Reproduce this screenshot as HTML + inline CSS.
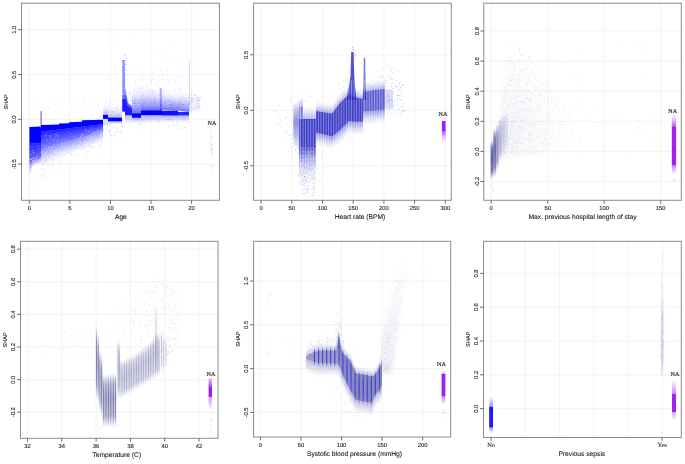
<!DOCTYPE html>
<html><head><meta charset="utf-8"><style>
html,body{margin:0;padding:0;background:#fff;}
body{width:685px;height:464px;overflow:hidden;}
svg{display:block;}
</style></head><body>
<svg width="685" height="464" viewBox="0 0 685 464">
<defs><filter id="b" filterUnits="userSpaceOnUse" x="0" y="0" width="685" height="464"><feGaussianBlur stdDeviation="0.55"/></filter><filter id="bb" filterUnits="userSpaceOnUse" x="0" y="0" width="685" height="464"><feGaussianBlur stdDeviation="2.2"/></filter><filter id="t" filterUnits="userSpaceOnUse" x="0" y="0" width="685" height="464"><feGaussianBlur stdDeviation="0.22"/></filter><linearGradient id="g4" x1="0" y1="0" x2="0" y2="1"><stop offset="0" stop-color="#6e6ea6" stop-opacity="0"/><stop offset="0.2" stop-color="#6e6ea6" stop-opacity="0.8"/><stop offset="0.45" stop-color="#6e6ea6" stop-opacity="1"/><stop offset="0.8" stop-color="#6e6ea6" stop-opacity="0.8"/><stop offset="1" stop-color="#6e6ea6" stop-opacity="0"/></linearGradient><linearGradient id="g5" x1="0" y1="0" x2="0" y2="1"><stop offset="0" stop-color="#3030d8" stop-opacity="0"/><stop offset="0.2" stop-color="#3030d8" stop-opacity="0.8"/><stop offset="0.45" stop-color="#3030d8" stop-opacity="1"/><stop offset="0.8" stop-color="#3030d8" stop-opacity="0.8"/><stop offset="1" stop-color="#3030d8" stop-opacity="0"/></linearGradient><linearGradient id="g3" x1="0" y1="0" x2="0" y2="1"><stop offset="0" stop-color="#5c5ca0" stop-opacity="0"/><stop offset="0.2" stop-color="#5c5ca0" stop-opacity="0.8"/><stop offset="0.45" stop-color="#5c5ca0" stop-opacity="1"/><stop offset="0.8" stop-color="#5c5ca0" stop-opacity="0.8"/><stop offset="1" stop-color="#5c5ca0" stop-opacity="0"/></linearGradient><linearGradient id="gm" x1="0" y1="0" x2="0" y2="1"><stop offset="0" stop-color="#a020f0" stop-opacity="0"/><stop offset="0.25" stop-color="#a020f0" stop-opacity="1"/><stop offset="0.75" stop-color="#a020f0" stop-opacity="1"/><stop offset="1" stop-color="#a020f0" stop-opacity="0"/></linearGradient></defs>
<rect width="685" height="464" fill="#fff"/>
<path d="M29.3 3.2V200.3M69.9 3.2V200.3M110.5 3.2V200.3M151 3.2V200.3M191.6 3.2V200.3M21.5 29.7H219.4M21.5 74.5H219.4M21.5 119.3H219.4M21.5 164.1H219.4" stroke="#f5f5f5" stroke-width="1.2" fill="none"/>
<g filter="url(#b)">
<path d="M132.4 36.3h0.8v0.8h-0.8zM165.1 30.4h0.8v0.8h-0.8zM153.6 52.4h0.8v0.8h-0.8zM105.8 63.1h0.8v0.8h-0.8zM103.7 57.5h0.8v0.8h-0.8zM107.0 31.8h0.8v0.8h-0.8zM142.5 87.0h0.8v0.8h-0.8zM112.4 41.7h0.8v0.8h-0.8zM162.7 96.1h0.8v0.8h-0.8zM157.7 54.8h0.8v0.8h-0.8zM197.6 28.5h0.8v0.8h-0.8zM185.8 46.7h0.8v0.8h-0.8zM114.4 33.8h0.8v0.8h-0.8zM130.8 86.2h0.8v0.8h-0.8zM118.1 68.6h0.8v0.8h-0.8zM163.9 52.9h0.8v0.8h-0.8zM154.8 29.7h0.8v0.8h-0.8zM106.0 40.4h0.8v0.8h-0.8zM168.0 57.1h0.8v0.8h-0.8zM131.4 68.9h0.8v0.8h-0.8zM145.3 47.5h0.8v0.8h-0.8zM179.4 77.4h0.8v0.8h-0.8zM124.4 68.1h0.8v0.8h-0.8zM152.5 90.6h0.8v0.8h-0.8zM172.9 46.6h0.8v0.8h-0.8z" fill="#0000ff" fill-opacity="0.15"/>
<path d="M57.9 122.6h0.7v0.7h-0.7zM99.5 116.6h0.7v0.7h-0.7zM74.7 116.2h0.7v0.7h-0.7zM36.7 114.8h0.7v0.7h-0.7zM93.7 114.1h0.7v0.7h-0.7zM63.5 109.9h0.7v0.7h-0.7zM90.3 99.3h0.7v0.7h-0.7zM99.4 111.3h0.7v0.7h-0.7zM92.9 116.8h0.7v0.7h-0.7zM68.4 119.6h0.7v0.7h-0.7zM89.6 118.3h0.7v0.7h-0.7zM67.3 105.7h0.7v0.7h-0.7zM86.9 118.6h0.7v0.7h-0.7zM100.8 115.3h0.7v0.7h-0.7zM48.2 107.7h0.7v0.7h-0.7zM29.3 120.2h0.7v0.7h-0.7zM52.6 117.7h0.7v0.7h-0.7zM70.0 108.4h0.7v0.7h-0.7zM36.8 102.7h0.7v0.7h-0.7zM79.9 108.0h0.7v0.7h-0.7zM35.2 122.1h0.7v0.7h-0.7zM51.6 118.9h0.7v0.7h-0.7zM30.3 102.2h0.7v0.7h-0.7zM83.2 112.1h0.7v0.7h-0.7zM65.6 121.4h0.7v0.7h-0.7zM50.7 109.1h0.7v0.7h-0.7zM101.0 111.9h0.7v0.7h-0.7zM79.5 116.7h0.7v0.7h-0.7zM88.0 118.5h0.7v0.7h-0.7zM68.6 115.6h0.7v0.7h-0.7zM83.5 102.3h0.7v0.7h-0.7zM48.7 117.9h0.7v0.7h-0.7zM47.8 118.4h0.7v0.7h-0.7zM80.2 116.2h0.7v0.7h-0.7zM37.8 123.3h0.7v0.7h-0.7zM100.6 108.7h0.7v0.7h-0.7zM44.6 113.1h0.7v0.7h-0.7zM94.6 117.1h0.7v0.7h-0.7zM95.4 109.9h0.7v0.7h-0.7zM52.4 121.6h0.7v0.7h-0.7zM36.5 121.4h0.7v0.7h-0.7zM84.7 115.1h0.7v0.7h-0.7zM32.6 124.4h0.7v0.7h-0.7zM70.2 106.9h0.7v0.7h-0.7zM102.7 108.8h0.7v0.7h-0.7zM64.0 113.3h0.7v0.7h-0.7zM100.9 102.1h0.7v0.7h-0.7zM31.9 119.7h0.7v0.7h-0.7zM97.1 115.2h0.7v0.7h-0.7zM45.5 113.7h0.7v0.7h-0.7zM100.1 117.1h0.7v0.7h-0.7zM97.5 101.4h0.7v0.7h-0.7zM52.1 120.9h0.7v0.7h-0.7zM45.4 118.9h0.7v0.7h-0.7zM99.4 110.3h0.7v0.7h-0.7zM97.9 104.8h0.7v0.7h-0.7zM98.3 118.5h0.7v0.7h-0.7zM53.5 99.6h0.7v0.7h-0.7zM89.8 108.2h0.7v0.7h-0.7zM33.6 124.2h0.7v0.7h-0.7zM52.4 103.0h0.7v0.7h-0.7zM89.9 119.3h0.7v0.7h-0.7zM84.7 102.1h0.7v0.7h-0.7zM102.1 102.7h0.7v0.7h-0.7zM91.7 115.8h0.7v0.7h-0.7zM56.6 118.2h0.7v0.7h-0.7zM94.4 113.0h0.7v0.7h-0.7zM56.5 122.4h0.7v0.7h-0.7zM77.2 100.7h0.7v0.7h-0.7zM53.2 116.2h0.7v0.7h-0.7zM102.7 105.9h0.7v0.7h-0.7zM82.9 100.7h0.7v0.7h-0.7zM59.1 123.0h0.7v0.7h-0.7zM74.9 121.0h0.7v0.7h-0.7zM67.3 106.6h0.7v0.7h-0.7zM31.8 121.5h0.7v0.7h-0.7zM74.8 110.1h0.7v0.7h-0.7zM85.5 119.6h0.7v0.7h-0.7zM42.3 109.5h0.7v0.7h-0.7zM38.5 108.1h0.7v0.7h-0.7zM61.7 110.7h0.7v0.7h-0.7zM86.5 110.8h0.7v0.7h-0.7zM83.2 120.7h0.7v0.7h-0.7zM49.3 120.8h0.7v0.7h-0.7zM41.5 119.7h0.7v0.7h-0.7zM32.6 120.9h0.7v0.7h-0.7zM72.4 115.8h0.7v0.7h-0.7zM39.0 124.7h0.7v0.7h-0.7zM98.3 118.1h0.7v0.7h-0.7zM59.0 101.8h0.7v0.7h-0.7zM91.5 118.4h0.7v0.7h-0.7zM83.9 108.8h0.7v0.7h-0.7zM36.8 101.6h0.7v0.7h-0.7zM91.6 117.3h0.7v0.7h-0.7zM34.8 123.9h0.7v0.7h-0.7zM97.7 105.3h0.7v0.7h-0.7zM35.7 120.9h0.7v0.7h-0.7zM65.4 120.1h0.7v0.7h-0.7zM87.2 114.6h0.7v0.7h-0.7zM35.4 123.1h0.7v0.7h-0.7zM53.2 111.1h0.7v0.7h-0.7zM87.8 118.1h0.7v0.7h-0.7zM43.5 114.9h0.7v0.7h-0.7zM44.3 106.7h0.7v0.7h-0.7zM81.8 114.7h0.7v0.7h-0.7zM76.3 121.2h0.7v0.7h-0.7zM49.3 107.1h0.7v0.7h-0.7zM86.5 120.6h0.7v0.7h-0.7zM63.7 112.4h0.7v0.7h-0.7zM96.0 119.7h0.7v0.7h-0.7z" fill="#0000ff" fill-opacity="0.13"/>
<path d="M29.4 127L41 126.4L41 143L29.4 144Z" fill="#0000ff" fill-opacity="1.0"/>
<path d="M29.4 144L41 143L41 144.3L29.4 145.6Z" fill="#0000ff" fill-opacity="0.111"/>
<path d="M29.4 144L41 143L41 145.6L29.4 147.2Z" fill="#0000ff" fill-opacity="0.1"/>
<path d="M29.4 144L41 143L41 146.9L29.4 148.8Z" fill="#0000ff" fill-opacity="0.091"/>
<path d="M29.4 144L41 143L41 148.2L29.4 150.4Z" fill="#0000ff" fill-opacity="0.083"/>
<path d="M29.4 144L41 143L41 149.5L29.4 152Z" fill="#0000ff" fill-opacity="0.077"/>
<path d="M29.4 144L41 143L41 150.8L29.4 153.6Z" fill="#0000ff" fill-opacity="0.071"/>
<path d="M29.4 144L41 143L41 152.1L29.4 155.2Z" fill="#0000ff" fill-opacity="0.067"/>
<path d="M29.4 144L41 143L41 153.4L29.4 156.8Z" fill="#0000ff" fill-opacity="0.062"/>
<path d="M29.4 144L41 143L41 154.7L29.4 158.4Z" fill="#0000ff" fill-opacity="0.059"/>
<path d="M29.4 144L41 143L41 156L29.4 160Z" fill="#0000ff" fill-opacity="0.66"/>
<path d="M29.4 160L31 160L33 159L41 156L41 156.7L33 159.7L31 161.2L29.4 161.4Z" fill="#0000ff" fill-opacity="0.136"/>
<path d="M29.4 160L31 160L33 159L41 156L41 157.4L33 160.4L31 162.4L29.4 162.8Z" fill="#0000ff" fill-opacity="0.12"/>
<path d="M29.4 160L31 160L33 159L41 156L41 158.1L33 161.1L31 163.6L29.4 164.2Z" fill="#0000ff" fill-opacity="0.107"/>
<path d="M29.4 160L31 160L33 159L41 156L41 158.8L33 161.8L31 164.8L29.4 165.6Z" fill="#0000ff" fill-opacity="0.097"/>
<path d="M29.4 160L31 160L33 159L41 156L41 159.5L33 162.5L31 166L29.4 167Z" fill="#0000ff" fill-opacity="0.088"/>
<path d="M29.4 160L31 160L33 159L41 156L41 160.2L33 163.2L31 167.2L29.4 168.4Z" fill="#0000ff" fill-opacity="0.081"/>
<path d="M29.4 160L31 160L33 159L41 156L41 160.9L33 163.9L31 168.4L29.4 169.8Z" fill="#0000ff" fill-opacity="0.075"/>
<path d="M29.4 160L31 160L33 159L41 156L41 161.6L33 164.6L31 169.6L29.4 171.2Z" fill="#0000ff" fill-opacity="0.07"/>
<path d="M29.4 160L31 160L33 159L41 156L41 162.3L33 165.3L31 170.8L29.4 172.6Z" fill="#0000ff" fill-opacity="0.065"/>
<path d="M29.4 160L31 160L33 159L41 156L41 163L33 166L31 172L29.4 174Z" fill="#0000ff" fill-opacity="0.08"/>
<path d="M31.4 171.2h0.7v0.7h-0.7zM42.2 175.1h0.7v0.7h-0.7zM31.6 194.6h0.7v0.7h-0.7zM42.5 168.9h0.7v0.7h-0.7zM43.3 169.9h0.7v0.7h-0.7zM40.8 181.6h0.7v0.7h-0.7zM41.6 178.4h0.7v0.7h-0.7zM33.5 171.2h0.7v0.7h-0.7zM31.4 180.3h0.7v0.7h-0.7zM30.0 179.3h0.7v0.7h-0.7zM31.5 180.2h0.7v0.7h-0.7zM37.5 181.9h0.7v0.7h-0.7zM43.3 179.4h0.7v0.7h-0.7zM38.6 186.3h0.7v0.7h-0.7zM43.3 176.1h0.7v0.7h-0.7zM30.3 185.3h0.7v0.7h-0.7zM39.8 164.0h0.7v0.7h-0.7zM39.4 186.9h0.7v0.7h-0.7zM44.8 174.6h0.7v0.7h-0.7zM29.6 188.1h0.7v0.7h-0.7zM39.6 174.9h0.7v0.7h-0.7zM43.6 175.8h0.7v0.7h-0.7zM37.1 181.4h0.7v0.7h-0.7zM42.1 170.4h0.7v0.7h-0.7zM36.4 177.8h0.7v0.7h-0.7zM34.0 192.0h0.7v0.7h-0.7zM35.9 180.6h0.7v0.7h-0.7zM33.6 180.7h0.7v0.7h-0.7zM42.5 174.6h0.7v0.7h-0.7zM34.4 173.5h0.7v0.7h-0.7z" fill="#0000ff" fill-opacity="0.13"/>
<path d="M36.6 163.2h0.8v0.8h-0.8zM31.9 164.3h0.8v0.8h-0.8zM38.2 147.9h0.8v0.8h-0.8zM38.5 161.3h0.8v0.8h-0.8zM32.9 157.2h0.8v0.8h-0.8zM30.0 161.5h0.8v0.8h-0.8zM30.8 168.5h0.8v0.8h-0.8zM40.1 157.9h0.8v0.8h-0.8zM40.8 158.8h0.8v0.8h-0.8zM30.6 163.7h0.8v0.8h-0.8zM29.5 164.8h0.8v0.8h-0.8zM37.7 145.3h0.8v0.8h-0.8zM31.1 168.1h0.8v0.8h-0.8zM36.9 163.3h0.8v0.8h-0.8zM36.0 153.5h0.8v0.8h-0.8zM36.4 153.9h0.8v0.8h-0.8zM38.8 153.2h0.8v0.8h-0.8zM29.9 169.2h0.8v0.8h-0.8zM39.5 161.6h0.8v0.8h-0.8zM37.3 158.5h0.8v0.8h-0.8zM32.4 166.8h0.8v0.8h-0.8zM35.5 158.8h0.8v0.8h-0.8zM31.6 150.6h0.8v0.8h-0.8zM34.1 160.0h0.8v0.8h-0.8zM33.4 160.1h0.8v0.8h-0.8zM39.4 159.1h0.8v0.8h-0.8zM40.6 152.4h0.8v0.8h-0.8zM31.7 150.2h0.8v0.8h-0.8zM32.4 161.4h0.8v0.8h-0.8zM34.0 158.0h0.8v0.8h-0.8zM29.9 167.8h0.8v0.8h-0.8zM30.6 154.4h0.8v0.8h-0.8zM30.8 159.0h0.8v0.8h-0.8zM29.5 165.8h0.8v0.8h-0.8zM29.8 171.9h0.8v0.8h-0.8zM34.9 163.2h0.8v0.8h-0.8zM32.5 156.9h0.8v0.8h-0.8zM30.1 171.0h0.8v0.8h-0.8zM31.8 158.8h0.8v0.8h-0.8zM29.6 168.4h0.8v0.8h-0.8zM39.1 160.3h0.8v0.8h-0.8zM31.9 161.6h0.8v0.8h-0.8zM31.5 167.3h0.8v0.8h-0.8zM31.7 147.3h0.8v0.8h-0.8zM36.5 159.4h0.8v0.8h-0.8zM31.8 162.8h0.8v0.8h-0.8zM38.8 161.9h0.8v0.8h-0.8zM30.2 166.2h0.8v0.8h-0.8zM39.4 159.3h0.8v0.8h-0.8zM35.4 157.9h0.8v0.8h-0.8zM35.1 159.9h0.8v0.8h-0.8zM32.0 150.3h0.8v0.8h-0.8zM36.4 161.7h0.8v0.8h-0.8zM37.7 146.3h0.8v0.8h-0.8zM35.1 159.5h0.8v0.8h-0.8zM30.8 156.8h0.8v0.8h-0.8zM38.4 154.8h0.8v0.8h-0.8zM30.2 157.6h0.8v0.8h-0.8zM29.8 163.6h0.8v0.8h-0.8zM32.3 160.1h0.8v0.8h-0.8zM40.4 153.3h0.8v0.8h-0.8zM40.5 159.9h0.8v0.8h-0.8zM34.8 160.5h0.8v0.8h-0.8zM34.1 153.4h0.8v0.8h-0.8zM36.5 161.5h0.8v0.8h-0.8zM31.7 165.6h0.8v0.8h-0.8zM35.8 162.8h0.8v0.8h-0.8zM33.0 152.0h0.8v0.8h-0.8zM32.2 161.1h0.8v0.8h-0.8zM33.5 164.6h0.8v0.8h-0.8zM30.9 170.3h0.8v0.8h-0.8zM38.3 162.0h0.8v0.8h-0.8zM40.6 161.6h0.8v0.8h-0.8zM36.4 156.0h0.8v0.8h-0.8zM39.3 159.5h0.8v0.8h-0.8zM31.5 153.8h0.8v0.8h-0.8zM36.1 161.9h0.8v0.8h-0.8zM37.2 160.2h0.8v0.8h-0.8zM40.6 159.1h0.8v0.8h-0.8zM39.0 159.9h0.8v0.8h-0.8zM39.7 157.2h0.8v0.8h-0.8zM32.8 159.8h0.8v0.8h-0.8zM36.2 164.4h0.8v0.8h-0.8zM35.2 161.0h0.8v0.8h-0.8zM36.1 156.9h0.8v0.8h-0.8zM31.2 167.0h0.8v0.8h-0.8zM33.5 149.9h0.8v0.8h-0.8zM30.6 171.2h0.8v0.8h-0.8zM33.4 158.0h0.8v0.8h-0.8zM30.0 170.8h0.8v0.8h-0.8zM32.8 161.3h0.8v0.8h-0.8zM35.6 156.2h0.8v0.8h-0.8zM33.5 152.1h0.8v0.8h-0.8zM32.7 151.9h0.8v0.8h-0.8zM37.1 154.9h0.8v0.8h-0.8zM30.9 165.5h0.8v0.8h-0.8zM39.8 162.0h0.8v0.8h-0.8zM32.3 162.6h0.8v0.8h-0.8zM33.9 164.1h0.8v0.8h-0.8zM33.0 156.3h0.8v0.8h-0.8zM33.1 164.2h0.8v0.8h-0.8zM39.4 148.8h0.8v0.8h-0.8zM29.7 164.7h0.8v0.8h-0.8zM33.5 163.2h0.8v0.8h-0.8zM29.9 146.2h0.8v0.8h-0.8zM31.7 153.8h0.8v0.8h-0.8zM31.5 169.3h0.8v0.8h-0.8zM37.3 155.1h0.8v0.8h-0.8zM30.7 168.0h0.8v0.8h-0.8zM30.4 165.1h0.8v0.8h-0.8z" fill="#ffffff" fill-opacity="0.4"/>
<rect x="40.6" y="111" width="1" height="15" fill="#0000ff" fill-opacity="0.7"/>
<path d="M41 125L59 124.6L59.1 123.5L69 123.2L69.1 122.2L82 121.8L82.1 120.2L103 119.8L103 124.2L100 124.4L60 129.4L41 131.5Z" fill="#0000ff" fill-opacity="1.0"/>
<path d="M41 131.5L60 129.4L80 126.9L100 124.4L103 124.2L103 124.8L100 125.1L80 128.1L60 130.8L41 133.3Z" fill="#0000ff" fill-opacity="0.222"/>
<path d="M41 131.5L60 129.4L80 126.9L100 124.4L103 124.2L103 125.4L100 125.7L80 129.2L60 132.2L41 135.2Z" fill="#0000ff" fill-opacity="0.182"/>
<path d="M41 131.5L60 129.4L80 126.9L100 124.4L103 124.2L103 125.9L100 126.4L80 130.4L60 133.6L41 137.1Z" fill="#0000ff" fill-opacity="0.154"/>
<path d="M41 131.5L60 129.4L80 126.9L100 124.4L103 124.2L103 126.5L100 127L80 131.5L60 135L41 138.9Z" fill="#0000ff" fill-opacity="0.133"/>
<path d="M41 131.5L60 129.4L80 126.9L100 124.4L103 124.2L103 127.1L100 127.7L80 132.7L60 136.4L41 140.8Z" fill="#0000ff" fill-opacity="0.118"/>
<path d="M41 131.5L60 129.4L80 126.9L100 124.4L103 124.2L103 127.7L100 128.4L80 133.9L60 137.9L41 142.6Z" fill="#0000ff" fill-opacity="0.105"/>
<path d="M41 131.5L60 129.4L80 126.9L100 124.4L103 124.2L103 128.3L100 129L80 135L60 139.3L41 144.4Z" fill="#0000ff" fill-opacity="0.095"/>
<path d="M41 131.5L60 129.4L80 126.9L100 124.4L103 124.2L103 128.8L100 129.7L80 136.2L60 140.7L41 146.3Z" fill="#0000ff" fill-opacity="0.087"/>
<path d="M41 131.5L60 129.4L80 126.9L100 124.4L103 124.2L103 129.4L100 130.3L80 137.3L60 142.1L41 148.2Z" fill="#0000ff" fill-opacity="0.08"/>
<path d="M41 131.5L60 129.4L80 126.9L100 124.4L103 124.2L103 130L100 131L80 138.5L60 143.5L41 150Z" fill="#0000ff" fill-opacity="0.5"/>
<path d="M41 150L60 143.5L80 138.5L100 131L103 130L103 131.2L100 132.2L80 139.7L60 144.8L41 151.7Z" fill="#0000ff" fill-opacity="0.084"/>
<path d="M41 150L60 143.5L80 138.5L100 131L103 130L103 132.3L100 133.3L80 140.8L60 146.2L41 153.4Z" fill="#0000ff" fill-opacity="0.075"/>
<path d="M41 150L60 143.5L80 138.5L100 131L103 130L103 133.4L100 134.4L80 141.9L60 147.6L41 155.1Z" fill="#0000ff" fill-opacity="0.067"/>
<path d="M41 150L60 143.5L80 138.5L100 131L103 130L103 134.6L100 135.6L80 143.1L60 148.9L41 156.8Z" fill="#0000ff" fill-opacity="0.06"/>
<path d="M41 150L60 143.5L80 138.5L100 131L103 130L103 135.8L100 136.8L80 144.2L60 150.2L41 158.5Z" fill="#0000ff" fill-opacity="0.054"/>
<path d="M41 150L60 143.5L80 138.5L100 131L103 130L103 136.9L100 137.9L80 145.4L60 151.6L41 160.2Z" fill="#0000ff" fill-opacity="0.048"/>
<path d="M41 150L60 143.5L80 138.5L100 131L103 130L103 138.1L100 139.1L80 146.6L60 152.9L41 161.9Z" fill="#0000ff" fill-opacity="0.042"/>
<path d="M41 150L60 143.5L80 138.5L100 131L103 130L103 139.2L100 140.2L80 147.7L60 154.3L41 163.6Z" fill="#0000ff" fill-opacity="0.036"/>
<path d="M41 150L60 143.5L80 138.5L100 131L103 130L103 140.3L100 141.3L80 148.8L60 155.7L41 165.3Z" fill="#0000ff" fill-opacity="0.028"/>
<path d="M41 150L60 143.5L80 138.5L100 131L103 130L103 141.5L100 142.5L80 150L60 157L41 167Z" fill="#0000ff" fill-opacity="0.039"/>
<path d="M79.9 148.8h0.8v0.8h-0.8zM44.4 160.1h0.8v0.8h-0.8zM67.6 151.5h0.8v0.8h-0.8zM98.5 133.9h0.8v0.8h-0.8zM57.2 153.1h0.8v0.8h-0.8zM74.7 139.5h0.8v0.8h-0.8zM44.7 144.5h0.8v0.8h-0.8zM66.5 137.3h0.8v0.8h-0.8zM55.7 139.1h0.8v0.8h-0.8zM73.0 148.5h0.8v0.8h-0.8zM99.0 144.2h0.8v0.8h-0.8zM49.8 153.9h0.8v0.8h-0.8zM51.5 158.7h0.8v0.8h-0.8zM78.1 149.2h0.8v0.8h-0.8zM48.1 141.3h0.8v0.8h-0.8zM63.3 137.5h0.8v0.8h-0.8zM44.7 140.9h0.8v0.8h-0.8zM53.2 160.3h0.8v0.8h-0.8zM61.1 149.6h0.8v0.8h-0.8zM63.5 135.7h0.8v0.8h-0.8zM46.2 161.0h0.8v0.8h-0.8zM47.7 150.5h0.8v0.8h-0.8zM67.9 136.7h0.8v0.8h-0.8zM81.5 139.6h0.8v0.8h-0.8zM42.7 163.6h0.8v0.8h-0.8zM93.1 141.6h0.8v0.8h-0.8zM52.5 157.4h0.8v0.8h-0.8zM51.4 164.1h0.8v0.8h-0.8zM61.3 136.5h0.8v0.8h-0.8zM92.2 142.7h0.8v0.8h-0.8zM63.8 153.4h0.8v0.8h-0.8zM71.7 151.0h0.8v0.8h-0.8zM50.8 141.8h0.8v0.8h-0.8zM83.7 135.5h0.8v0.8h-0.8zM68.2 136.8h0.8v0.8h-0.8zM89.8 147.6h0.8v0.8h-0.8zM58.6 158.4h0.8v0.8h-0.8zM72.9 147.4h0.8v0.8h-0.8zM62.0 148.2h0.8v0.8h-0.8zM97.0 135.6h0.8v0.8h-0.8zM59.3 148.4h0.8v0.8h-0.8zM75.9 144.0h0.8v0.8h-0.8zM61.1 149.2h0.8v0.8h-0.8zM91.3 130.8h0.8v0.8h-0.8zM59.4 154.3h0.8v0.8h-0.8zM81.1 141.8h0.8v0.8h-0.8zM83.1 148.6h0.8v0.8h-0.8zM46.3 158.4h0.8v0.8h-0.8zM64.1 154.7h0.8v0.8h-0.8zM66.8 152.4h0.8v0.8h-0.8zM76.0 146.2h0.8v0.8h-0.8zM48.0 167.7h0.8v0.8h-0.8zM73.9 139.6h0.8v0.8h-0.8zM71.3 153.5h0.8v0.8h-0.8zM55.0 154.3h0.8v0.8h-0.8zM48.0 151.6h0.8v0.8h-0.8zM87.9 133.3h0.8v0.8h-0.8zM47.3 166.2h0.8v0.8h-0.8zM65.3 135.9h0.8v0.8h-0.8zM89.0 134.3h0.8v0.8h-0.8zM55.7 145.1h0.8v0.8h-0.8zM41.9 155.3h0.8v0.8h-0.8zM54.2 141.8h0.8v0.8h-0.8zM84.9 147.6h0.8v0.8h-0.8zM51.4 162.3h0.8v0.8h-0.8zM48.6 145.2h0.8v0.8h-0.8zM82.9 139.7h0.8v0.8h-0.8zM53.0 148.6h0.8v0.8h-0.8zM47.8 164.8h0.8v0.8h-0.8zM52.5 153.5h0.8v0.8h-0.8zM59.0 159.6h0.8v0.8h-0.8zM99.8 128.6h0.8v0.8h-0.8zM52.3 165.6h0.8v0.8h-0.8zM83.1 146.1h0.8v0.8h-0.8zM70.5 135.3h0.8v0.8h-0.8zM93.4 146.1h0.8v0.8h-0.8zM45.7 143.1h0.8v0.8h-0.8zM51.5 144.6h0.8v0.8h-0.8zM70.0 154.5h0.8v0.8h-0.8zM65.0 144.3h0.8v0.8h-0.8zM41.4 154.6h0.8v0.8h-0.8zM82.6 140.5h0.8v0.8h-0.8zM57.9 151.0h0.8v0.8h-0.8zM57.2 154.2h0.8v0.8h-0.8zM102.5 129.6h0.8v0.8h-0.8zM63.5 141.0h0.8v0.8h-0.8zM86.9 151.4h0.8v0.8h-0.8zM80.4 144.1h0.8v0.8h-0.8zM75.1 146.7h0.8v0.8h-0.8zM44.7 143.5h0.8v0.8h-0.8zM70.9 144.9h0.8v0.8h-0.8zM56.1 138.8h0.8v0.8h-0.8zM41.4 168.1h0.8v0.8h-0.8zM69.1 148.5h0.8v0.8h-0.8zM76.3 141.9h0.8v0.8h-0.8zM59.7 142.2h0.8v0.8h-0.8zM99.1 143.7h0.8v0.8h-0.8zM45.2 150.3h0.8v0.8h-0.8zM96.7 140.7h0.8v0.8h-0.8zM51.2 140.3h0.8v0.8h-0.8zM84.7 138.0h0.8v0.8h-0.8zM65.8 137.2h0.8v0.8h-0.8zM81.2 137.0h0.8v0.8h-0.8zM52.7 152.7h0.8v0.8h-0.8zM98.2 137.8h0.8v0.8h-0.8zM81.2 146.6h0.8v0.8h-0.8zM83.1 143.5h0.8v0.8h-0.8zM44.6 147.1h0.8v0.8h-0.8zM43.8 156.8h0.8v0.8h-0.8zM61.7 150.7h0.8v0.8h-0.8zM78.1 139.8h0.8v0.8h-0.8zM102.2 130.6h0.8v0.8h-0.8zM88.6 132.1h0.8v0.8h-0.8zM91.5 147.5h0.8v0.8h-0.8zM74.4 155.1h0.8v0.8h-0.8zM78.3 143.2h0.8v0.8h-0.8zM86.9 139.9h0.8v0.8h-0.8zM89.1 142.2h0.8v0.8h-0.8zM69.1 140.8h0.8v0.8h-0.8zM89.0 144.7h0.8v0.8h-0.8z" fill="#0000ff" fill-opacity="0.22"/>
<path d="M72.1 149.3h0.8v0.8h-0.8zM99.3 141.4h0.8v0.8h-0.8zM71.9 152.7h0.8v0.8h-0.8zM90.6 145.3h0.8v0.8h-0.8zM45.1 153.1h0.8v0.8h-0.8zM54.9 136.6h0.8v0.8h-0.8zM67.9 135.7h0.8v0.8h-0.8zM54.4 149.9h0.8v0.8h-0.8zM57.6 157.6h0.8v0.8h-0.8zM78.1 145.0h0.8v0.8h-0.8zM102.7 138.5h0.8v0.8h-0.8zM41.6 164.3h0.8v0.8h-0.8zM86.6 130.1h0.8v0.8h-0.8zM48.5 146.5h0.8v0.8h-0.8zM50.2 157.0h0.8v0.8h-0.8zM98.0 140.7h0.8v0.8h-0.8zM86.3 137.5h0.8v0.8h-0.8zM43.7 147.4h0.8v0.8h-0.8zM75.5 141.2h0.8v0.8h-0.8zM74.7 149.1h0.8v0.8h-0.8zM85.5 142.8h0.8v0.8h-0.8zM65.0 142.2h0.8v0.8h-0.8zM56.8 151.7h0.8v0.8h-0.8zM55.9 134.3h0.8v0.8h-0.8zM61.1 153.1h0.8v0.8h-0.8zM55.5 152.4h0.8v0.8h-0.8zM64.5 155.9h0.8v0.8h-0.8zM73.6 151.7h0.8v0.8h-0.8zM61.0 152.4h0.8v0.8h-0.8zM54.8 151.7h0.8v0.8h-0.8zM85.7 147.9h0.8v0.8h-0.8zM73.8 148.0h0.8v0.8h-0.8zM91.4 136.0h0.8v0.8h-0.8zM92.0 145.3h0.8v0.8h-0.8zM73.3 145.0h0.8v0.8h-0.8zM84.1 144.9h0.8v0.8h-0.8zM50.3 154.6h0.8v0.8h-0.8zM73.3 136.0h0.8v0.8h-0.8zM62.1 142.0h0.8v0.8h-0.8zM53.5 150.0h0.8v0.8h-0.8zM52.1 156.2h0.8v0.8h-0.8zM79.3 141.6h0.8v0.8h-0.8zM91.3 140.8h0.8v0.8h-0.8zM85.1 141.6h0.8v0.8h-0.8zM87.9 141.9h0.8v0.8h-0.8zM77.8 145.4h0.8v0.8h-0.8zM93.1 143.4h0.8v0.8h-0.8zM96.2 144.5h0.8v0.8h-0.8zM83.2 149.3h0.8v0.8h-0.8zM88.7 131.0h0.8v0.8h-0.8zM45.8 160.3h0.8v0.8h-0.8zM46.5 157.6h0.8v0.8h-0.8zM44.4 154.6h0.8v0.8h-0.8zM83.8 143.6h0.8v0.8h-0.8zM95.1 132.1h0.8v0.8h-0.8zM102.3 137.5h0.8v0.8h-0.8zM75.5 147.5h0.8v0.8h-0.8zM56.9 134.5h0.8v0.8h-0.8zM74.3 141.7h0.8v0.8h-0.8zM71.3 150.5h0.8v0.8h-0.8zM60.5 148.4h0.8v0.8h-0.8zM76.0 139.6h0.8v0.8h-0.8zM44.0 162.2h0.8v0.8h-0.8zM82.8 138.4h0.8v0.8h-0.8zM66.7 153.7h0.8v0.8h-0.8zM92.8 138.3h0.8v0.8h-0.8zM77.1 139.4h0.8v0.8h-0.8zM64.6 152.9h0.8v0.8h-0.8zM86.2 144.1h0.8v0.8h-0.8zM48.1 160.8h0.8v0.8h-0.8zM78.1 148.7h0.8v0.8h-0.8zM61.7 144.9h0.8v0.8h-0.8zM49.2 150.3h0.8v0.8h-0.8zM64.2 153.9h0.8v0.8h-0.8zM51.2 148.5h0.8v0.8h-0.8zM41.9 165.6h0.8v0.8h-0.8zM50.5 137.1h0.8v0.8h-0.8zM65.4 147.8h0.8v0.8h-0.8zM85.1 128.6h0.8v0.8h-0.8zM41.7 165.5h0.8v0.8h-0.8zM56.2 156.8h0.8v0.8h-0.8zM50.4 140.5h0.8v0.8h-0.8zM90.1 146.1h0.8v0.8h-0.8zM47.9 160.1h0.8v0.8h-0.8zM78.5 145.2h0.8v0.8h-0.8zM79.4 138.3h0.8v0.8h-0.8zM57.8 155.4h0.8v0.8h-0.8zM48.5 154.7h0.8v0.8h-0.8zM92.0 133.7h0.8v0.8h-0.8zM100.4 141.2h0.8v0.8h-0.8zM96.4 142.6h0.8v0.8h-0.8zM51.1 148.1h0.8v0.8h-0.8zM56.6 140.8h0.8v0.8h-0.8zM45.7 152.2h0.8v0.8h-0.8zM100.4 141.2h0.8v0.8h-0.8zM80.2 141.8h0.8v0.8h-0.8zM44.5 161.1h0.8v0.8h-0.8zM59.1 148.9h0.8v0.8h-0.8zM51.6 139.1h0.8v0.8h-0.8zM100.7 133.9h0.8v0.8h-0.8zM99.5 134.3h0.8v0.8h-0.8zM70.2 149.5h0.8v0.8h-0.8zM87.7 137.6h0.8v0.8h-0.8zM58.9 152.5h0.8v0.8h-0.8zM57.5 136.2h0.8v0.8h-0.8zM87.0 140.4h0.8v0.8h-0.8zM91.0 140.7h0.8v0.8h-0.8zM96.9 131.6h0.8v0.8h-0.8zM76.8 143.0h0.8v0.8h-0.8zM50.4 154.2h0.8v0.8h-0.8zM57.9 134.9h0.8v0.8h-0.8zM90.7 141.1h0.8v0.8h-0.8zM45.5 161.2h0.8v0.8h-0.8zM41.2 152.4h0.8v0.8h-0.8zM43.5 160.8h0.8v0.8h-0.8zM54.9 152.4h0.8v0.8h-0.8zM61.5 149.9h0.8v0.8h-0.8zM42.9 158.7h0.8v0.8h-0.8zM72.3 143.8h0.8v0.8h-0.8zM77.3 142.8h0.8v0.8h-0.8zM45.4 146.1h0.8v0.8h-0.8zM69.1 154.7h0.8v0.8h-0.8zM69.2 140.4h0.8v0.8h-0.8zM66.0 137.9h0.8v0.8h-0.8zM86.6 147.7h0.8v0.8h-0.8zM53.3 155.6h0.8v0.8h-0.8zM57.5 149.5h0.8v0.8h-0.8zM44.9 134.6h0.8v0.8h-0.8zM80.1 137.1h0.8v0.8h-0.8zM90.9 145.1h0.8v0.8h-0.8zM75.9 147.3h0.8v0.8h-0.8zM93.2 131.6h0.8v0.8h-0.8zM54.3 150.6h0.8v0.8h-0.8zM41.6 160.9h0.8v0.8h-0.8zM80.6 134.6h0.8v0.8h-0.8zM97.2 142.1h0.8v0.8h-0.8zM77.7 131.3h0.8v0.8h-0.8zM69.3 150.6h0.8v0.8h-0.8zM84.8 144.5h0.8v0.8h-0.8zM65.8 154.3h0.8v0.8h-0.8zM55.9 153.3h0.8v0.8h-0.8zM90.8 127.6h0.8v0.8h-0.8zM57.3 132.4h0.8v0.8h-0.8zM51.1 147.5h0.8v0.8h-0.8zM79.4 151.0h0.8v0.8h-0.8zM74.8 138.2h0.8v0.8h-0.8zM41.5 157.3h0.8v0.8h-0.8zM53.8 144.0h0.8v0.8h-0.8zM59.8 158.0h0.8v0.8h-0.8zM73.2 145.1h0.8v0.8h-0.8zM56.7 138.6h0.8v0.8h-0.8zM98.1 139.8h0.8v0.8h-0.8zM47.5 160.7h0.8v0.8h-0.8zM79.9 141.4h0.8v0.8h-0.8zM46.6 134.9h0.8v0.8h-0.8zM87.7 136.4h0.8v0.8h-0.8zM42.7 155.0h0.8v0.8h-0.8zM84.1 138.8h0.8v0.8h-0.8zM63.4 132.0h0.8v0.8h-0.8zM42.9 160.8h0.8v0.8h-0.8zM82.6 137.7h0.8v0.8h-0.8zM50.8 153.7h0.8v0.8h-0.8zM82.0 133.6h0.8v0.8h-0.8zM64.7 153.4h0.8v0.8h-0.8zM41.9 161.8h0.8v0.8h-0.8zM100.7 141.3h0.8v0.8h-0.8zM49.6 159.1h0.8v0.8h-0.8zM63.7 148.0h0.8v0.8h-0.8zM56.4 159.4h0.8v0.8h-0.8zM54.9 134.1h0.8v0.8h-0.8zM85.1 129.9h0.8v0.8h-0.8zM70.7 133.3h0.8v0.8h-0.8zM68.3 131.0h0.8v0.8h-0.8zM54.8 157.3h0.8v0.8h-0.8zM73.5 136.1h0.8v0.8h-0.8zM94.6 134.9h0.8v0.8h-0.8zM45.6 145.0h0.8v0.8h-0.8zM53.7 153.8h0.8v0.8h-0.8zM70.9 133.6h0.8v0.8h-0.8zM81.5 147.6h0.8v0.8h-0.8zM96.9 129.4h0.8v0.8h-0.8zM43.2 144.4h0.8v0.8h-0.8zM52.9 157.5h0.8v0.8h-0.8zM99.2 142.9h0.8v0.8h-0.8zM41.8 165.8h0.8v0.8h-0.8zM61.0 143.1h0.8v0.8h-0.8zM41.0 151.5h0.8v0.8h-0.8zM69.2 149.6h0.8v0.8h-0.8zM49.5 136.1h0.8v0.8h-0.8zM100.5 132.3h0.8v0.8h-0.8zM44.5 135.8h0.8v0.8h-0.8zM77.3 145.0h0.8v0.8h-0.8zM97.7 130.4h0.8v0.8h-0.8zM95.0 143.6h0.8v0.8h-0.8zM81.5 147.5h0.8v0.8h-0.8zM56.1 153.6h0.8v0.8h-0.8zM100.7 134.1h0.8v0.8h-0.8zM52.3 155.1h0.8v0.8h-0.8zM79.7 145.8h0.8v0.8h-0.8zM89.7 135.8h0.8v0.8h-0.8zM100.4 134.7h0.8v0.8h-0.8zM55.4 156.9h0.8v0.8h-0.8zM48.9 135.3h0.8v0.8h-0.8zM49.4 143.1h0.8v0.8h-0.8zM42.1 154.4h0.8v0.8h-0.8zM53.2 158.2h0.8v0.8h-0.8zM41.2 135.7h0.8v0.8h-0.8zM60.8 143.5h0.8v0.8h-0.8zM46.2 132.8h0.8v0.8h-0.8zM57.3 159.3h0.8v0.8h-0.8zM62.2 146.7h0.8v0.8h-0.8zM83.9 142.2h0.8v0.8h-0.8zM55.2 159.5h0.8v0.8h-0.8zM46.8 150.6h0.8v0.8h-0.8zM90.1 135.7h0.8v0.8h-0.8zM82.1 149.7h0.8v0.8h-0.8zM52.9 150.5h0.8v0.8h-0.8zM80.3 136.1h0.8v0.8h-0.8zM67.3 148.4h0.8v0.8h-0.8zM42.9 156.4h0.8v0.8h-0.8zM59.0 152.9h0.8v0.8h-0.8zM57.2 132.6h0.8v0.8h-0.8zM90.3 139.0h0.8v0.8h-0.8zM95.4 145.4h0.8v0.8h-0.8zM48.4 147.3h0.8v0.8h-0.8zM63.5 156.1h0.8v0.8h-0.8zM89.1 130.5h0.8v0.8h-0.8zM65.0 146.3h0.8v0.8h-0.8zM82.4 135.3h0.8v0.8h-0.8zM88.8 141.6h0.8v0.8h-0.8zM80.5 137.7h0.8v0.8h-0.8zM100.7 128.2h0.8v0.8h-0.8zM88.6 131.7h0.8v0.8h-0.8zM92.7 133.1h0.8v0.8h-0.8zM88.4 143.9h0.8v0.8h-0.8zM78.5 138.1h0.8v0.8h-0.8zM47.6 160.2h0.8v0.8h-0.8zM91.8 137.2h0.8v0.8h-0.8zM64.2 140.8h0.8v0.8h-0.8zM49.3 148.6h0.8v0.8h-0.8zM54.3 140.3h0.8v0.8h-0.8zM47.2 139.7h0.8v0.8h-0.8zM90.4 135.5h0.8v0.8h-0.8zM45.2 157.1h0.8v0.8h-0.8zM100.2 139.0h0.8v0.8h-0.8zM82.3 134.7h0.8v0.8h-0.8zM43.2 150.8h0.8v0.8h-0.8zM85.5 144.0h0.8v0.8h-0.8zM89.9 141.0h0.8v0.8h-0.8zM64.6 155.8h0.8v0.8h-0.8zM53.5 138.7h0.8v0.8h-0.8zM90.8 143.8h0.8v0.8h-0.8zM72.8 145.7h0.8v0.8h-0.8zM87.4 136.0h0.8v0.8h-0.8zM45.3 159.5h0.8v0.8h-0.8zM102.9 140.1h0.8v0.8h-0.8zM56.2 134.4h0.8v0.8h-0.8zM66.4 152.0h0.8v0.8h-0.8zM51.0 135.2h0.8v0.8h-0.8zM52.4 146.1h0.8v0.8h-0.8z" fill="#ffffff" fill-opacity="0.45"/>
<path d="M53.3 164.9h0.8v0.8h-0.8zM45.5 169.5h0.8v0.8h-0.8zM63.0 157.9h0.8v0.8h-0.8zM41.4 175.7h0.8v0.8h-0.8zM86.2 154.9h0.8v0.8h-0.8zM65.9 158.2h0.8v0.8h-0.8zM59.5 163.3h0.8v0.8h-0.8zM99.9 146.1h0.8v0.8h-0.8zM83.0 154.3h0.8v0.8h-0.8zM61.0 160.1h0.8v0.8h-0.8zM71.7 155.3h0.8v0.8h-0.8zM96.5 154.7h0.8v0.8h-0.8zM80.6 160.0h0.8v0.8h-0.8zM61.6 156.3h0.8v0.8h-0.8zM57.2 155.6h0.8v0.8h-0.8zM65.0 155.2h0.8v0.8h-0.8zM91.9 146.7h0.8v0.8h-0.8zM90.9 146.2h0.8v0.8h-0.8zM57.4 170.8h0.8v0.8h-0.8zM98.2 143.8h0.8v0.8h-0.8zM53.0 171.4h0.8v0.8h-0.8zM46.8 176.7h0.8v0.8h-0.8zM101.6 141.6h0.8v0.8h-0.8zM42.4 169.7h0.8v0.8h-0.8zM78.3 154.2h0.8v0.8h-0.8zM86.2 157.2h0.8v0.8h-0.8zM60.6 155.8h0.8v0.8h-0.8zM83.7 153.4h0.8v0.8h-0.8zM88.0 151.0h0.8v0.8h-0.8zM87.9 146.3h0.8v0.8h-0.8z" fill="#0000ff" fill-opacity="0.18"/>
<rect x="103" y="114.9" width="5" height="4" fill="#0000ff" fill-opacity="1.0"/>
<rect x="108" y="117.5" width="14" height="3.8" fill="#0000ff" fill-opacity="1.0"/>
<rect x="103" y="119" width="5" height="6" fill="#0000ff" fill-opacity="0.12"/>
<path d="M108 121.3L122 121.3L122 121.6L108 121.6Z" fill="#0000ff" fill-opacity="0.061"/>
<path d="M108 121.3L122 121.3L122 121.8L108 121.8Z" fill="#0000ff" fill-opacity="0.057"/>
<path d="M108 121.3L122 121.3L122 122.1L108 122.1Z" fill="#0000ff" fill-opacity="0.054"/>
<path d="M108 121.3L122 121.3L122 122.4L108 122.4Z" fill="#0000ff" fill-opacity="0.051"/>
<path d="M108 121.3L122 121.3L122 122.7L108 122.7Z" fill="#0000ff" fill-opacity="0.049"/>
<path d="M108 121.3L122 121.3L122 122.9L108 122.9Z" fill="#0000ff" fill-opacity="0.047"/>
<path d="M108 121.3L122 121.3L122 123.2L108 123.2Z" fill="#0000ff" fill-opacity="0.044"/>
<path d="M108 121.3L122 121.3L122 123.5L108 123.5Z" fill="#0000ff" fill-opacity="0.043"/>
<path d="M108 121.3L122 121.3L122 123.7L108 123.7Z" fill="#0000ff" fill-opacity="0.041"/>
<path d="M108 121.3L122 121.3L122 124L108 124Z" fill="#0000ff" fill-opacity="0.02"/>
<path d="M103 114.9L108 114.9L108.1 117.5L122 117.5L122 116.2L108.1 116.2L108 113.8L103 113.8Z" fill="#0000ff" fill-opacity="0.051"/>
<path d="M103 114.9L108 114.9L108.1 117.5L122 117.5L122 115L108.1 114.9L108 112.8L103 112.7Z" fill="#0000ff" fill-opacity="0.046"/>
<path d="M103 114.9L108 114.9L108.1 117.5L122 117.5L122 113.8L108.1 113.5L108 111.7L103 111.6Z" fill="#0000ff" fill-opacity="0.041"/>
<path d="M103 114.9L108 114.9L108.1 117.5L122 117.5L122 112.5L108.1 112.2L108 110.6L103 110.5Z" fill="#0000ff" fill-opacity="0.037"/>
<path d="M103 114.9L108 114.9L108.1 117.5L122 117.5L122 111.2L108.1 110.9L108 109.6L103 109.5Z" fill="#0000ff" fill-opacity="0.032"/>
<path d="M103 114.9L108 114.9L108.1 117.5L122 117.5L122 110L108.1 109.6L108 108.5L103 108.4Z" fill="#0000ff" fill-opacity="0.028"/>
<path d="M103 114.9L108 114.9L108.1 117.5L122 117.5L122 108.8L108.1 108.2L108 107.5L103 107.3Z" fill="#0000ff" fill-opacity="0.024"/>
<path d="M103 114.9L108 114.9L108.1 117.5L122 117.5L122 107.5L108.1 106.9L108 106.4L103 106.2Z" fill="#0000ff" fill-opacity="0.019"/>
<path d="M103 114.9L108 114.9L108.1 117.5L122 117.5L122 106.2L108.1 105.6L108 105.3L103 105.1Z" fill="#0000ff" fill-opacity="0.013"/>
<path d="M117.5 108.3h0.7v0.7h-0.7zM120.2 108.6h0.7v0.7h-0.7zM111.1 114.8h0.7v0.7h-0.7zM104.7 112.0h0.7v0.7h-0.7zM105.0 103.0h0.7v0.7h-0.7zM105.2 113.7h0.7v0.7h-0.7zM111.4 111.1h0.7v0.7h-0.7zM107.9 111.1h0.7v0.7h-0.7zM115.3 99.8h0.7v0.7h-0.7zM112.4 111.0h0.7v0.7h-0.7zM107.1 109.8h0.7v0.7h-0.7zM108.3 104.7h0.7v0.7h-0.7zM120.5 115.0h0.7v0.7h-0.7zM122.0 105.7h0.7v0.7h-0.7zM113.9 112.6h0.7v0.7h-0.7zM117.4 106.2h0.7v0.7h-0.7zM119.4 105.2h0.7v0.7h-0.7zM121.1 106.5h0.7v0.7h-0.7zM105.3 111.5h0.7v0.7h-0.7zM105.8 110.2h0.7v0.7h-0.7zM104.0 115.8h0.7v0.7h-0.7zM113.3 111.3h0.7v0.7h-0.7zM105.5 109.5h0.7v0.7h-0.7zM110.2 102.5h0.7v0.7h-0.7zM118.5 98.6h0.7v0.7h-0.7zM112.1 99.6h0.7v0.7h-0.7zM119.2 114.1h0.7v0.7h-0.7zM103.7 106.4h0.7v0.7h-0.7zM111.9 110.9h0.7v0.7h-0.7zM116.9 104.2h0.7v0.7h-0.7zM120.7 101.3h0.7v0.7h-0.7zM105.6 112.7h0.7v0.7h-0.7zM105.3 101.3h0.7v0.7h-0.7zM112.5 104.1h0.7v0.7h-0.7zM106.1 114.7h0.7v0.7h-0.7zM112.0 112.1h0.7v0.7h-0.7zM107.8 114.4h0.7v0.7h-0.7zM107.2 114.3h0.7v0.7h-0.7zM114.6 115.5h0.7v0.7h-0.7zM117.7 109.4h0.7v0.7h-0.7zM113.1 113.4h0.7v0.7h-0.7zM111.4 99.8h0.7v0.7h-0.7zM120.4 112.5h0.7v0.7h-0.7zM116.0 111.4h0.7v0.7h-0.7zM107.4 106.3h0.7v0.7h-0.7zM118.6 115.3h0.7v0.7h-0.7zM120.5 100.9h0.7v0.7h-0.7zM116.0 108.0h0.7v0.7h-0.7zM110.7 101.0h0.7v0.7h-0.7zM105.6 106.5h0.7v0.7h-0.7z" fill="#0000ff" fill-opacity="0.2"/>
<path d="M112.4 126.5h0.8v0.8h-0.8zM110.0 130.2h0.8v0.8h-0.8zM117.5 130.7h0.8v0.8h-0.8zM106.1 134.5h0.8v0.8h-0.8zM110.0 135.5h0.8v0.8h-0.8zM121.7 124.8h0.8v0.8h-0.8zM114.1 135.6h0.8v0.8h-0.8zM110.3 130.1h0.8v0.8h-0.8zM109.0 123.4h0.8v0.8h-0.8zM106.9 124.6h0.8v0.8h-0.8zM108.4 131.2h0.8v0.8h-0.8zM113.7 135.3h0.8v0.8h-0.8zM116.0 127.7h0.8v0.8h-0.8zM121.0 131.2h0.8v0.8h-0.8zM113.3 134.2h0.8v0.8h-0.8zM115.7 127.7h0.8v0.8h-0.8zM114.5 126.9h0.8v0.8h-0.8zM121.4 126.2h0.8v0.8h-0.8zM121.5 123.8h0.8v0.8h-0.8zM103.2 130.2h0.8v0.8h-0.8zM106.9 129.6h0.8v0.8h-0.8zM105.2 133.9h0.8v0.8h-0.8zM115.7 131.9h0.8v0.8h-0.8zM120.6 135.9h0.8v0.8h-0.8zM115.9 132.3h0.8v0.8h-0.8zM103.0 123.6h0.8v0.8h-0.8zM111.1 135.6h0.8v0.8h-0.8zM108.9 130.4h0.8v0.8h-0.8zM103.2 128.4h0.8v0.8h-0.8zM120.1 130.7h0.8v0.8h-0.8z" fill="#0000ff" fill-opacity="0.22"/>
<path d="M122.3 60L124.7 60L125.2 88L126.5 95L122.3 95Z" fill="#0000ff" fill-opacity="0.42"/>
<path d="M125.2 54.5h0.8v0.8h-0.8zM122.4 60.8h0.8v0.8h-0.8zM125.2 57.9h0.8v0.8h-0.8zM125.7 64.2h0.8v0.8h-0.8zM125.5 73.6h0.8v0.8h-0.8zM123.0 90.7h0.8v0.8h-0.8zM123.3 80.5h0.8v0.8h-0.8zM121.8 85.6h0.8v0.8h-0.8zM125.9 58.2h0.8v0.8h-0.8zM124.9 64.3h0.8v0.8h-0.8zM122.2 67.8h0.8v0.8h-0.8zM124.5 90.2h0.8v0.8h-0.8zM126.0 91.8h0.8v0.8h-0.8zM124.3 78.8h0.8v0.8h-0.8zM122.2 81.6h0.8v0.8h-0.8zM124.0 67.6h0.8v0.8h-0.8zM125.6 63.7h0.8v0.8h-0.8zM122.1 60.0h0.8v0.8h-0.8zM122.2 76.4h0.8v0.8h-0.8zM125.1 60.1h0.8v0.8h-0.8zM123.8 75.8h0.8v0.8h-0.8zM124.0 69.7h0.8v0.8h-0.8zM123.9 54.6h0.8v0.8h-0.8zM121.8 70.1h0.8v0.8h-0.8zM122.6 82.8h0.8v0.8h-0.8z" fill="#0000ff" fill-opacity="0.3"/>
<path d="M122.3 95L126.5 95L128 103L132 106L132 115.2L125 115.2L125 112L122.3 112Z" fill="#0000ff" fill-opacity="0.6"/>
<path d="M122.3 99L126 99L127.5 106L132 108.5L132 115.2L125 115.2L125 111L122.3 111Z" fill="#0000ff" fill-opacity="0.7"/>
<rect x="132" y="113.2" width="9" height="4.6" fill="#0000ff" fill-opacity="1.0"/>
<rect x="141" y="110.2" width="21" height="5.2" fill="#0000ff" fill-opacity="1.0"/>
<rect x="162" y="110.8" width="16" height="4.8" fill="#0000ff" fill-opacity="0.95"/>
<rect x="178" y="112" width="11" height="3.6" fill="#0000ff" fill-opacity="0.85"/>
<path d="M132 113.2L141 113.2L141.1 110.2L162 110.2L178 110.8L189 112L189 110.2L178 108.9L162 108.1L141.1 107.8L141 110.5L132 110.7Z" fill="#0000ff" fill-opacity="0.154"/>
<path d="M132 113.2L141 113.2L141.1 110.2L162 110.2L178 110.8L189 112L189 108.4L178 107.1L162 106.1L141.1 105.4L141 107.8L132 108.2Z" fill="#0000ff" fill-opacity="0.124"/>
<path d="M132 113.2L141 113.2L141.1 110.2L162 110.2L178 110.8L189 112L189 106.6L178 105.2L162 104L141.1 102.9L141 105L132 105.6Z" fill="#0000ff" fill-opacity="0.102"/>
<path d="M132 113.2L141 113.2L141.1 110.2L162 110.2L178 110.8L189 112L189 104.8L178 103.3L162 101.9L141.1 100.5L141 102.3L132 103.1Z" fill="#0000ff" fill-opacity="0.084"/>
<path d="M132 113.2L141 113.2L141.1 110.2L162 110.2L178 110.8L189 112L189 103L178 101.5L162 99.8L141.1 98.1L141 99.6L132 100.6Z" fill="#0000ff" fill-opacity="0.069"/>
<path d="M132 113.2L141 113.2L141.1 110.2L162 110.2L178 110.8L189 112L189 101.2L178 99.6L162 97.8L141.1 95.7L141 96.9L132 98.1Z" fill="#0000ff" fill-opacity="0.055"/>
<path d="M132 113.2L141 113.2L141.1 110.2L162 110.2L178 110.8L189 112L189 99.4L178 97.8L162 95.7L141.1 93.3L141 94.2L132 95.6Z" fill="#0000ff" fill-opacity="0.043"/>
<path d="M132 113.2L141 113.2L141.1 110.2L162 110.2L178 110.8L189 112L189 97.6L178 95.9L162 93.6L141.1 90.9L141 91.4L132 93Z" fill="#0000ff" fill-opacity="0.032"/>
<path d="M132 113.2L141 113.2L141.1 110.2L162 110.2L178 110.8L189 112L189 95.8L178 94L162 91.6L141.1 88.4L141 88.7L132 90.5Z" fill="#0000ff" fill-opacity="0.019"/>
<path d="M132 113.2L141 113.2L141.1 110.2L162 110.2L178 110.8L189 112L189 94L178 92.2L162 89.5L141.1 86L141 86L132 88Z" fill="#0000ff" fill-opacity="0.023"/>
<path d="M145.8 109.5h0.7v0.7h-0.7zM145.8 99.3h0.7v0.7h-0.7zM159.2 103.4h0.7v0.7h-0.7zM151.1 108.7h0.7v0.7h-0.7zM144.7 107.4h0.7v0.7h-0.7zM179.6 104.3h0.7v0.7h-0.7zM160.7 110.9h0.7v0.7h-0.7zM166.4 100.5h0.7v0.7h-0.7zM136.0 99.2h0.7v0.7h-0.7zM150.9 99.2h0.7v0.7h-0.7zM169.0 103.9h0.7v0.7h-0.7zM149.6 105.2h0.7v0.7h-0.7zM185.4 101.4h0.7v0.7h-0.7zM140.8 102.3h0.7v0.7h-0.7zM150.5 110.7h0.7v0.7h-0.7zM172.3 104.0h0.7v0.7h-0.7zM141.5 98.6h0.7v0.7h-0.7zM139.0 109.9h0.7v0.7h-0.7zM168.9 100.2h0.7v0.7h-0.7zM160.9 102.7h0.7v0.7h-0.7zM137.8 108.4h0.7v0.7h-0.7zM172.9 105.1h0.7v0.7h-0.7zM141.6 107.4h0.7v0.7h-0.7zM156.7 107.3h0.7v0.7h-0.7zM137.2 110.6h0.7v0.7h-0.7zM132.2 101.1h0.7v0.7h-0.7zM154.7 100.8h0.7v0.7h-0.7zM137.0 107.6h0.7v0.7h-0.7zM188.6 102.7h0.7v0.7h-0.7zM147.2 107.4h0.7v0.7h-0.7zM144.7 103.6h0.7v0.7h-0.7zM171.2 104.0h0.7v0.7h-0.7zM140.9 99.0h0.7v0.7h-0.7zM163.0 111.9h0.7v0.7h-0.7zM160.6 104.8h0.7v0.7h-0.7zM143.1 107.4h0.7v0.7h-0.7zM160.2 109.3h0.7v0.7h-0.7zM148.6 111.1h0.7v0.7h-0.7zM178.4 104.6h0.7v0.7h-0.7zM140.1 104.8h0.7v0.7h-0.7zM139.2 107.6h0.7v0.7h-0.7zM171.8 106.1h0.7v0.7h-0.7zM172.8 109.2h0.7v0.7h-0.7zM138.4 102.5h0.7v0.7h-0.7zM135.1 106.2h0.7v0.7h-0.7zM173.2 102.9h0.7v0.7h-0.7zM171.6 103.1h0.7v0.7h-0.7zM172.6 101.9h0.7v0.7h-0.7zM187.8 104.1h0.7v0.7h-0.7zM132.2 99.3h0.7v0.7h-0.7zM173.4 110.1h0.7v0.7h-0.7zM168.3 100.2h0.7v0.7h-0.7zM181.7 108.0h0.7v0.7h-0.7zM138.6 103.3h0.7v0.7h-0.7zM134.4 103.0h0.7v0.7h-0.7zM181.9 111.9h0.7v0.7h-0.7zM150.1 110.7h0.7v0.7h-0.7zM176.8 110.1h0.7v0.7h-0.7zM165.5 111.6h0.7v0.7h-0.7zM168.7 111.3h0.7v0.7h-0.7zM164.3 100.8h0.7v0.7h-0.7zM161.6 104.8h0.7v0.7h-0.7zM151.2 103.2h0.7v0.7h-0.7zM161.1 106.2h0.7v0.7h-0.7zM144.7 101.9h0.7v0.7h-0.7zM160.7 105.1h0.7v0.7h-0.7zM155.9 107.3h0.7v0.7h-0.7zM142.6 105.4h0.7v0.7h-0.7zM147.7 108.8h0.7v0.7h-0.7zM172.1 108.9h0.7v0.7h-0.7zM161.5 101.5h0.7v0.7h-0.7zM184.8 105.2h0.7v0.7h-0.7zM153.4 102.1h0.7v0.7h-0.7zM154.9 107.9h0.7v0.7h-0.7zM178.7 104.8h0.7v0.7h-0.7zM173.7 101.0h0.7v0.7h-0.7zM157.8 103.0h0.7v0.7h-0.7zM149.5 103.0h0.7v0.7h-0.7zM175.0 108.3h0.7v0.7h-0.7zM143.8 101.3h0.7v0.7h-0.7zM176.7 107.2h0.7v0.7h-0.7zM170.5 106.9h0.7v0.7h-0.7zM171.5 101.8h0.7v0.7h-0.7zM135.5 103.0h0.7v0.7h-0.7zM133.8 111.5h0.7v0.7h-0.7zM161.9 107.4h0.7v0.7h-0.7zM187.1 109.3h0.7v0.7h-0.7zM145.1 102.7h0.7v0.7h-0.7zM138.2 109.1h0.7v0.7h-0.7zM174.0 104.8h0.7v0.7h-0.7zM153.0 101.8h0.7v0.7h-0.7zM159.8 108.0h0.7v0.7h-0.7zM183.0 109.9h0.7v0.7h-0.7zM181.5 104.1h0.7v0.7h-0.7zM156.0 102.4h0.7v0.7h-0.7zM187.5 100.6h0.7v0.7h-0.7zM141.0 101.9h0.7v0.7h-0.7zM184.6 109.9h0.7v0.7h-0.7zM150.9 109.9h0.7v0.7h-0.7zM182.8 104.0h0.7v0.7h-0.7zM143.0 108.8h0.7v0.7h-0.7zM153.4 99.7h0.7v0.7h-0.7zM183.5 104.2h0.7v0.7h-0.7zM154.7 106.3h0.7v0.7h-0.7zM154.2 103.3h0.7v0.7h-0.7zM132.6 103.2h0.7v0.7h-0.7zM175.4 102.7h0.7v0.7h-0.7zM170.7 106.7h0.7v0.7h-0.7zM170.4 106.6h0.7v0.7h-0.7zM148.7 100.8h0.7v0.7h-0.7zM180.8 110.7h0.7v0.7h-0.7zM145.3 106.2h0.7v0.7h-0.7zM164.8 102.5h0.7v0.7h-0.7zM134.1 102.6h0.7v0.7h-0.7zM168.7 106.4h0.7v0.7h-0.7zM161.1 99.7h0.7v0.7h-0.7zM144.1 102.4h0.7v0.7h-0.7zM155.7 103.1h0.7v0.7h-0.7zM188.2 101.4h0.7v0.7h-0.7zM180.8 101.4h0.7v0.7h-0.7zM165.5 103.3h0.7v0.7h-0.7zM134.2 109.1h0.7v0.7h-0.7zM178.2 101.8h0.7v0.7h-0.7zM176.2 104.7h0.7v0.7h-0.7zM153.7 101.2h0.7v0.7h-0.7zM167.6 108.9h0.7v0.7h-0.7zM180.0 105.7h0.7v0.7h-0.7zM154.1 109.2h0.7v0.7h-0.7zM138.0 101.6h0.7v0.7h-0.7zM174.9 104.2h0.7v0.7h-0.7zM158.3 101.0h0.7v0.7h-0.7zM132.1 99.3h0.7v0.7h-0.7zM137.2 103.2h0.7v0.7h-0.7zM156.7 105.1h0.7v0.7h-0.7zM148.5 107.8h0.7v0.7h-0.7zM161.4 111.7h0.7v0.7h-0.7zM141.6 105.1h0.7v0.7h-0.7zM160.1 103.2h0.7v0.7h-0.7zM181.1 100.9h0.7v0.7h-0.7zM182.0 103.0h0.7v0.7h-0.7zM151.1 106.6h0.7v0.7h-0.7zM164.1 102.0h0.7v0.7h-0.7zM136.8 111.4h0.7v0.7h-0.7zM153.1 99.6h0.7v0.7h-0.7zM169.4 105.4h0.7v0.7h-0.7zM150.7 102.6h0.7v0.7h-0.7zM180.2 102.7h0.7v0.7h-0.7zM155.8 111.4h0.7v0.7h-0.7zM152.6 103.6h0.7v0.7h-0.7zM141.2 107.3h0.7v0.7h-0.7zM169.9 104.2h0.7v0.7h-0.7zM155.1 101.3h0.7v0.7h-0.7zM177.0 104.4h0.7v0.7h-0.7zM179.4 103.2h0.7v0.7h-0.7zM144.5 111.4h0.7v0.7h-0.7zM170.9 107.5h0.7v0.7h-0.7zM160.3 104.6h0.7v0.7h-0.7zM143.3 100.4h0.7v0.7h-0.7zM168.8 107.7h0.7v0.7h-0.7zM146.7 107.0h0.7v0.7h-0.7z" fill="#0000ff" fill-opacity="0.25"/>
<path d="M133.9 85.6h0.7v0.7h-0.7zM178.4 87.9h0.7v0.7h-0.7zM188.2 92.2h0.7v0.7h-0.7zM153.6 98.2h0.7v0.7h-0.7zM159.6 100.0h0.7v0.7h-0.7zM183.4 69.7h0.7v0.7h-0.7zM153.6 96.2h0.7v0.7h-0.7zM134.3 90.6h0.7v0.7h-0.7zM176.1 76.4h0.7v0.7h-0.7zM173.4 100.8h0.7v0.7h-0.7zM135.0 103.3h0.7v0.7h-0.7zM157.9 95.6h0.7v0.7h-0.7zM139.2 75.4h0.7v0.7h-0.7zM133.2 95.1h0.7v0.7h-0.7zM151.8 79.6h0.7v0.7h-0.7zM139.4 100.3h0.7v0.7h-0.7zM126.1 103.9h0.7v0.7h-0.7zM127.5 94.5h0.7v0.7h-0.7zM144.9 92.2h0.7v0.7h-0.7zM162.2 87.6h0.7v0.7h-0.7zM125.5 69.1h0.7v0.7h-0.7zM151.8 104.0h0.7v0.7h-0.7zM175.0 98.2h0.7v0.7h-0.7zM155.0 83.3h0.7v0.7h-0.7zM161.2 100.2h0.7v0.7h-0.7zM179.8 77.3h0.7v0.7h-0.7zM146.1 84.6h0.7v0.7h-0.7zM133.3 88.9h0.7v0.7h-0.7zM126.6 92.0h0.7v0.7h-0.7zM154.2 100.7h0.7v0.7h-0.7zM153.6 94.2h0.7v0.7h-0.7zM186.0 102.0h0.7v0.7h-0.7zM161.5 74.1h0.7v0.7h-0.7zM153.9 103.1h0.7v0.7h-0.7zM163.1 91.2h0.7v0.7h-0.7zM133.2 77.5h0.7v0.7h-0.7zM133.9 97.6h0.7v0.7h-0.7zM128.0 93.0h0.7v0.7h-0.7zM143.1 78.8h0.7v0.7h-0.7zM130.6 96.5h0.7v0.7h-0.7zM157.8 91.7h0.7v0.7h-0.7zM151.8 101.8h0.7v0.7h-0.7zM167.1 97.0h0.7v0.7h-0.7zM130.2 100.1h0.7v0.7h-0.7zM141.8 85.7h0.7v0.7h-0.7zM155.1 91.4h0.7v0.7h-0.7zM167.2 89.9h0.7v0.7h-0.7zM155.3 98.7h0.7v0.7h-0.7zM179.2 101.0h0.7v0.7h-0.7zM179.9 88.8h0.7v0.7h-0.7zM135.1 82.9h0.7v0.7h-0.7zM146.4 99.2h0.7v0.7h-0.7zM142.4 72.9h0.7v0.7h-0.7zM153.3 72.0h0.7v0.7h-0.7zM181.0 71.8h0.7v0.7h-0.7zM162.8 79.2h0.7v0.7h-0.7zM135.0 81.3h0.7v0.7h-0.7zM163.9 103.5h0.7v0.7h-0.7zM170.9 104.0h0.7v0.7h-0.7zM168.1 104.4h0.7v0.7h-0.7zM175.7 84.0h0.7v0.7h-0.7zM138.2 69.5h0.7v0.7h-0.7zM181.6 107.2h0.7v0.7h-0.7zM128.0 101.0h0.7v0.7h-0.7zM143.0 103.4h0.7v0.7h-0.7zM172.2 106.2h0.7v0.7h-0.7zM170.8 104.9h0.7v0.7h-0.7zM145.8 100.8h0.7v0.7h-0.7zM147.5 96.6h0.7v0.7h-0.7zM177.7 63.3h0.7v0.7h-0.7zM181.4 97.9h0.7v0.7h-0.7zM179.1 107.1h0.7v0.7h-0.7zM179.2 103.4h0.7v0.7h-0.7zM143.3 94.8h0.7v0.7h-0.7zM147.7 101.0h0.7v0.7h-0.7zM129.8 93.7h0.7v0.7h-0.7zM168.1 100.7h0.7v0.7h-0.7zM143.3 92.9h0.7v0.7h-0.7zM184.9 104.5h0.7v0.7h-0.7zM161.8 100.0h0.7v0.7h-0.7zM179.6 101.7h0.7v0.7h-0.7zM185.0 88.3h0.7v0.7h-0.7zM134.0 103.4h0.7v0.7h-0.7zM149.3 98.1h0.7v0.7h-0.7zM166.2 71.2h0.7v0.7h-0.7zM136.2 104.5h0.7v0.7h-0.7zM188.7 82.7h0.7v0.7h-0.7zM175.9 101.6h0.7v0.7h-0.7zM168.4 90.0h0.7v0.7h-0.7zM184.7 97.6h0.7v0.7h-0.7zM154.5 91.5h0.7v0.7h-0.7zM150.5 82.6h0.7v0.7h-0.7zM140.0 98.9h0.7v0.7h-0.7zM147.7 94.1h0.7v0.7h-0.7zM178.0 107.2h0.7v0.7h-0.7zM139.2 77.4h0.7v0.7h-0.7zM163.9 92.3h0.7v0.7h-0.7zM145.2 69.9h0.7v0.7h-0.7zM136.2 92.4h0.7v0.7h-0.7zM182.5 104.4h0.7v0.7h-0.7zM134.7 80.6h0.7v0.7h-0.7zM145.6 89.7h0.7v0.7h-0.7zM150.0 96.6h0.7v0.7h-0.7zM126.6 78.4h0.7v0.7h-0.7zM180.8 89.3h0.7v0.7h-0.7zM189.7 92.9h0.7v0.7h-0.7zM134.5 102.1h0.7v0.7h-0.7zM179.7 92.4h0.7v0.7h-0.7zM133.5 100.8h0.7v0.7h-0.7zM127.3 103.4h0.7v0.7h-0.7zM148.9 63.9h0.7v0.7h-0.7zM181.8 104.5h0.7v0.7h-0.7zM155.2 68.8h0.7v0.7h-0.7zM183.0 98.5h0.7v0.7h-0.7zM171.5 76.6h0.7v0.7h-0.7zM128.9 92.4h0.7v0.7h-0.7zM183.0 104.1h0.7v0.7h-0.7zM141.2 103.9h0.7v0.7h-0.7zM146.3 85.2h0.7v0.7h-0.7zM165.2 102.2h0.7v0.7h-0.7zM141.6 84.0h0.7v0.7h-0.7zM153.5 102.7h0.7v0.7h-0.7zM175.3 102.4h0.7v0.7h-0.7zM159.1 89.6h0.7v0.7h-0.7zM148.4 90.5h0.7v0.7h-0.7zM125.2 91.2h0.7v0.7h-0.7zM170.4 101.3h0.7v0.7h-0.7zM188.8 93.7h0.7v0.7h-0.7zM141.6 99.2h0.7v0.7h-0.7zM177.4 106.8h0.7v0.7h-0.7zM127.8 85.5h0.7v0.7h-0.7zM167.7 79.6h0.7v0.7h-0.7zM164.1 95.4h0.7v0.7h-0.7zM144.1 99.4h0.7v0.7h-0.7zM131.3 100.8h0.7v0.7h-0.7zM151.5 81.2h0.7v0.7h-0.7zM174.5 90.2h0.7v0.7h-0.7zM154.9 97.1h0.7v0.7h-0.7zM182.5 96.5h0.7v0.7h-0.7zM127.5 97.0h0.7v0.7h-0.7zM140.4 95.2h0.7v0.7h-0.7zM159.5 94.7h0.7v0.7h-0.7zM159.3 102.2h0.7v0.7h-0.7zM144.8 92.4h0.7v0.7h-0.7zM125.5 102.0h0.7v0.7h-0.7zM156.8 99.3h0.7v0.7h-0.7zM130.0 83.1h0.7v0.7h-0.7zM142.0 76.0h0.7v0.7h-0.7zM184.1 98.6h0.7v0.7h-0.7zM179.2 105.6h0.7v0.7h-0.7zM147.7 84.7h0.7v0.7h-0.7zM189.0 104.3h0.7v0.7h-0.7zM159.8 105.5h0.7v0.7h-0.7zM131.2 103.4h0.7v0.7h-0.7zM188.0 103.7h0.7v0.7h-0.7zM137.9 99.8h0.7v0.7h-0.7zM159.9 83.3h0.7v0.7h-0.7zM184.9 75.5h0.7v0.7h-0.7zM181.0 101.1h0.7v0.7h-0.7zM154.4 103.3h0.7v0.7h-0.7zM173.5 88.9h0.7v0.7h-0.7zM150.4 104.5h0.7v0.7h-0.7zM167.4 100.3h0.7v0.7h-0.7zM127.4 75.0h0.7v0.7h-0.7zM159.2 86.7h0.7v0.7h-0.7zM142.1 95.2h0.7v0.7h-0.7zM164.6 96.9h0.7v0.7h-0.7zM184.7 103.2h0.7v0.7h-0.7zM183.7 97.3h0.7v0.7h-0.7zM179.8 98.1h0.7v0.7h-0.7zM140.2 99.7h0.7v0.7h-0.7zM130.3 93.5h0.7v0.7h-0.7zM128.9 75.2h0.7v0.7h-0.7zM158.8 94.5h0.7v0.7h-0.7zM156.3 102.8h0.7v0.7h-0.7zM139.4 88.2h0.7v0.7h-0.7zM126.3 78.7h0.7v0.7h-0.7zM173.0 78.6h0.7v0.7h-0.7zM140.2 102.2h0.7v0.7h-0.7zM129.9 94.6h0.7v0.7h-0.7zM178.2 98.3h0.7v0.7h-0.7zM131.5 96.2h0.7v0.7h-0.7zM163.5 80.7h0.7v0.7h-0.7zM130.2 94.8h0.7v0.7h-0.7zM139.4 91.2h0.7v0.7h-0.7zM189.3 107.9h0.7v0.7h-0.7zM178.8 69.4h0.7v0.7h-0.7zM129.3 93.2h0.7v0.7h-0.7zM132.6 101.6h0.7v0.7h-0.7zM181.0 105.3h0.7v0.7h-0.7zM128.3 100.6h0.7v0.7h-0.7zM185.0 107.1h0.7v0.7h-0.7zM173.3 102.5h0.7v0.7h-0.7zM182.8 76.1h0.7v0.7h-0.7zM125.8 85.4h0.7v0.7h-0.7zM139.5 100.9h0.7v0.7h-0.7zM148.1 91.6h0.7v0.7h-0.7zM158.5 81.3h0.7v0.7h-0.7zM179.0 90.1h0.7v0.7h-0.7zM175.1 80.0h0.7v0.7h-0.7zM139.5 87.9h0.7v0.7h-0.7zM163.9 97.6h0.7v0.7h-0.7zM158.2 80.9h0.7v0.7h-0.7zM155.2 104.3h0.7v0.7h-0.7zM185.3 94.2h0.7v0.7h-0.7zM167.4 79.0h0.7v0.7h-0.7zM154.4 98.5h0.7v0.7h-0.7zM185.1 100.2h0.7v0.7h-0.7zM181.3 90.9h0.7v0.7h-0.7zM165.2 100.8h0.7v0.7h-0.7zM134.7 76.9h0.7v0.7h-0.7zM160.3 104.3h0.7v0.7h-0.7zM130.3 90.8h0.7v0.7h-0.7zM152.3 91.5h0.7v0.7h-0.7zM142.4 94.8h0.7v0.7h-0.7zM126.4 70.4h0.7v0.7h-0.7zM189.7 102.7h0.7v0.7h-0.7zM135.3 99.6h0.7v0.7h-0.7zM130.0 100.8h0.7v0.7h-0.7zM139.5 88.9h0.7v0.7h-0.7zM143.0 79.8h0.7v0.7h-0.7zM187.2 94.2h0.7v0.7h-0.7zM143.0 104.0h0.7v0.7h-0.7zM179.9 99.6h0.7v0.7h-0.7zM186.8 87.5h0.7v0.7h-0.7zM181.4 101.9h0.7v0.7h-0.7zM180.8 95.3h0.7v0.7h-0.7zM154.9 105.5h0.7v0.7h-0.7zM159.2 77.8h0.7v0.7h-0.7zM133.9 101.3h0.7v0.7h-0.7zM152.4 93.8h0.7v0.7h-0.7zM147.8 91.8h0.7v0.7h-0.7zM151.8 91.1h0.7v0.7h-0.7zM167.4 74.9h0.7v0.7h-0.7zM136.9 88.4h0.7v0.7h-0.7zM167.7 75.6h0.7v0.7h-0.7zM148.7 104.9h0.7v0.7h-0.7zM187.2 105.8h0.7v0.7h-0.7zM186.4 98.6h0.7v0.7h-0.7zM153.4 74.6h0.7v0.7h-0.7zM144.1 83.5h0.7v0.7h-0.7zM161.1 68.9h0.7v0.7h-0.7zM152.3 79.3h0.7v0.7h-0.7zM160.9 61.6h0.7v0.7h-0.7zM167.9 80.3h0.7v0.7h-0.7zM127.7 98.4h0.7v0.7h-0.7zM139.1 73.6h0.7v0.7h-0.7zM171.3 105.1h0.7v0.7h-0.7zM131.3 98.8h0.7v0.7h-0.7zM174.0 89.3h0.7v0.7h-0.7zM151.8 90.0h0.7v0.7h-0.7zM170.0 103.9h0.7v0.7h-0.7zM160.3 70.5h0.7v0.7h-0.7zM134.9 99.4h0.7v0.7h-0.7zM170.7 97.0h0.7v0.7h-0.7zM135.5 93.6h0.7v0.7h-0.7zM133.1 70.7h0.7v0.7h-0.7zM137.7 85.6h0.7v0.7h-0.7zM130.7 99.1h0.7v0.7h-0.7zM156.0 93.5h0.7v0.7h-0.7z" fill="#0000ff" fill-opacity="0.2"/>
<path d="M125 115.2L132 115.2L132.1 117.8L141 117.8L141.1 116L189 116L189 116.6L141.1 116.7L141 118.4L132.1 118.4L132 116.1L125 116.1Z" fill="#0000ff" fill-opacity="0.04"/>
<path d="M125 115.2L132 115.2L132.1 117.8L141 117.8L141.1 116L189 116L189 117.2L141.1 117.5L141 118.9L132.1 119L132 116.9L125 117Z" fill="#0000ff" fill-opacity="0.039"/>
<path d="M125 115.2L132 115.2L132.1 117.8L141 117.8L141.1 116L189 116L189 117.8L141.1 118.2L141 119.5L132.1 119.6L132 117.8L125 117.8Z" fill="#0000ff" fill-opacity="0.037"/>
<path d="M125 115.2L132 115.2L132.1 117.8L141 117.8L141.1 116L189 116L189 118.4L141.1 119L141 120.1L132.1 120.2L132 118.6L125 118.7Z" fill="#0000ff" fill-opacity="0.036"/>
<path d="M125 115.2L132 115.2L132.1 117.8L141 117.8L141.1 116L189 116L189 119L141.1 119.7L141 120.7L132.1 120.8L132 119.5L125 119.6Z" fill="#0000ff" fill-opacity="0.035"/>
<path d="M125 115.2L132 115.2L132.1 117.8L141 117.8L141.1 116L189 116L189 119.6L141.1 120.5L141 121.2L132.1 121.4L132 120.3L125 120.5Z" fill="#0000ff" fill-opacity="0.034"/>
<path d="M125 115.2L132 115.2L132.1 117.8L141 117.8L141.1 116L189 116L189 120.2L141.1 121.2L141 121.8L132.1 122L132 121.2L125 121.4Z" fill="#0000ff" fill-opacity="0.032"/>
<path d="M125 115.2L132 115.2L132.1 117.8L141 117.8L141.1 116L189 116L189 120.8L141.1 122L141 122.4L132.1 122.6L132 122.1L125 122.2Z" fill="#0000ff" fill-opacity="0.031"/>
<path d="M125 115.2L132 115.2L132.1 117.8L141 117.8L141.1 116L189 116L189 121.4L141.1 122.7L141 122.9L132.1 123.2L132 122.9L125 123.1Z" fill="#0000ff" fill-opacity="0.03"/>
<path d="M125 115.2L132 115.2L132.1 117.8L141 117.8L141.1 116L189 116L189 122L141.1 123.5L141 123.5L132.1 123.8L132 123.8L125 124Z" fill="#0000ff" fill-opacity="0.015"/>
<path d="M158.2 121.1h0.8v0.8h-0.8zM141.9 120.5h0.8v0.8h-0.8zM172.8 121.2h0.8v0.8h-0.8zM165.5 118.9h0.8v0.8h-0.8zM180.9 128.6h0.8v0.8h-0.8zM138.4 123.6h0.8v0.8h-0.8zM141.6 127.9h0.8v0.8h-0.8zM169.3 119.3h0.8v0.8h-0.8zM142.2 119.3h0.8v0.8h-0.8zM159.3 118.9h0.8v0.8h-0.8zM147.1 119.5h0.8v0.8h-0.8zM173.1 124.8h0.8v0.8h-0.8zM140.6 123.7h0.8v0.8h-0.8zM127.9 123.4h0.8v0.8h-0.8zM182.8 119.5h0.8v0.8h-0.8zM176.7 121.8h0.8v0.8h-0.8zM145.1 123.1h0.8v0.8h-0.8zM157.9 128.2h0.8v0.8h-0.8zM168.7 118.8h0.8v0.8h-0.8zM182.9 121.4h0.8v0.8h-0.8zM137.0 119.4h0.8v0.8h-0.8zM184.8 119.5h0.8v0.8h-0.8zM189.5 121.6h0.8v0.8h-0.8zM141.2 124.0h0.8v0.8h-0.8zM135.0 119.5h0.8v0.8h-0.8zM130.9 119.5h0.8v0.8h-0.8zM177.0 128.6h0.8v0.8h-0.8zM144.5 127.8h0.8v0.8h-0.8zM184.5 127.0h0.8v0.8h-0.8zM131.1 125.8h0.8v0.8h-0.8zM168.3 126.1h0.8v0.8h-0.8zM174.1 124.4h0.8v0.8h-0.8zM158.6 120.6h0.8v0.8h-0.8zM162.7 123.5h0.8v0.8h-0.8zM176.0 126.2h0.8v0.8h-0.8zM141.8 121.8h0.8v0.8h-0.8zM185.1 119.9h0.8v0.8h-0.8zM177.2 121.8h0.8v0.8h-0.8zM177.4 123.0h0.8v0.8h-0.8zM184.6 127.2h0.8v0.8h-0.8z" fill="#0000ff" fill-opacity="0.22"/>
<rect x="159.8" y="88" width="2" height="23" fill="#0000ff" fill-opacity="0.3"/>
<rect x="189.1" y="60" width=".9" height="52" fill="#0000ff" fill-opacity="0.15"/>
<path d="M189 97L200 97L200 111.5L189 111.5Z" fill="#0000ff" fill-opacity="0.05"/>
<path d="M193.1 94.1h0.8v0.8h-0.8zM191.2 100.1h0.8v0.8h-0.8zM190.9 102.6h0.8v0.8h-0.8zM190.4 105.8h0.8v0.8h-0.8zM193.5 98.4h0.8v0.8h-0.8zM196.5 99.9h0.8v0.8h-0.8zM189.3 109.1h0.8v0.8h-0.8zM197.3 109.8h0.8v0.8h-0.8zM192.2 98.8h0.8v0.8h-0.8zM196.7 96.6h0.8v0.8h-0.8zM199.6 105.8h0.8v0.8h-0.8zM195.0 94.9h0.8v0.8h-0.8zM192.1 101.6h0.8v0.8h-0.8zM199.8 96.6h0.8v0.8h-0.8zM195.5 95.4h0.8v0.8h-0.8zM199.7 107.4h0.8v0.8h-0.8zM197.9 107.5h0.8v0.8h-0.8zM191.0 98.3h0.8v0.8h-0.8zM189.4 103.9h0.8v0.8h-0.8zM189.9 97.4h0.8v0.8h-0.8zM190.9 110.6h0.8v0.8h-0.8zM197.7 99.1h0.8v0.8h-0.8zM199.7 96.9h0.8v0.8h-0.8zM190.5 100.9h0.8v0.8h-0.8zM197.9 95.8h0.8v0.8h-0.8zM197.7 103.8h0.8v0.8h-0.8zM197.8 100.1h0.8v0.8h-0.8zM189.5 95.8h0.8v0.8h-0.8zM197.0 103.1h0.8v0.8h-0.8zM197.4 97.6h0.8v0.8h-0.8zM192.1 97.8h0.8v0.8h-0.8zM198.4 106.7h0.8v0.8h-0.8zM190.7 107.1h0.8v0.8h-0.8zM189.4 102.4h0.8v0.8h-0.8zM191.8 107.8h0.8v0.8h-0.8zM196.9 106.3h0.8v0.8h-0.8zM191.2 94.8h0.8v0.8h-0.8zM196.0 106.5h0.8v0.8h-0.8zM189.1 109.1h0.8v0.8h-0.8zM198.9 100.5h0.8v0.8h-0.8zM194.7 105.7h0.8v0.8h-0.8zM199.2 105.7h0.8v0.8h-0.8zM194.7 107.8h0.8v0.8h-0.8zM194.4 94.6h0.8v0.8h-0.8zM195.0 101.4h0.8v0.8h-0.8z" fill="#0000ff" fill-opacity="0.25"/>
<path d="M210.9 138.4h0.8v0.8h-0.8zM210.6 136.0h0.8v0.8h-0.8zM211.7 152.7h0.8v0.8h-0.8zM211.1 151.5h0.8v0.8h-0.8zM210.5 142.0h0.8v0.8h-0.8zM211.7 149.7h0.8v0.8h-0.8zM211.0 131.9h0.8v0.8h-0.8zM212.1 144.7h0.8v0.8h-0.8zM211.5 137.0h0.8v0.8h-0.8zM210.4 143.5h0.8v0.8h-0.8zM211.0 152.8h0.8v0.8h-0.8zM211.5 148.9h0.8v0.8h-0.8zM211.3 148.8h0.8v0.8h-0.8zM210.5 155.9h0.8v0.8h-0.8zM211.4 144.3h0.8v0.8h-0.8zM210.6 129.6h0.8v0.8h-0.8zM211.6 148.1h0.8v0.8h-0.8zM211.5 134.4h0.8v0.8h-0.8zM211.2 149.3h0.8v0.8h-0.8zM211.5 153.4h0.8v0.8h-0.8zM210.4 149.5h0.8v0.8h-0.8zM210.2 145.1h0.8v0.8h-0.8z" fill="#a020f0" fill-opacity="0.35"/>
<path d="M211.3 165.5h0.8v0.8h-0.8zM211.0 169.7h0.8v0.8h-0.8zM211.9 165.5h0.8v0.8h-0.8z" fill="#a020f0" fill-opacity="0.35"/>
</g>
<text x="212" y="125.3" font-family="Liberation Serif" font-size="6.1" text-anchor="middle" fill="#1a1a1a" stroke="#1a1a1a" stroke-width="0.15" filter="url(#t)" text-rendering="geometricPrecision">NA</text>
<rect x="21.5" y="3.2" width="197.9" height="197.1" fill="none" stroke="#8c8c8c" stroke-width="1"/>
<path d="M29.3 200.3v3.4M69.9 200.3v3.4M110.5 200.3v3.4M151 200.3v3.4M191.6 200.3v3.4M21.5 29.7h-3.4M21.5 74.5h-3.4M21.5 119.3h-3.4M21.5 164.1h-3.4" stroke="#6a6a6a" stroke-width="1" fill="none"/>
<g filter="url(#t)" fill="#1a1a1a" stroke="#1a1a1a" stroke-width="0.1" text-rendering="geometricPrecision">
<text x="29.3" y="210.1" font-family="Liberation Sans" font-size="5.8" text-anchor="middle">0</text>
<text x="69.9" y="210.1" font-family="Liberation Sans" font-size="5.8" text-anchor="middle">5</text>
<text x="110.5" y="210.1" font-family="Liberation Sans" font-size="5.8" text-anchor="middle">10</text>
<text x="151" y="210.1" font-family="Liberation Sans" font-size="5.8" text-anchor="middle">15</text>
<text x="191.6" y="210.1" font-family="Liberation Sans" font-size="5.8" text-anchor="middle">20</text>
<text transform="translate(16.1 29.8) rotate(-90)" font-family="Liberation Sans" font-size="5.8" text-anchor="middle">1.0</text>
<text transform="translate(16.1 74.7) rotate(-90)" font-family="Liberation Sans" font-size="5.8" text-anchor="middle">0.5</text>
<text transform="translate(16.1 119.5) rotate(-90)" font-family="Liberation Sans" font-size="5.8" text-anchor="middle">0.0</text>
<text transform="translate(16.1 164.2) rotate(-90)" font-family="Liberation Sans" font-size="5.8" text-anchor="middle">-0.5</text>
<text x="120.9" y="218.5" font-family="Liberation Sans" font-size="6.7" text-anchor="middle">Age</text>
<text transform="translate(7.7 101.8) rotate(-90)" font-family="Liberation Sans" font-size="5.6" text-anchor="middle">SHAP</text>
</g>
<path d="M261.1 3.2V200.3M291.8 3.2V200.3M322.5 3.2V200.3M353.2 3.2V200.3M383.9 3.2V200.3M414.6 3.2V200.3M445.3 3.2V200.3M253.6 54.8H451.3M253.6 110.3H451.3M253.6 165.8H451.3" stroke="#f5f5f5" stroke-width="1.2" fill="none"/>
<g filter="url(#b)">
<path d="M299.0 181.6h0.8v0.8h-0.8zM397.7 107.9h0.8v0.8h-0.8zM311.3 118.1h0.8v0.8h-0.8zM285.0 118.1h0.8v0.8h-0.8zM382.0 77.3h0.8v0.8h-0.8zM321.0 132.5h0.8v0.8h-0.8zM298.3 152.7h0.8v0.8h-0.8zM342.4 111.9h0.8v0.8h-0.8zM378.3 77.0h0.8v0.8h-0.8zM349.7 110.0h0.8v0.8h-0.8zM357.5 96.4h0.8v0.8h-0.8zM337.4 132.6h0.8v0.8h-0.8zM330.4 137.6h0.8v0.8h-0.8zM295.8 118.4h0.8v0.8h-0.8zM309.0 144.7h0.8v0.8h-0.8zM306.0 109.2h0.8v0.8h-0.8zM390.2 74.3h0.8v0.8h-0.8zM387.7 66.7h0.8v0.8h-0.8zM378.2 82.0h0.8v0.8h-0.8zM295.0 132.1h0.8v0.8h-0.8zM306.5 138.1h0.8v0.8h-0.8zM401.3 95.9h0.8v0.8h-0.8zM365.7 121.0h0.8v0.8h-0.8zM335.2 124.7h0.8v0.8h-0.8zM392.9 110.5h0.8v0.8h-0.8zM370.3 122.1h0.8v0.8h-0.8zM314.2 137.6h0.8v0.8h-0.8zM322.4 173.0h0.8v0.8h-0.8zM290.1 147.3h0.8v0.8h-0.8zM325.7 118.3h0.8v0.8h-0.8zM404.2 109.9h0.8v0.8h-0.8zM348.1 137.5h0.8v0.8h-0.8zM308.7 167.8h0.8v0.8h-0.8zM300.7 123.5h0.8v0.8h-0.8zM301.2 120.3h0.8v0.8h-0.8zM292.2 143.3h0.8v0.8h-0.8zM354.8 127.2h0.8v0.8h-0.8zM327.2 132.1h0.8v0.8h-0.8zM344.0 128.9h0.8v0.8h-0.8zM386.2 77.8h0.8v0.8h-0.8zM344.0 122.8h0.8v0.8h-0.8zM333.7 128.5h0.8v0.8h-0.8zM297.6 162.9h0.8v0.8h-0.8zM347.3 84.5h0.8v0.8h-0.8zM390.2 67.7h0.8v0.8h-0.8zM308.1 125.9h0.8v0.8h-0.8zM317.0 168.0h0.8v0.8h-0.8zM322.2 175.7h0.8v0.8h-0.8zM297.3 152.3h0.8v0.8h-0.8zM381.7 68.8h0.8v0.8h-0.8zM343.0 91.2h0.8v0.8h-0.8zM299.6 94.6h0.8v0.8h-0.8zM300.7 100.3h0.8v0.8h-0.8zM309.8 96.1h0.8v0.8h-0.8zM308.0 146.2h0.8v0.8h-0.8zM356.4 131.5h0.8v0.8h-0.8zM322.8 151.6h0.8v0.8h-0.8zM343.3 80.7h0.8v0.8h-0.8zM374.7 119.8h0.8v0.8h-0.8zM381.4 107.3h0.8v0.8h-0.8zM297.4 185.5h0.8v0.8h-0.8zM374.2 122.5h0.8v0.8h-0.8zM300.0 136.9h0.8v0.8h-0.8zM316.8 97.2h0.8v0.8h-0.8zM337.4 122.5h0.8v0.8h-0.8zM336.9 109.9h0.8v0.8h-0.8zM320.8 157.3h0.8v0.8h-0.8zM371.3 105.0h0.8v0.8h-0.8zM301.8 184.2h0.8v0.8h-0.8zM337.1 98.8h0.8v0.8h-0.8zM330.3 132.8h0.8v0.8h-0.8zM348.3 101.4h0.8v0.8h-0.8zM292.2 146.5h0.8v0.8h-0.8zM287.2 136.3h0.8v0.8h-0.8zM347.8 92.5h0.8v0.8h-0.8zM391.3 71.3h0.8v0.8h-0.8zM363.7 130.1h0.8v0.8h-0.8zM299.0 172.2h0.8v0.8h-0.8zM375.6 114.4h0.8v0.8h-0.8zM292.0 134.3h0.8v0.8h-0.8zM326.0 143.2h0.8v0.8h-0.8zM373.3 113.1h0.8v0.8h-0.8zM329.3 132.5h0.8v0.8h-0.8zM317.4 100.3h0.8v0.8h-0.8zM303.5 193.1h0.8v0.8h-0.8zM331.3 138.6h0.8v0.8h-0.8zM355.4 123.5h0.8v0.8h-0.8zM325.5 149.0h0.8v0.8h-0.8zM305.9 127.0h0.8v0.8h-0.8zM317.5 137.7h0.8v0.8h-0.8zM295.0 150.0h0.8v0.8h-0.8zM397.4 109.1h0.8v0.8h-0.8zM387.0 92.8h0.8v0.8h-0.8zM339.6 128.7h0.8v0.8h-0.8zM329.7 92.8h0.8v0.8h-0.8zM291.5 98.2h0.8v0.8h-0.8zM396.8 99.9h0.8v0.8h-0.8zM320.2 139.5h0.8v0.8h-0.8zM338.4 100.0h0.8v0.8h-0.8zM298.5 103.5h0.8v0.8h-0.8zM301.1 119.9h0.8v0.8h-0.8zM300.9 143.8h0.8v0.8h-0.8zM376.5 71.0h0.8v0.8h-0.8zM359.5 111.0h0.8v0.8h-0.8zM324.5 170.8h0.8v0.8h-0.8zM401.2 110.9h0.8v0.8h-0.8zM311.5 195.5h0.8v0.8h-0.8zM336.3 121.3h0.8v0.8h-0.8zM322.3 159.1h0.8v0.8h-0.8zM387.6 115.7h0.8v0.8h-0.8zM348.8 114.0h0.8v0.8h-0.8zM285.8 132.6h0.8v0.8h-0.8zM342.3 137.3h0.8v0.8h-0.8zM342.1 126.9h0.8v0.8h-0.8zM325.2 166.0h0.8v0.8h-0.8zM330.7 109.1h0.8v0.8h-0.8zM337.0 143.0h0.8v0.8h-0.8zM289.1 135.1h0.8v0.8h-0.8zM396.4 70.6h0.8v0.8h-0.8zM371.6 91.2h0.8v0.8h-0.8zM344.9 130.9h0.8v0.8h-0.8zM328.7 127.6h0.8v0.8h-0.8zM394.0 85.8h0.8v0.8h-0.8zM377.6 113.1h0.8v0.8h-0.8zM373.8 102.3h0.8v0.8h-0.8zM366.3 111.5h0.8v0.8h-0.8zM391.9 113.7h0.8v0.8h-0.8zM328.5 118.3h0.8v0.8h-0.8zM329.0 107.8h0.8v0.8h-0.8zM362.1 102.1h0.8v0.8h-0.8zM330.8 128.9h0.8v0.8h-0.8zM311.3 95.6h0.8v0.8h-0.8zM327.9 139.1h0.8v0.8h-0.8zM307.2 134.6h0.8v0.8h-0.8zM324.0 97.2h0.8v0.8h-0.8zM373.8 110.3h0.8v0.8h-0.8zM359.0 116.6h0.8v0.8h-0.8zM359.8 117.2h0.8v0.8h-0.8zM300.8 175.2h0.8v0.8h-0.8zM322.3 95.7h0.8v0.8h-0.8zM317.1 132.9h0.8v0.8h-0.8zM397.8 85.0h0.8v0.8h-0.8zM319.7 112.0h0.8v0.8h-0.8zM361.8 109.4h0.8v0.8h-0.8zM365.4 82.1h0.8v0.8h-0.8zM290.3 139.7h0.8v0.8h-0.8zM371.9 79.9h0.8v0.8h-0.8zM290.8 151.6h0.8v0.8h-0.8zM367.9 83.5h0.8v0.8h-0.8zM295.5 109.2h0.8v0.8h-0.8zM355.1 130.5h0.8v0.8h-0.8zM363.7 128.5h0.8v0.8h-0.8zM321.1 116.4h0.8v0.8h-0.8zM326.4 120.0h0.8v0.8h-0.8zM333.2 90.1h0.8v0.8h-0.8zM307.5 126.0h0.8v0.8h-0.8zM319.1 139.5h0.8v0.8h-0.8zM377.8 77.5h0.8v0.8h-0.8zM343.4 87.1h0.8v0.8h-0.8zM321.4 106.0h0.8v0.8h-0.8zM380.0 114.8h0.8v0.8h-0.8zM339.9 89.0h0.8v0.8h-0.8zM296.0 114.8h0.8v0.8h-0.8zM308.4 175.2h0.8v0.8h-0.8zM321.2 127.3h0.8v0.8h-0.8zM291.2 154.5h0.8v0.8h-0.8zM344.2 110.4h0.8v0.8h-0.8zM294.3 136.3h0.8v0.8h-0.8zM377.8 77.7h0.8v0.8h-0.8zM296.9 153.9h0.8v0.8h-0.8zM389.7 105.1h0.8v0.8h-0.8zM315.3 129.7h0.8v0.8h-0.8zM338.8 83.3h0.8v0.8h-0.8zM291.7 106.6h0.8v0.8h-0.8zM304.7 147.2h0.8v0.8h-0.8zM349.8 123.0h0.8v0.8h-0.8zM348.4 96.0h0.8v0.8h-0.8zM303.1 115.7h0.8v0.8h-0.8zM305.0 124.1h0.8v0.8h-0.8zM304.6 160.5h0.8v0.8h-0.8zM390.1 105.4h0.8v0.8h-0.8zM295.1 149.1h0.8v0.8h-0.8zM391.9 81.7h0.8v0.8h-0.8zM337.4 130.6h0.8v0.8h-0.8zM386.8 112.9h0.8v0.8h-0.8zM396.5 103.4h0.8v0.8h-0.8zM367.9 120.1h0.8v0.8h-0.8zM297.7 110.9h0.8v0.8h-0.8zM392.9 72.1h0.8v0.8h-0.8zM319.1 173.8h0.8v0.8h-0.8zM396.7 112.4h0.8v0.8h-0.8zM293.1 134.9h0.8v0.8h-0.8zM297.7 175.6h0.8v0.8h-0.8zM373.1 119.4h0.8v0.8h-0.8zM306.9 119.2h0.8v0.8h-0.8zM392.0 105.5h0.8v0.8h-0.8zM287.8 151.1h0.8v0.8h-0.8zM300.0 188.8h0.8v0.8h-0.8zM365.0 74.7h0.8v0.8h-0.8zM305.2 147.9h0.8v0.8h-0.8zM318.5 127.1h0.8v0.8h-0.8zM321.5 181.5h0.8v0.8h-0.8zM363.1 77.7h0.8v0.8h-0.8zM362.2 108.5h0.8v0.8h-0.8zM338.6 133.8h0.8v0.8h-0.8zM393.2 68.1h0.8v0.8h-0.8zM299.1 150.3h0.8v0.8h-0.8zM308.6 163.0h0.8v0.8h-0.8zM367.4 84.1h0.8v0.8h-0.8zM368.5 73.2h0.8v0.8h-0.8zM372.2 90.5h0.8v0.8h-0.8zM397.3 76.4h0.8v0.8h-0.8zM308.9 146.0h0.8v0.8h-0.8zM307.2 125.9h0.8v0.8h-0.8zM314.2 106.8h0.8v0.8h-0.8zM390.5 69.1h0.8v0.8h-0.8zM342.4 130.8h0.8v0.8h-0.8zM297.8 174.8h0.8v0.8h-0.8zM339.6 101.1h0.8v0.8h-0.8zM294.8 173.1h0.8v0.8h-0.8zM376.2 88.4h0.8v0.8h-0.8zM323.1 131.8h0.8v0.8h-0.8zM301.1 152.1h0.8v0.8h-0.8zM300.6 182.5h0.8v0.8h-0.8zM299.2 107.0h0.8v0.8h-0.8zM306.7 123.8h0.8v0.8h-0.8zM394.9 85.4h0.8v0.8h-0.8zM326.9 144.5h0.8v0.8h-0.8zM367.9 123.8h0.8v0.8h-0.8zM296.5 142.2h0.8v0.8h-0.8zM323.0 163.2h0.8v0.8h-0.8zM370.7 117.7h0.8v0.8h-0.8zM303.2 164.5h0.8v0.8h-0.8zM314.3 154.4h0.8v0.8h-0.8zM381.8 97.6h0.8v0.8h-0.8zM393.4 104.0h0.8v0.8h-0.8zM378.8 111.7h0.8v0.8h-0.8zM340.0 140.7h0.8v0.8h-0.8zM381.6 117.8h0.8v0.8h-0.8zM392.9 91.0h0.8v0.8h-0.8zM347.5 81.4h0.8v0.8h-0.8zM305.5 101.0h0.8v0.8h-0.8zM290.7 138.4h0.8v0.8h-0.8zM359.4 115.0h0.8v0.8h-0.8zM367.0 73.4h0.8v0.8h-0.8zM304.2 175.9h0.8v0.8h-0.8zM301.3 141.9h0.8v0.8h-0.8zM376.5 99.2h0.8v0.8h-0.8zM324.4 132.2h0.8v0.8h-0.8zM386.5 75.3h0.8v0.8h-0.8zM356.2 116.5h0.8v0.8h-0.8zM330.8 116.4h0.8v0.8h-0.8zM370.9 121.3h0.8v0.8h-0.8zM397.9 87.9h0.8v0.8h-0.8zM382.7 116.2h0.8v0.8h-0.8zM336.4 142.4h0.8v0.8h-0.8zM319.5 180.1h0.8v0.8h-0.8zM375.0 96.4h0.8v0.8h-0.8zM333.4 117.8h0.8v0.8h-0.8zM370.0 100.2h0.8v0.8h-0.8z" fill="#1c1cc0" fill-opacity="0.22"/>
<path d="M279.1 116.6h0.8v0.8h-0.8zM276.7 113.9h0.8v0.8h-0.8zM287.0 116.7h0.8v0.8h-0.8zM273.1 110.9h0.8v0.8h-0.8zM283.4 106.6h0.8v0.8h-0.8zM279.8 118.7h0.8v0.8h-0.8zM279.3 104.8h0.8v0.8h-0.8zM289.5 100.4h0.8v0.8h-0.8zM290.1 101.5h0.8v0.8h-0.8zM283.1 118.2h0.8v0.8h-0.8zM280.2 121.2h0.8v0.8h-0.8zM289.7 109.8h0.8v0.8h-0.8zM273.2 105.4h0.8v0.8h-0.8zM289.6 120.2h0.8v0.8h-0.8zM287.1 112.4h0.8v0.8h-0.8zM278.5 123.5h0.8v0.8h-0.8zM283.4 131.8h0.8v0.8h-0.8zM275.2 110.7h0.8v0.8h-0.8zM285.8 131.6h0.8v0.8h-0.8zM281.3 127.1h0.8v0.8h-0.8zM274.2 121.7h0.8v0.8h-0.8zM278.6 123.7h0.8v0.8h-0.8zM277.9 104.9h0.8v0.8h-0.8zM277.4 124.8h0.8v0.8h-0.8zM286.2 131.8h0.8v0.8h-0.8z" fill="#1c1cc0" fill-opacity="0.2"/>
<path d="M293.3 122L299.2 122L299.2 120L293.3 120.2Z" fill="#1c1cc0" fill-opacity="0.079"/>
<path d="M293.3 122L299.2 122L299.2 118L293.3 118.4Z" fill="#1c1cc0" fill-opacity="0.073"/>
<path d="M293.3 122L299.2 122L299.2 116L293.3 116.6Z" fill="#1c1cc0" fill-opacity="0.068"/>
<path d="M293.3 122L299.2 122L299.2 114L293.3 114.8Z" fill="#1c1cc0" fill-opacity="0.064"/>
<path d="M293.3 122L299.2 122L299.2 112L293.3 113Z" fill="#1c1cc0" fill-opacity="0.06"/>
<path d="M293.3 122L299.2 122L299.2 110L293.3 111.2Z" fill="#1c1cc0" fill-opacity="0.057"/>
<path d="M293.3 122L299.2 122L299.2 108L293.3 109.4Z" fill="#1c1cc0" fill-opacity="0.054"/>
<path d="M293.3 122L299.2 122L299.2 106L293.3 107.6Z" fill="#1c1cc0" fill-opacity="0.051"/>
<path d="M293.3 122L299.2 122L299.2 104L293.3 105.8Z" fill="#1c1cc0" fill-opacity="0.049"/>
<path d="M293.3 122L299.2 122L299.2 102L293.3 104Z" fill="#1c1cc0" fill-opacity="0.073"/>
<path d="M293.3 122L299.2 122L299.2 124.8L293.3 124.4Z" fill="#1c1cc0" fill-opacity="0.079"/>
<path d="M293.3 122L299.2 122L299.2 127.6L293.3 126.8Z" fill="#1c1cc0" fill-opacity="0.073"/>
<path d="M293.3 122L299.2 122L299.2 130.4L293.3 129.2Z" fill="#1c1cc0" fill-opacity="0.068"/>
<path d="M293.3 122L299.2 122L299.2 133.2L293.3 131.6Z" fill="#1c1cc0" fill-opacity="0.064"/>
<path d="M293.3 122L299.2 122L299.2 136L293.3 134Z" fill="#1c1cc0" fill-opacity="0.06"/>
<path d="M293.3 122L299.2 122L299.2 138.8L293.3 136.4Z" fill="#1c1cc0" fill-opacity="0.057"/>
<path d="M293.3 122L299.2 122L299.2 141.6L293.3 138.8Z" fill="#1c1cc0" fill-opacity="0.054"/>
<path d="M293.3 122L299.2 122L299.2 144.4L293.3 141.2Z" fill="#1c1cc0" fill-opacity="0.051"/>
<path d="M293.3 122L299.2 122L299.2 147.2L293.3 143.6Z" fill="#1c1cc0" fill-opacity="0.049"/>
<path d="M293.3 122L299.2 122L299.2 150L293.3 146Z" fill="#1c1cc0" fill-opacity="0.073"/>
<path d="M299.2 107L303 107L303.1 120L316 120L316 118.8L303.1 118.8L303 106.1L299.2 106.1Z" fill="#1c1cc0" fill-opacity="0.05"/>
<path d="M299.2 107L303 107L303.1 120L316 120L316 117.6L303.1 117.6L303 105.2L299.2 105.2Z" fill="#1c1cc0" fill-opacity="0.047"/>
<path d="M299.2 107L303 107L303.1 120L316 120L316 116.4L303.1 116.4L303 104.3L299.2 104.3Z" fill="#1c1cc0" fill-opacity="0.045"/>
<path d="M299.2 107L303 107L303.1 120L316 120L316 115.2L303.1 115.2L303 103.4L299.2 103.4Z" fill="#1c1cc0" fill-opacity="0.043"/>
<path d="M299.2 107L303 107L303.1 120L316 120L316 114L303.1 114L303 102.5L299.2 102.5Z" fill="#1c1cc0" fill-opacity="0.042"/>
<path d="M299.2 107L303 107L303.1 120L316 120L316 112.8L303.1 112.8L303 101.6L299.2 101.6Z" fill="#1c1cc0" fill-opacity="0.04"/>
<path d="M299.2 107L303 107L303.1 120L316 120L316 111.6L303.1 111.6L303 100.7L299.2 100.7Z" fill="#1c1cc0" fill-opacity="0.038"/>
<path d="M299.2 107L303 107L303.1 120L316 120L316 110.4L303.1 110.4L303 99.8L299.2 99.8Z" fill="#1c1cc0" fill-opacity="0.037"/>
<path d="M299.2 107L303 107L303.1 120L316 120L316 109.2L303.1 109.2L303 98.9L299.2 98.9Z" fill="#1c1cc0" fill-opacity="0.036"/>
<path d="M299.2 107L303 107L303.1 120L316 120L316 108L303.1 108L303 98L299.2 98Z" fill="#1c1cc0" fill-opacity="0.018"/>
<path d="M299.2 107L303 107L303 119L299.2 119Z" fill="#1c1cc0" fill-opacity="0.55"/>
<path d="M299.2 119L316 119L316 147L299.2 147Z" fill="#1c1cc0" fill-opacity="0.86"/>
<path d="M299.2 147L316 147L316 150.5L299.2 151.1Z" fill="#1c1cc0" fill-opacity="0.358"/>
<path d="M299.2 147L316 147L316 154L299.2 155.2Z" fill="#1c1cc0" fill-opacity="0.242"/>
<path d="M299.2 147L316 147L316 157.5L299.2 159.3Z" fill="#1c1cc0" fill-opacity="0.174"/>
<path d="M299.2 147L316 147L316 161L299.2 163.4Z" fill="#1c1cc0" fill-opacity="0.13"/>
<path d="M299.2 147L316 147L316 164.5L299.2 167.5Z" fill="#1c1cc0" fill-opacity="0.098"/>
<path d="M299.2 147L316 147L316 168L299.2 171.6Z" fill="#1c1cc0" fill-opacity="0.073"/>
<path d="M299.2 147L316 147L316 171.5L299.2 175.7Z" fill="#1c1cc0" fill-opacity="0.052"/>
<path d="M299.2 147L316 147L316 175L299.2 179.8Z" fill="#1c1cc0" fill-opacity="0.033"/>
<path d="M299.2 147L316 147L316 178.5L299.2 183.9Z" fill="#1c1cc0" fill-opacity="0.016"/>
<path d="M299.2 147L316 147L316 182L299.2 188Z" fill="#1c1cc0" fill-opacity="0.022"/>
<path d="M306.2 162.2h0.7v0.7h-0.7zM312.8 168.7h0.7v0.7h-0.7zM311.3 176.6h0.7v0.7h-0.7zM306.7 161.0h0.7v0.7h-0.7zM303.0 185.4h0.7v0.7h-0.7zM306.9 190.0h0.7v0.7h-0.7zM312.8 178.2h0.7v0.7h-0.7zM315.7 160.1h0.7v0.7h-0.7zM305.9 178.1h0.7v0.7h-0.7zM301.7 179.7h0.7v0.7h-0.7zM303.8 173.0h0.7v0.7h-0.7zM307.0 169.8h0.7v0.7h-0.7zM302.1 182.7h0.7v0.7h-0.7zM309.7 162.7h0.7v0.7h-0.7zM315.5 163.6h0.7v0.7h-0.7zM302.9 169.6h0.7v0.7h-0.7zM305.3 176.7h0.7v0.7h-0.7zM314.4 163.4h0.7v0.7h-0.7zM308.8 181.2h0.7v0.7h-0.7zM303.5 172.1h0.7v0.7h-0.7zM306.7 190.2h0.7v0.7h-0.7zM312.3 176.3h0.7v0.7h-0.7zM300.4 172.2h0.7v0.7h-0.7zM312.9 174.8h0.7v0.7h-0.7zM305.8 181.7h0.7v0.7h-0.7zM310.7 163.8h0.7v0.7h-0.7zM306.2 189.1h0.7v0.7h-0.7zM303.6 178.0h0.7v0.7h-0.7zM305.0 178.8h0.7v0.7h-0.7zM305.8 171.7h0.7v0.7h-0.7zM307.0 172.4h0.7v0.7h-0.7zM313.8 172.5h0.7v0.7h-0.7zM310.6 166.0h0.7v0.7h-0.7zM308.3 169.2h0.7v0.7h-0.7zM314.6 172.5h0.7v0.7h-0.7zM304.9 178.7h0.7v0.7h-0.7zM313.0 179.3h0.7v0.7h-0.7zM309.6 164.8h0.7v0.7h-0.7zM313.2 181.8h0.7v0.7h-0.7zM310.1 170.3h0.7v0.7h-0.7zM312.0 177.9h0.7v0.7h-0.7zM304.6 193.7h0.7v0.7h-0.7zM312.2 183.1h0.7v0.7h-0.7zM313.3 183.7h0.7v0.7h-0.7zM305.7 192.5h0.7v0.7h-0.7zM314.4 182.8h0.7v0.7h-0.7zM306.5 177.0h0.7v0.7h-0.7zM313.2 180.2h0.7v0.7h-0.7zM307.0 187.3h0.7v0.7h-0.7zM303.4 180.7h0.7v0.7h-0.7zM305.1 180.6h0.7v0.7h-0.7zM314.3 174.0h0.7v0.7h-0.7zM301.1 160.4h0.7v0.7h-0.7zM313.2 175.9h0.7v0.7h-0.7zM306.6 161.0h0.7v0.7h-0.7zM300.9 160.0h0.7v0.7h-0.7zM314.2 161.6h0.7v0.7h-0.7zM304.6 176.1h0.7v0.7h-0.7zM308.8 167.6h0.7v0.7h-0.7zM310.0 181.7h0.7v0.7h-0.7zM315.7 163.2h0.7v0.7h-0.7zM304.2 163.5h0.7v0.7h-0.7zM304.1 167.2h0.7v0.7h-0.7zM303.8 185.3h0.7v0.7h-0.7zM312.9 187.1h0.7v0.7h-0.7zM313.5 181.5h0.7v0.7h-0.7zM309.3 174.5h0.7v0.7h-0.7zM313.0 178.1h0.7v0.7h-0.7zM305.1 176.9h0.7v0.7h-0.7zM307.1 166.4h0.7v0.7h-0.7z" fill="#1c1cc0" fill-opacity="0.25"/>
<path d="M310.5 173.4h0.8v0.8h-0.8zM308.2 153.2h0.8v0.8h-0.8zM308.0 168.9h0.8v0.8h-0.8zM302.3 168.8h0.8v0.8h-0.8zM311.0 167.9h0.8v0.8h-0.8zM315.1 157.5h0.8v0.8h-0.8zM304.8 175.5h0.8v0.8h-0.8zM301.3 163.6h0.8v0.8h-0.8zM311.6 167.4h0.8v0.8h-0.8zM300.0 163.3h0.8v0.8h-0.8zM307.7 151.6h0.8v0.8h-0.8zM311.0 166.6h0.8v0.8h-0.8zM303.4 178.8h0.8v0.8h-0.8zM304.0 173.2h0.8v0.8h-0.8zM311.4 151.0h0.8v0.8h-0.8zM315.0 177.0h0.8v0.8h-0.8zM310.7 150.4h0.8v0.8h-0.8zM314.3 165.8h0.8v0.8h-0.8zM304.8 165.2h0.8v0.8h-0.8zM308.8 167.9h0.8v0.8h-0.8zM301.7 154.5h0.8v0.8h-0.8zM299.4 170.8h0.8v0.8h-0.8zM307.3 168.2h0.8v0.8h-0.8zM301.3 168.7h0.8v0.8h-0.8zM313.6 156.3h0.8v0.8h-0.8zM306.5 170.8h0.8v0.8h-0.8zM311.3 179.6h0.8v0.8h-0.8zM307.8 169.7h0.8v0.8h-0.8zM315.8 162.7h0.8v0.8h-0.8zM303.3 171.0h0.8v0.8h-0.8zM308.0 149.8h0.8v0.8h-0.8zM308.5 169.6h0.8v0.8h-0.8zM306.0 170.5h0.8v0.8h-0.8zM305.4 163.6h0.8v0.8h-0.8zM309.4 165.9h0.8v0.8h-0.8zM308.4 176.9h0.8v0.8h-0.8zM302.8 169.3h0.8v0.8h-0.8zM315.9 153.8h0.8v0.8h-0.8zM303.3 159.6h0.8v0.8h-0.8zM303.2 169.3h0.8v0.8h-0.8zM303.5 159.1h0.8v0.8h-0.8zM299.5 174.6h0.8v0.8h-0.8zM304.2 177.4h0.8v0.8h-0.8zM313.9 173.0h0.8v0.8h-0.8zM314.6 149.2h0.8v0.8h-0.8zM301.4 166.0h0.8v0.8h-0.8zM305.4 168.5h0.8v0.8h-0.8zM309.4 156.7h0.8v0.8h-0.8zM312.0 157.5h0.8v0.8h-0.8zM305.4 162.5h0.8v0.8h-0.8zM301.8 149.2h0.8v0.8h-0.8zM308.6 171.1h0.8v0.8h-0.8zM306.3 157.5h0.8v0.8h-0.8zM303.6 174.8h0.8v0.8h-0.8zM304.4 149.8h0.8v0.8h-0.8zM308.2 162.0h0.8v0.8h-0.8zM303.6 165.3h0.8v0.8h-0.8zM312.4 174.9h0.8v0.8h-0.8zM301.4 162.8h0.8v0.8h-0.8zM301.0 168.4h0.8v0.8h-0.8zM304.3 164.2h0.8v0.8h-0.8zM301.7 161.9h0.8v0.8h-0.8zM309.7 175.4h0.8v0.8h-0.8zM308.4 157.4h0.8v0.8h-0.8zM308.3 170.9h0.8v0.8h-0.8zM299.6 168.9h0.8v0.8h-0.8zM313.5 162.6h0.8v0.8h-0.8zM308.0 170.9h0.8v0.8h-0.8zM315.3 142.3h0.8v0.8h-0.8zM309.2 167.1h0.8v0.8h-0.8zM314.7 148.1h0.8v0.8h-0.8zM308.2 154.1h0.8v0.8h-0.8zM305.8 175.3h0.8v0.8h-0.8zM310.8 162.7h0.8v0.8h-0.8zM314.5 150.2h0.8v0.8h-0.8zM302.4 168.0h0.8v0.8h-0.8zM313.8 143.5h0.8v0.8h-0.8zM306.4 173.3h0.8v0.8h-0.8zM311.3 176.5h0.8v0.8h-0.8zM315.2 176.1h0.8v0.8h-0.8zM312.2 176.7h0.8v0.8h-0.8zM305.8 170.8h0.8v0.8h-0.8zM314.6 157.3h0.8v0.8h-0.8zM303.6 175.9h0.8v0.8h-0.8zM308.8 152.1h0.8v0.8h-0.8zM313.0 167.1h0.8v0.8h-0.8zM301.0 147.3h0.8v0.8h-0.8zM302.4 162.8h0.8v0.8h-0.8zM302.8 175.1h0.8v0.8h-0.8zM299.7 162.3h0.8v0.8h-0.8zM307.1 164.8h0.8v0.8h-0.8zM305.4 161.7h0.8v0.8h-0.8zM312.4 146.7h0.8v0.8h-0.8zM309.3 173.6h0.8v0.8h-0.8zM311.5 167.2h0.8v0.8h-0.8zM305.7 168.6h0.8v0.8h-0.8zM302.1 151.3h0.8v0.8h-0.8zM308.0 162.0h0.8v0.8h-0.8zM308.4 172.6h0.8v0.8h-0.8zM307.8 154.0h0.8v0.8h-0.8zM301.1 170.2h0.8v0.8h-0.8zM303.6 169.9h0.8v0.8h-0.8zM300.1 156.4h0.8v0.8h-0.8zM304.6 143.4h0.8v0.8h-0.8zM314.2 144.0h0.8v0.8h-0.8zM314.1 163.5h0.8v0.8h-0.8zM300.4 142.2h0.8v0.8h-0.8zM310.6 157.4h0.8v0.8h-0.8zM308.1 163.4h0.8v0.8h-0.8zM309.3 179.9h0.8v0.8h-0.8zM307.5 179.0h0.8v0.8h-0.8zM308.5 152.2h0.8v0.8h-0.8zM306.2 157.1h0.8v0.8h-0.8zM303.5 159.2h0.8v0.8h-0.8zM300.9 166.4h0.8v0.8h-0.8zM302.5 150.0h0.8v0.8h-0.8zM307.1 167.0h0.8v0.8h-0.8zM309.1 164.2h0.8v0.8h-0.8zM311.1 157.8h0.8v0.8h-0.8zM311.1 170.8h0.8v0.8h-0.8z" fill="#ffffff" fill-opacity="0.4"/>
<path d="M314.1 177.1h0.8v0.8h-0.8zM299.6 171.3h0.8v0.8h-0.8zM314.2 186.9h0.8v0.8h-0.8zM300.7 173.9h0.8v0.8h-0.8zM305.8 179.9h0.8v0.8h-0.8zM308.1 173.2h0.8v0.8h-0.8zM313.6 192.1h0.8v0.8h-0.8zM310.4 166.8h0.8v0.8h-0.8zM304.4 183.0h0.8v0.8h-0.8zM306.2 171.7h0.8v0.8h-0.8zM310.4 174.3h0.8v0.8h-0.8zM307.1 192.0h0.8v0.8h-0.8zM301.6 184.5h0.8v0.8h-0.8zM303.1 193.0h0.8v0.8h-0.8zM312.6 194.4h0.8v0.8h-0.8zM305.6 180.7h0.8v0.8h-0.8zM304.6 175.9h0.8v0.8h-0.8zM307.4 185.5h0.8v0.8h-0.8zM314.5 178.4h0.8v0.8h-0.8zM304.0 176.1h0.8v0.8h-0.8zM310.8 170.1h0.8v0.8h-0.8zM303.5 171.0h0.8v0.8h-0.8zM301.0 193.2h0.8v0.8h-0.8zM307.7 188.1h0.8v0.8h-0.8zM310.7 178.7h0.8v0.8h-0.8zM307.9 169.0h0.8v0.8h-0.8zM303.3 175.7h0.8v0.8h-0.8zM305.2 185.4h0.8v0.8h-0.8zM303.3 172.4h0.8v0.8h-0.8zM313.9 189.2h0.8v0.8h-0.8zM302.5 180.1h0.8v0.8h-0.8zM313.2 190.0h0.8v0.8h-0.8zM303.0 180.0h0.8v0.8h-0.8zM309.1 165.3h0.8v0.8h-0.8zM303.3 188.0h0.8v0.8h-0.8zM310.4 178.9h0.8v0.8h-0.8zM308.8 181.4h0.8v0.8h-0.8zM305.0 167.6h0.8v0.8h-0.8zM311.7 188.9h0.8v0.8h-0.8zM306.5 188.9h0.8v0.8h-0.8zM313.1 186.4h0.8v0.8h-0.8zM312.8 195.0h0.8v0.8h-0.8zM306.8 189.1h0.8v0.8h-0.8zM311.6 168.1h0.8v0.8h-0.8zM309.1 167.8h0.8v0.8h-0.8zM311.5 175.5h0.8v0.8h-0.8zM305.5 173.5h0.8v0.8h-0.8zM312.8 184.9h0.8v0.8h-0.8zM304.2 188.0h0.8v0.8h-0.8zM302.3 189.9h0.8v0.8h-0.8z" fill="#1c1cc0" fill-opacity="0.3"/>
<path d="M316 111L332 113.5L340 103L345 98L349 95L354 97L363 99L363 121.7L354 121.7L349 121L340 130L332 136.4L316 132.5Z" fill="#1c1cc0" fill-opacity="0.86"/>
<path d="M363.1 92L375 90L385 89L385 109.5L375 110.5L363.1 111.5Z" fill="#1c1cc0" fill-opacity="0.7"/>
<path d="M316 111L332 113.5L340 103L345 98L349 95L354 97L363 99L363.1 92L375 90L385 89L385 88L375 89L363.1 91L363 98L354 96L349 94L345 97L340 102L332 112.5L316 110Z" fill="#1c1cc0" fill-opacity="0.071"/>
<path d="M316 111L332 113.5L340 103L345 98L349 95L354 97L363 99L363.1 92L375 90L385 89L385 87L375 88L363.1 90L363 97L354 95L349 93L345 96L340 101L332 111.5L316 109Z" fill="#1c1cc0" fill-opacity="0.062"/>
<path d="M316 111L332 113.5L340 103L345 98L349 95L354 97L363 99L363.1 92L375 90L385 89L385 86L375 87L363.1 89L363 96L354 94L349 92L345 95L340 100L332 110.5L316 108Z" fill="#1c1cc0" fill-opacity="0.055"/>
<path d="M316 111L332 113.5L340 103L345 98L349 95L354 97L363 99L363.1 92L375 90L385 89L385 85L375 86L363.1 88L363 95L354 93L349 91L345 94L340 99L332 109.5L316 107Z" fill="#1c1cc0" fill-opacity="0.049"/>
<path d="M316 111L332 113.5L340 103L345 98L349 95L354 97L363 99L363.1 92L375 90L385 89L385 84L375 85L363.1 87L363 94L354 92L349 90L345 93L340 98L332 108.5L316 106Z" fill="#1c1cc0" fill-opacity="0.042"/>
<path d="M316 111L332 113.5L340 103L345 98L349 95L354 97L363 99L363.1 92L375 90L385 89L385 83L375 84L363.1 86L363 93L354 91L349 89L345 92L340 97L332 107.5L316 105Z" fill="#1c1cc0" fill-opacity="0.037"/>
<path d="M316 111L332 113.5L340 103L345 98L349 95L354 97L363 99L363.1 92L375 90L385 89L385 82L375 83L363.1 85L363 92L354 90L349 88L345 91L340 96L332 106.5L316 104Z" fill="#1c1cc0" fill-opacity="0.031"/>
<path d="M316 111L332 113.5L340 103L345 98L349 95L354 97L363 99L363.1 92L375 90L385 89L385 81L375 82L363.1 84L363 91L354 89L349 87L345 90L340 95L332 105.5L316 103Z" fill="#1c1cc0" fill-opacity="0.024"/>
<path d="M316 111L332 113.5L340 103L345 98L349 95L354 97L363 99L363.1 92L375 90L385 89L385 80L375 81L363.1 83L363 90L354 88L349 86L345 89L340 94L332 104.5L316 102Z" fill="#1c1cc0" fill-opacity="0.017"/>
<path d="M316 111L332 113.5L340 103L345 98L349 95L354 97L363 99L363.1 92L375 90L385 89L385 79L375 80L363.1 82L363 89L354 87L349 85L345 88L340 93L332 103.5L316 101Z" fill="#1c1cc0" fill-opacity="0.024"/>
<path d="M316 132.5L332 136.4L340 130L349 121L354 121.7L363 121.7L363.1 111.5L375 110.5L385 109.5L385 110.8L375 111.8L363.1 112.8L363 123L354 123L349 122.3L340 131.3L332 137.7L316 133.8Z" fill="#1c1cc0" fill-opacity="0.102"/>
<path d="M316 132.5L332 136.4L340 130L349 121L354 121.7L363 121.7L363.1 111.5L375 110.5L385 109.5L385 112.1L375 113.1L363.1 114.1L363 124.3L354 124.3L349 123.6L340 132.6L332 139L316 135.1Z" fill="#1c1cc0" fill-opacity="0.088"/>
<path d="M316 132.5L332 136.4L340 130L349 121L354 121.7L363 121.7L363.1 111.5L375 110.5L385 109.5L385 113.4L375 114.4L363.1 115.4L363 125.6L354 125.6L349 124.9L340 133.9L332 140.3L316 136.4Z" fill="#1c1cc0" fill-opacity="0.076"/>
<path d="M316 132.5L332 136.4L340 130L349 121L354 121.7L363 121.7L363.1 111.5L375 110.5L385 109.5L385 114.7L375 115.7L363.1 116.7L363 126.9L354 126.9L349 126.2L340 135.2L332 141.6L316 137.7Z" fill="#1c1cc0" fill-opacity="0.066"/>
<path d="M316 132.5L332 136.4L340 130L349 121L354 121.7L363 121.7L363.1 111.5L375 110.5L385 109.5L385 116L375 117L363.1 118L363 128.2L354 128.2L349 127.5L340 136.5L332 142.9L316 139Z" fill="#1c1cc0" fill-opacity="0.057"/>
<path d="M316 132.5L332 136.4L340 130L349 121L354 121.7L363 121.7L363.1 111.5L375 110.5L385 109.5L385 117.3L375 118.3L363.1 119.3L363 129.5L354 129.5L349 128.8L340 137.8L332 144.2L316 140.3Z" fill="#1c1cc0" fill-opacity="0.048"/>
<path d="M316 132.5L332 136.4L340 130L349 121L354 121.7L363 121.7L363.1 111.5L375 110.5L385 109.5L385 118.6L375 119.6L363.1 120.6L363 130.8L354 130.8L349 130.1L340 139.1L332 145.5L316 141.6Z" fill="#1c1cc0" fill-opacity="0.04"/>
<path d="M316 132.5L332 136.4L340 130L349 121L354 121.7L363 121.7L363.1 111.5L375 110.5L385 109.5L385 119.9L375 120.9L363.1 121.9L363 132.1L354 132.1L349 131.4L340 140.4L332 146.8L316 142.9Z" fill="#1c1cc0" fill-opacity="0.032"/>
<path d="M316 132.5L332 136.4L340 130L349 121L354 121.7L363 121.7L363.1 111.5L375 110.5L385 109.5L385 121.2L375 122.2L363.1 123.2L363 133.4L354 133.4L349 132.7L340 141.7L332 148.1L316 144.2Z" fill="#1c1cc0" fill-opacity="0.022"/>
<path d="M316 132.5L332 136.4L340 130L349 121L354 121.7L363 121.7L363.1 111.5L375 110.5L385 109.5L385 122.5L375 123.5L363.1 124.5L363 134.7L354 134.7L349 134L340 143L332 149.4L316 145.5Z" fill="#1c1cc0" fill-opacity="0.025"/>
<path d="M385 89L393 91L393 109L385 109.5Z" fill="#1c1cc0" fill-opacity="0.14"/>
<path d="M346.5 100L348.6 88L350.5 76L351.2 52L353.6 52L354.3 76L355.2 88L356.5 100Z" fill="#1c1cc0" fill-opacity="0.75"/>
<path d="M353.2 55.8h0.8v0.8h-0.8zM353.3 59.7h0.8v0.8h-0.8zM353.6 50.3h0.8v0.8h-0.8zM353.2 52.2h0.8v0.8h-0.8zM351.8 47.5h0.8v0.8h-0.8zM354.1 56.7h0.8v0.8h-0.8zM354.8 54.4h0.8v0.8h-0.8zM352.8 49.1h0.8v0.8h-0.8zM353.7 53.7h0.8v0.8h-0.8zM354.7 55.5h0.8v0.8h-0.8zM352.2 47.0h0.8v0.8h-0.8zM350.7 56.0h0.8v0.8h-0.8zM352.4 49.1h0.8v0.8h-0.8zM350.7 50.9h0.8v0.8h-0.8z" fill="#1c1cc0" fill-opacity="0.35"/>
<path d="M362.5 100L363.4 88L363.8 58L365.2 58L365.6 88L367 100Z" fill="#1c1cc0" fill-opacity="0.6"/>
<path d="M401.6 85.1h0.8v0.8h-0.8zM397.8 104.4h0.8v0.8h-0.8zM395.8 97.8h0.8v0.8h-0.8zM386.0 101.0h0.8v0.8h-0.8zM394.0 112.7h0.8v0.8h-0.8zM392.4 88.2h0.8v0.8h-0.8zM401.7 99.0h0.8v0.8h-0.8zM388.2 100.0h0.8v0.8h-0.8zM383.7 81.5h0.8v0.8h-0.8zM401.2 92.5h0.8v0.8h-0.8zM399.2 82.6h0.8v0.8h-0.8zM391.3 83.5h0.8v0.8h-0.8zM399.3 97.9h0.8v0.8h-0.8zM389.4 89.4h0.8v0.8h-0.8zM385.1 82.4h0.8v0.8h-0.8zM396.6 86.5h0.8v0.8h-0.8zM382.5 89.4h0.8v0.8h-0.8zM389.2 90.1h0.8v0.8h-0.8zM403.3 102.8h0.8v0.8h-0.8zM391.0 89.9h0.8v0.8h-0.8zM385.4 80.1h0.8v0.8h-0.8zM391.3 99.6h0.8v0.8h-0.8zM382.5 93.1h0.8v0.8h-0.8zM384.2 98.1h0.8v0.8h-0.8zM388.3 100.6h0.8v0.8h-0.8zM398.8 90.2h0.8v0.8h-0.8zM389.2 77.2h0.8v0.8h-0.8zM385.1 98.9h0.8v0.8h-0.8zM399.4 79.5h0.8v0.8h-0.8zM403.4 110.6h0.8v0.8h-0.8zM388.8 95.6h0.8v0.8h-0.8zM396.1 87.2h0.8v0.8h-0.8zM388.8 102.9h0.8v0.8h-0.8zM391.6 91.5h0.8v0.8h-0.8zM393.5 78.6h0.8v0.8h-0.8zM391.3 85.8h0.8v0.8h-0.8zM384.0 95.0h0.8v0.8h-0.8zM396.9 95.0h0.8v0.8h-0.8zM392.0 100.8h0.8v0.8h-0.8zM393.6 101.8h0.8v0.8h-0.8zM389.2 90.0h0.8v0.8h-0.8zM388.2 83.7h0.8v0.8h-0.8zM399.0 108.5h0.8v0.8h-0.8zM386.7 96.6h0.8v0.8h-0.8zM391.0 79.3h0.8v0.8h-0.8zM397.6 95.3h0.8v0.8h-0.8zM403.8 110.4h0.8v0.8h-0.8zM401.7 84.5h0.8v0.8h-0.8zM382.6 106.4h0.8v0.8h-0.8zM382.6 101.5h0.8v0.8h-0.8zM384.2 102.2h0.8v0.8h-0.8zM381.3 77.5h0.8v0.8h-0.8zM400.8 94.6h0.8v0.8h-0.8zM390.8 112.9h0.8v0.8h-0.8zM398.8 83.0h0.8v0.8h-0.8zM396.9 89.4h0.8v0.8h-0.8zM391.1 86.5h0.8v0.8h-0.8zM385.4 86.1h0.8v0.8h-0.8zM386.5 81.6h0.8v0.8h-0.8zM401.0 89.2h0.8v0.8h-0.8zM393.5 106.5h0.8v0.8h-0.8zM396.3 80.3h0.8v0.8h-0.8zM402.9 111.3h0.8v0.8h-0.8zM400.1 87.2h0.8v0.8h-0.8zM399.9 99.7h0.8v0.8h-0.8zM380.7 89.1h0.8v0.8h-0.8zM396.8 95.8h0.8v0.8h-0.8zM402.7 105.6h0.8v0.8h-0.8zM400.1 113.2h0.8v0.8h-0.8zM388.2 110.3h0.8v0.8h-0.8zM380.1 105.9h0.8v0.8h-0.8zM382.1 94.0h0.8v0.8h-0.8zM390.6 76.9h0.8v0.8h-0.8zM395.3 105.5h0.8v0.8h-0.8zM385.4 83.8h0.8v0.8h-0.8zM398.5 95.1h0.8v0.8h-0.8zM380.4 86.3h0.8v0.8h-0.8zM402.6 85.0h0.8v0.8h-0.8zM386.9 92.0h0.8v0.8h-0.8zM401.3 106.4h0.8v0.8h-0.8zM389.2 100.6h0.8v0.8h-0.8zM380.7 76.6h0.8v0.8h-0.8zM388.9 99.4h0.8v0.8h-0.8zM383.4 75.7h0.8v0.8h-0.8zM400.5 81.4h0.8v0.8h-0.8zM381.3 77.4h0.8v0.8h-0.8zM381.9 85.4h0.8v0.8h-0.8zM393.9 100.3h0.8v0.8h-0.8zM386.9 94.6h0.8v0.8h-0.8zM388.0 97.2h0.8v0.8h-0.8z" fill="#1c1cc0" fill-opacity="0.3"/>
</g>
<path d="M300.5 80.0V190.0M303.1 80.0V190.0M305.6 80.0V190.0M308.2 80.0V190.0M310.7 80.0V190.0M313.3 80.0V190.0M315.8 80.0V190.0M318.4 80.0V190.0M320.9 80.0V190.0M323.5 80.0V190.0M326.0 80.0V190.0M328.6 80.0V190.0M331.1 80.0V190.0M333.7 80.0V190.0M336.2 80.0V190.0M338.8 80.0V190.0M341.3 80.0V190.0M343.9 80.0V190.0M346.4 80.0V190.0M349.0 80.0V190.0M351.5 80.0V190.0M354.1 80.0V190.0M356.6 80.0V190.0M359.2 80.0V190.0M361.7 80.0V190.0M364.3 80.0V190.0M366.8 80.0V190.0M369.4 80.0V190.0M371.9 80.0V190.0M374.5 80.0V190.0M377.0 80.0V190.0M379.6 80.0V190.0M382.1 80.0V190.0M384.7 80.0V190.0" stroke="#ffffff" stroke-opacity="0.36" stroke-width="1.0" fill="none"/>
<g filter="url(#b)">
<rect x="441.9" y="121" width="3.7" height="10.5" fill="#a020f0" fill-opacity="1.0"/>
<path d="M441.9 131.5L445.6 131.5L445.6 132.6L441.9 132.6Z" fill="#a020f0" fill-opacity="0.164"/>
<path d="M441.9 131.5L445.6 131.5L445.6 133.6L441.9 133.6Z" fill="#a020f0" fill-opacity="0.138"/>
<path d="M441.9 131.5L445.6 131.5L445.6 134.7L441.9 134.7Z" fill="#a020f0" fill-opacity="0.119"/>
<path d="M441.9 131.5L445.6 131.5L445.6 135.7L441.9 135.7Z" fill="#a020f0" fill-opacity="0.103"/>
<path d="M441.9 131.5L445.6 131.5L445.6 136.8L441.9 136.8Z" fill="#a020f0" fill-opacity="0.09"/>
<path d="M441.9 131.5L445.6 131.5L445.6 137.8L441.9 137.8Z" fill="#a020f0" fill-opacity="0.08"/>
<path d="M441.9 131.5L445.6 131.5L445.6 138.8L441.9 138.8Z" fill="#a020f0" fill-opacity="0.07"/>
<path d="M441.9 131.5L445.6 131.5L445.6 139.9L441.9 139.9Z" fill="#a020f0" fill-opacity="0.06"/>
<path d="M441.9 131.5L445.6 131.5L445.6 140.9L441.9 140.9Z" fill="#a020f0" fill-opacity="0.05"/>
<path d="M441.9 131.5L445.6 131.5L445.6 142L441.9 142Z" fill="#a020f0" fill-opacity="0.018"/>
<path d="M442.3 133.5h0.8v0.8h-0.8zM441.9 141.8h0.8v0.8h-0.8zM442.7 131.5h0.8v0.8h-0.8zM442.6 128.4h0.8v0.8h-0.8zM442.9 133.9h0.8v0.8h-0.8zM444.8 139.6h0.8v0.8h-0.8zM445.5 128.7h0.8v0.8h-0.8zM443.9 125.8h0.8v0.8h-0.8zM443.0 130.2h0.8v0.8h-0.8zM445.5 117.6h0.8v0.8h-0.8zM444.7 125.0h0.8v0.8h-0.8zM444.1 123.4h0.8v0.8h-0.8zM444.6 129.9h0.8v0.8h-0.8zM443.0 128.5h0.8v0.8h-0.8zM441.9 118.7h0.8v0.8h-0.8zM445.3 118.3h0.8v0.8h-0.8zM443.4 134.7h0.8v0.8h-0.8zM442.0 142.1h0.8v0.8h-0.8z" fill="#a020f0" fill-opacity="0.35"/>
</g>
<text x="443" y="116.1" font-family="Liberation Serif" font-size="6.1" text-anchor="middle" fill="#1a1a1a" stroke="#1a1a1a" stroke-width="0.15" filter="url(#t)" text-rendering="geometricPrecision">NA</text>
<rect x="253.6" y="3.2" width="197.7" height="197.1" fill="none" stroke="#8c8c8c" stroke-width="1"/>
<path d="M261.1 200.3v3.4M291.8 200.3v3.4M322.5 200.3v3.4M353.2 200.3v3.4M383.9 200.3v3.4M414.6 200.3v3.4M445.3 200.3v3.4M253.6 54.8h-3.4M253.6 110.3h-3.4M253.6 165.8h-3.4" stroke="#6a6a6a" stroke-width="1" fill="none"/>
<g filter="url(#t)" fill="#1a1a1a" stroke="#1a1a1a" stroke-width="0.1" text-rendering="geometricPrecision">
<text x="261.1" y="210.1" font-family="Liberation Sans" font-size="5.8" text-anchor="middle">0</text>
<text x="291.8" y="210.1" font-family="Liberation Sans" font-size="5.8" text-anchor="middle">50</text>
<text x="322.5" y="210.1" font-family="Liberation Sans" font-size="5.8" text-anchor="middle">100</text>
<text x="353.2" y="210.1" font-family="Liberation Sans" font-size="5.8" text-anchor="middle">150</text>
<text x="383.9" y="210.1" font-family="Liberation Sans" font-size="5.8" text-anchor="middle">200</text>
<text x="414.6" y="210.1" font-family="Liberation Sans" font-size="5.8" text-anchor="middle">250</text>
<text x="445.3" y="210.1" font-family="Liberation Sans" font-size="5.8" text-anchor="middle">300</text>
<text transform="translate(248.2 54.9) rotate(-90)" font-family="Liberation Sans" font-size="5.8" text-anchor="middle">0.5</text>
<text transform="translate(248.2 110.5) rotate(-90)" font-family="Liberation Sans" font-size="5.8" text-anchor="middle">0.0</text>
<text transform="translate(248.2 166) rotate(-90)" font-family="Liberation Sans" font-size="5.8" text-anchor="middle">-0.5</text>
<text x="360" y="218.6" font-family="Liberation Sans" font-size="6.7" text-anchor="middle">Heart rate (BPM)</text>
<text transform="translate(239.8 101.8) rotate(-90)" font-family="Liberation Sans" font-size="5.6" text-anchor="middle">SHAP</text>
</g>
<path d="M491.2 3.2V200.3M547.7 3.2V200.3M604.2 3.2V200.3M660.7 3.2V200.3M483.8 31H681.3M483.8 61.1H681.3M483.8 91.2H681.3M483.8 121.3H681.3M483.8 151.4H681.3M483.8 181.5H681.3" stroke="#f5f5f5" stroke-width="1.2" fill="none"/>
<g filter="url(#b)">
<radialGradient id="h3" gradientUnits="userSpaceOnUse" cx="506" cy="132" r="62" gradientTransform="translate(506 132) scale(1 1.25) translate(-506 -132)"><stop offset="0" stop-color="#7c7cb4" stop-opacity="0.08"/><stop offset="0.6" stop-color="#7c7cb4" stop-opacity="0.03"/><stop offset="1" stop-color="#7c7cb4" stop-opacity="0"/></radialGradient>
<path d="M495 150L499 120L503 80L507 42L522 42L545 65L570 100L580 145L560 153L520 156L500 160Z" fill="url(#h3)" filter="url(#bb)"/>
<path d="M516.2 150.8h0.8v0.8h-0.8zM551.5 111.0h0.8v0.8h-0.8zM535.1 100.5h0.8v0.8h-0.8zM512.2 149.7h0.8v0.8h-0.8zM533.7 146.2h0.8v0.8h-0.8zM510.8 124.1h0.8v0.8h-0.8zM582.0 139.7h0.8v0.8h-0.8zM520.0 120.3h0.8v0.8h-0.8zM510.2 138.5h0.8v0.8h-0.8zM503.9 144.0h0.8v0.8h-0.8zM557.3 98.3h0.8v0.8h-0.8zM519.1 86.8h0.8v0.8h-0.8zM510.9 63.0h0.8v0.8h-0.8zM529.5 99.6h0.8v0.8h-0.8zM530.0 100.1h0.8v0.8h-0.8zM509.0 114.1h0.8v0.8h-0.8zM513.5 74.9h0.8v0.8h-0.8zM512.9 117.0h0.8v0.8h-0.8zM502.6 143.2h0.8v0.8h-0.8zM520.3 142.6h0.8v0.8h-0.8zM515.0 90.1h0.8v0.8h-0.8zM535.8 86.0h0.8v0.8h-0.8zM519.3 137.5h0.8v0.8h-0.8zM528.6 151.9h0.8v0.8h-0.8zM515.7 142.8h0.8v0.8h-0.8zM519.2 49.4h0.8v0.8h-0.8zM514.4 53.5h0.8v0.8h-0.8zM523.1 102.3h0.8v0.8h-0.8zM499.8 143.9h0.8v0.8h-0.8zM500.0 152.9h0.8v0.8h-0.8zM514.1 142.8h0.8v0.8h-0.8zM516.9 131.9h0.8v0.8h-0.8zM509.8 131.1h0.8v0.8h-0.8zM527.9 148.1h0.8v0.8h-0.8zM510.0 63.2h0.8v0.8h-0.8zM529.8 110.7h0.8v0.8h-0.8zM538.1 119.9h0.8v0.8h-0.8zM519.0 53.5h0.8v0.8h-0.8zM516.0 44.8h0.8v0.8h-0.8zM527.6 60.7h0.8v0.8h-0.8zM563.2 144.5h0.8v0.8h-0.8zM517.8 102.3h0.8v0.8h-0.8zM542.5 99.7h0.8v0.8h-0.8zM524.9 97.7h0.8v0.8h-0.8zM529.8 58.6h0.8v0.8h-0.8zM536.4 135.7h0.8v0.8h-0.8zM515.8 97.1h0.8v0.8h-0.8zM520.9 129.8h0.8v0.8h-0.8zM507.6 130.7h0.8v0.8h-0.8zM552.0 114.1h0.8v0.8h-0.8zM502.1 137.9h0.8v0.8h-0.8zM522.3 71.6h0.8v0.8h-0.8zM550.5 98.5h0.8v0.8h-0.8zM518.8 77.7h0.8v0.8h-0.8zM520.9 143.3h0.8v0.8h-0.8zM535.5 149.2h0.8v0.8h-0.8zM512.5 63.1h0.8v0.8h-0.8zM509.2 128.2h0.8v0.8h-0.8zM532.4 94.0h0.8v0.8h-0.8zM509.7 144.1h0.8v0.8h-0.8zM510.7 131.9h0.8v0.8h-0.8zM519.1 59.9h0.8v0.8h-0.8zM518.0 90.3h0.8v0.8h-0.8zM521.8 90.5h0.8v0.8h-0.8zM511.5 59.9h0.8v0.8h-0.8zM501.0 120.9h0.8v0.8h-0.8zM524.0 53.3h0.8v0.8h-0.8zM518.0 142.4h0.8v0.8h-0.8zM517.8 49.3h0.8v0.8h-0.8zM554.0 140.8h0.8v0.8h-0.8zM519.4 95.8h0.8v0.8h-0.8zM571.7 122.8h0.8v0.8h-0.8zM504.4 109.0h0.8v0.8h-0.8zM518.6 134.2h0.8v0.8h-0.8zM521.1 55.0h0.8v0.8h-0.8zM550.4 99.7h0.8v0.8h-0.8zM522.7 143.5h0.8v0.8h-0.8zM524.8 128.5h0.8v0.8h-0.8zM520.3 118.7h0.8v0.8h-0.8zM529.8 135.4h0.8v0.8h-0.8zM531.6 81.7h0.8v0.8h-0.8zM538.1 136.6h0.8v0.8h-0.8zM504.8 126.2h0.8v0.8h-0.8zM504.4 152.8h0.8v0.8h-0.8zM505.5 97.8h0.8v0.8h-0.8zM505.3 137.1h0.8v0.8h-0.8zM513.5 145.7h0.8v0.8h-0.8zM509.3 57.4h0.8v0.8h-0.8zM532.6 73.4h0.8v0.8h-0.8zM535.2 65.0h0.8v0.8h-0.8zM524.3 90.4h0.8v0.8h-0.8zM539.9 95.1h0.8v0.8h-0.8zM511.1 99.5h0.8v0.8h-0.8zM527.1 82.6h0.8v0.8h-0.8zM546.5 122.8h0.8v0.8h-0.8zM542.3 146.7h0.8v0.8h-0.8zM547.4 132.5h0.8v0.8h-0.8zM500.4 150.1h0.8v0.8h-0.8zM525.8 149.7h0.8v0.8h-0.8zM533.0 150.8h0.8v0.8h-0.8zM566.5 116.0h0.8v0.8h-0.8zM556.1 104.3h0.8v0.8h-0.8zM511.3 80.2h0.8v0.8h-0.8zM515.7 99.1h0.8v0.8h-0.8zM526.2 66.9h0.8v0.8h-0.8zM523.4 95.1h0.8v0.8h-0.8zM514.1 118.2h0.8v0.8h-0.8zM535.1 126.3h0.8v0.8h-0.8zM502.9 101.0h0.8v0.8h-0.8zM544.4 144.3h0.8v0.8h-0.8zM545.2 82.2h0.8v0.8h-0.8zM501.6 102.3h0.8v0.8h-0.8zM529.0 123.7h0.8v0.8h-0.8zM555.5 97.2h0.8v0.8h-0.8zM536.0 79.8h0.8v0.8h-0.8zM507.0 105.9h0.8v0.8h-0.8zM514.8 108.1h0.8v0.8h-0.8zM506.4 78.4h0.8v0.8h-0.8zM505.5 143.9h0.8v0.8h-0.8zM523.1 61.7h0.8v0.8h-0.8zM547.4 102.3h0.8v0.8h-0.8zM525.1 118.3h0.8v0.8h-0.8zM523.3 119.7h0.8v0.8h-0.8zM547.7 87.2h0.8v0.8h-0.8zM514.3 54.1h0.8v0.8h-0.8zM524.8 102.5h0.8v0.8h-0.8zM527.1 97.6h0.8v0.8h-0.8zM507.6 109.2h0.8v0.8h-0.8zM503.1 112.0h0.8v0.8h-0.8zM529.6 116.7h0.8v0.8h-0.8zM538.0 86.1h0.8v0.8h-0.8zM555.2 141.5h0.8v0.8h-0.8zM502.9 110.0h0.8v0.8h-0.8zM530.9 69.0h0.8v0.8h-0.8zM509.5 152.4h0.8v0.8h-0.8zM521.4 70.1h0.8v0.8h-0.8zM505.8 60.7h0.8v0.8h-0.8zM516.0 78.9h0.8v0.8h-0.8zM520.3 132.1h0.8v0.8h-0.8zM532.9 125.6h0.8v0.8h-0.8zM498.4 134.7h0.8v0.8h-0.8zM504.2 110.2h0.8v0.8h-0.8zM500.5 122.2h0.8v0.8h-0.8zM532.2 62.3h0.8v0.8h-0.8zM502.1 97.5h0.8v0.8h-0.8zM510.8 129.4h0.8v0.8h-0.8zM515.0 105.3h0.8v0.8h-0.8zM528.2 57.3h0.8v0.8h-0.8zM543.4 99.4h0.8v0.8h-0.8zM503.0 116.9h0.8v0.8h-0.8zM539.9 91.0h0.8v0.8h-0.8zM510.4 126.0h0.8v0.8h-0.8zM506.7 85.9h0.8v0.8h-0.8zM498.8 121.6h0.8v0.8h-0.8zM520.2 138.5h0.8v0.8h-0.8zM518.2 92.9h0.8v0.8h-0.8zM527.1 108.4h0.8v0.8h-0.8zM548.0 102.9h0.8v0.8h-0.8zM518.1 96.6h0.8v0.8h-0.8zM532.4 130.8h0.8v0.8h-0.8zM563.3 109.8h0.8v0.8h-0.8zM504.6 103.3h0.8v0.8h-0.8zM501.9 119.1h0.8v0.8h-0.8zM534.0 86.0h0.8v0.8h-0.8zM510.1 116.2h0.8v0.8h-0.8zM568.5 123.4h0.8v0.8h-0.8zM506.2 99.8h0.8v0.8h-0.8zM503.9 117.1h0.8v0.8h-0.8zM503.4 127.2h0.8v0.8h-0.8zM506.7 114.2h0.8v0.8h-0.8zM515.3 153.8h0.8v0.8h-0.8zM532.8 135.0h0.8v0.8h-0.8zM532.6 110.2h0.8v0.8h-0.8zM502.8 154.2h0.8v0.8h-0.8zM510.0 60.9h0.8v0.8h-0.8zM521.8 124.5h0.8v0.8h-0.8zM516.6 108.9h0.8v0.8h-0.8zM515.5 64.9h0.8v0.8h-0.8zM511.8 147.7h0.8v0.8h-0.8zM529.9 133.1h0.8v0.8h-0.8zM540.2 151.7h0.8v0.8h-0.8zM558.8 99.9h0.8v0.8h-0.8zM544.5 134.7h0.8v0.8h-0.8zM533.6 153.1h0.8v0.8h-0.8zM534.3 112.3h0.8v0.8h-0.8zM515.4 62.4h0.8v0.8h-0.8zM542.9 138.1h0.8v0.8h-0.8zM532.3 124.1h0.8v0.8h-0.8zM536.0 121.1h0.8v0.8h-0.8zM499.4 120.6h0.8v0.8h-0.8zM515.1 116.5h0.8v0.8h-0.8zM518.6 68.5h0.8v0.8h-0.8zM518.8 61.7h0.8v0.8h-0.8zM500.7 129.1h0.8v0.8h-0.8zM510.1 56.9h0.8v0.8h-0.8zM524.5 139.0h0.8v0.8h-0.8zM544.3 138.4h0.8v0.8h-0.8zM499.8 142.9h0.8v0.8h-0.8zM506.4 150.7h0.8v0.8h-0.8zM499.8 122.3h0.8v0.8h-0.8zM520.5 109.0h0.8v0.8h-0.8zM515.9 135.3h0.8v0.8h-0.8zM541.0 141.9h0.8v0.8h-0.8zM529.8 101.3h0.8v0.8h-0.8zM518.2 140.8h0.8v0.8h-0.8zM510.9 80.2h0.8v0.8h-0.8zM514.7 102.5h0.8v0.8h-0.8zM507.0 140.8h0.8v0.8h-0.8zM535.4 76.5h0.8v0.8h-0.8zM519.3 138.4h0.8v0.8h-0.8zM519.6 70.7h0.8v0.8h-0.8zM514.4 108.7h0.8v0.8h-0.8zM500.0 117.2h0.8v0.8h-0.8zM505.0 139.2h0.8v0.8h-0.8zM509.1 84.2h0.8v0.8h-0.8zM511.5 132.3h0.8v0.8h-0.8zM505.1 118.1h0.8v0.8h-0.8zM516.0 95.4h0.8v0.8h-0.8zM517.7 84.9h0.8v0.8h-0.8zM500.4 110.0h0.8v0.8h-0.8zM545.3 129.9h0.8v0.8h-0.8zM537.6 104.1h0.8v0.8h-0.8zM515.7 111.8h0.8v0.8h-0.8zM550.3 89.6h0.8v0.8h-0.8zM520.4 116.2h0.8v0.8h-0.8zM529.3 149.3h0.8v0.8h-0.8zM509.1 96.4h0.8v0.8h-0.8zM531.7 138.7h0.8v0.8h-0.8zM518.1 82.9h0.8v0.8h-0.8zM559.4 123.8h0.8v0.8h-0.8zM505.6 118.1h0.8v0.8h-0.8zM516.3 149.3h0.8v0.8h-0.8zM547.2 98.4h0.8v0.8h-0.8zM513.5 61.3h0.8v0.8h-0.8zM505.4 121.9h0.8v0.8h-0.8zM517.7 96.2h0.8v0.8h-0.8zM513.1 98.9h0.8v0.8h-0.8zM515.6 141.4h0.8v0.8h-0.8zM522.8 104.4h0.8v0.8h-0.8zM508.2 121.3h0.8v0.8h-0.8zM531.4 125.4h0.8v0.8h-0.8zM499.5 141.8h0.8v0.8h-0.8zM505.0 153.0h0.8v0.8h-0.8zM527.8 138.0h0.8v0.8h-0.8zM507.8 107.7h0.8v0.8h-0.8zM514.7 127.8h0.8v0.8h-0.8zM529.8 145.8h0.8v0.8h-0.8zM501.8 122.9h0.8v0.8h-0.8zM528.2 78.7h0.8v0.8h-0.8zM572.4 128.8h0.8v0.8h-0.8zM531.6 139.6h0.8v0.8h-0.8zM508.7 94.5h0.8v0.8h-0.8zM511.2 102.0h0.8v0.8h-0.8zM510.1 45.3h0.8v0.8h-0.8zM535.4 123.3h0.8v0.8h-0.8zM553.9 100.1h0.8v0.8h-0.8zM504.4 95.6h0.8v0.8h-0.8zM513.0 140.6h0.8v0.8h-0.8zM503.9 124.7h0.8v0.8h-0.8zM507.3 88.5h0.8v0.8h-0.8zM506.2 133.5h0.8v0.8h-0.8zM499.1 145.3h0.8v0.8h-0.8zM515.2 86.6h0.8v0.8h-0.8zM523.8 69.1h0.8v0.8h-0.8zM522.2 149.8h0.8v0.8h-0.8zM549.4 138.9h0.8v0.8h-0.8zM514.3 130.6h0.8v0.8h-0.8zM513.8 71.1h0.8v0.8h-0.8zM517.7 148.8h0.8v0.8h-0.8zM507.3 114.2h0.8v0.8h-0.8zM572.3 132.0h0.8v0.8h-0.8zM547.1 142.7h0.8v0.8h-0.8zM517.8 107.2h0.8v0.8h-0.8zM530.6 123.3h0.8v0.8h-0.8zM529.0 90.5h0.8v0.8h-0.8zM526.0 83.0h0.8v0.8h-0.8zM524.5 58.9h0.8v0.8h-0.8zM518.6 50.8h0.8v0.8h-0.8zM507.7 103.6h0.8v0.8h-0.8zM523.3 61.2h0.8v0.8h-0.8zM528.0 132.6h0.8v0.8h-0.8zM524.4 109.2h0.8v0.8h-0.8zM505.5 66.2h0.8v0.8h-0.8zM553.6 151.0h0.8v0.8h-0.8zM531.0 146.0h0.8v0.8h-0.8zM579.9 136.1h0.8v0.8h-0.8zM510.8 76.0h0.8v0.8h-0.8zM525.3 79.3h0.8v0.8h-0.8zM553.1 95.8h0.8v0.8h-0.8zM543.2 121.3h0.8v0.8h-0.8zM510.4 118.3h0.8v0.8h-0.8zM521.9 109.6h0.8v0.8h-0.8zM521.6 53.1h0.8v0.8h-0.8zM540.5 84.2h0.8v0.8h-0.8zM532.8 146.7h0.8v0.8h-0.8zM557.3 120.6h0.8v0.8h-0.8zM527.4 94.5h0.8v0.8h-0.8zM507.0 60.9h0.8v0.8h-0.8zM498.2 132.0h0.8v0.8h-0.8zM522.9 71.9h0.8v0.8h-0.8zM564.8 128.9h0.8v0.8h-0.8zM512.2 146.5h0.8v0.8h-0.8zM511.2 121.4h0.8v0.8h-0.8zM511.8 138.6h0.8v0.8h-0.8zM563.7 107.7h0.8v0.8h-0.8zM562.3 120.9h0.8v0.8h-0.8zM505.9 91.6h0.8v0.8h-0.8zM528.2 82.2h0.8v0.8h-0.8zM515.7 143.1h0.8v0.8h-0.8zM534.6 123.8h0.8v0.8h-0.8zM512.4 124.8h0.8v0.8h-0.8zM540.5 122.7h0.8v0.8h-0.8zM543.9 136.9h0.8v0.8h-0.8zM504.8 95.3h0.8v0.8h-0.8zM509.0 138.1h0.8v0.8h-0.8zM504.7 91.7h0.8v0.8h-0.8zM530.6 124.8h0.8v0.8h-0.8zM546.5 86.5h0.8v0.8h-0.8zM571.0 141.1h0.8v0.8h-0.8zM509.7 137.6h0.8v0.8h-0.8zM530.0 101.0h0.8v0.8h-0.8zM528.4 56.3h0.8v0.8h-0.8zM522.9 120.5h0.8v0.8h-0.8zM511.3 152.0h0.8v0.8h-0.8zM505.0 140.0h0.8v0.8h-0.8zM509.9 45.3h0.8v0.8h-0.8zM517.9 79.7h0.8v0.8h-0.8zM524.5 68.9h0.8v0.8h-0.8zM552.7 123.6h0.8v0.8h-0.8zM504.7 115.8h0.8v0.8h-0.8zM519.7 130.3h0.8v0.8h-0.8zM518.1 139.9h0.8v0.8h-0.8zM518.9 132.5h0.8v0.8h-0.8zM545.1 138.3h0.8v0.8h-0.8zM531.2 110.3h0.8v0.8h-0.8zM540.8 136.2h0.8v0.8h-0.8zM511.4 68.0h0.8v0.8h-0.8zM550.5 135.6h0.8v0.8h-0.8zM507.8 142.6h0.8v0.8h-0.8zM513.2 63.6h0.8v0.8h-0.8zM542.7 113.5h0.8v0.8h-0.8zM531.5 92.9h0.8v0.8h-0.8zM514.3 68.6h0.8v0.8h-0.8zM510.7 103.4h0.8v0.8h-0.8zM514.9 120.5h0.8v0.8h-0.8zM514.4 112.4h0.8v0.8h-0.8zM569.5 112.6h0.8v0.8h-0.8zM528.8 110.6h0.8v0.8h-0.8zM527.2 117.1h0.8v0.8h-0.8zM499.9 116.1h0.8v0.8h-0.8zM513.4 96.7h0.8v0.8h-0.8zM509.0 59.7h0.8v0.8h-0.8zM535.9 147.5h0.8v0.8h-0.8zM510.9 97.3h0.8v0.8h-0.8zM503.3 137.2h0.8v0.8h-0.8zM508.9 66.1h0.8v0.8h-0.8zM523.0 114.8h0.8v0.8h-0.8zM506.8 149.0h0.8v0.8h-0.8zM521.3 110.7h0.8v0.8h-0.8zM516.5 152.2h0.8v0.8h-0.8zM518.5 126.6h0.8v0.8h-0.8zM527.1 122.2h0.8v0.8h-0.8zM541.8 129.5h0.8v0.8h-0.8zM508.6 119.0h0.8v0.8h-0.8zM514.1 140.2h0.8v0.8h-0.8zM515.5 98.0h0.8v0.8h-0.8zM542.4 123.8h0.8v0.8h-0.8zM513.2 121.9h0.8v0.8h-0.8zM539.9 71.7h0.8v0.8h-0.8zM528.7 78.4h0.8v0.8h-0.8zM538.9 95.0h0.8v0.8h-0.8zM528.2 108.2h0.8v0.8h-0.8zM501.3 117.9h0.8v0.8h-0.8zM529.4 134.9h0.8v0.8h-0.8zM508.7 135.5h0.8v0.8h-0.8zM521.1 54.0h0.8v0.8h-0.8zM505.9 118.9h0.8v0.8h-0.8zM531.7 67.5h0.8v0.8h-0.8zM535.8 145.1h0.8v0.8h-0.8zM499.1 123.2h0.8v0.8h-0.8zM511.5 74.4h0.8v0.8h-0.8zM518.4 113.3h0.8v0.8h-0.8zM504.7 87.0h0.8v0.8h-0.8zM501.2 103.4h0.8v0.8h-0.8zM519.4 146.7h0.8v0.8h-0.8zM515.9 87.9h0.8v0.8h-0.8zM528.6 122.8h0.8v0.8h-0.8zM519.8 127.7h0.8v0.8h-0.8zM502.1 119.2h0.8v0.8h-0.8zM502.5 97.5h0.8v0.8h-0.8zM539.4 105.1h0.8v0.8h-0.8zM548.7 114.3h0.8v0.8h-0.8zM504.4 153.1h0.8v0.8h-0.8zM531.8 113.1h0.8v0.8h-0.8zM519.9 145.4h0.8v0.8h-0.8zM526.1 89.5h0.8v0.8h-0.8zM527.3 68.2h0.8v0.8h-0.8zM518.3 142.3h0.8v0.8h-0.8zM512.8 119.5h0.8v0.8h-0.8zM515.3 116.3h0.8v0.8h-0.8zM526.7 84.7h0.8v0.8h-0.8zM513.9 51.0h0.8v0.8h-0.8zM523.2 100.6h0.8v0.8h-0.8zM525.6 91.6h0.8v0.8h-0.8zM506.2 135.5h0.8v0.8h-0.8zM510.6 133.9h0.8v0.8h-0.8zM512.9 103.0h0.8v0.8h-0.8zM512.1 78.9h0.8v0.8h-0.8zM504.6 99.5h0.8v0.8h-0.8zM513.8 71.2h0.8v0.8h-0.8zM507.0 84.0h0.8v0.8h-0.8zM528.6 140.0h0.8v0.8h-0.8zM517.9 128.9h0.8v0.8h-0.8zM499.3 128.2h0.8v0.8h-0.8zM507.8 69.5h0.8v0.8h-0.8zM516.3 102.2h0.8v0.8h-0.8zM504.3 133.6h0.8v0.8h-0.8zM538.6 111.2h0.8v0.8h-0.8zM519.0 153.3h0.8v0.8h-0.8zM515.0 79.5h0.8v0.8h-0.8zM528.8 75.3h0.8v0.8h-0.8zM503.5 128.6h0.8v0.8h-0.8zM528.2 105.8h0.8v0.8h-0.8zM512.9 122.2h0.8v0.8h-0.8zM512.7 126.7h0.8v0.8h-0.8zM528.0 90.5h0.8v0.8h-0.8zM522.8 128.4h0.8v0.8h-0.8zM511.5 148.3h0.8v0.8h-0.8zM508.6 104.6h0.8v0.8h-0.8zM522.7 125.9h0.8v0.8h-0.8zM525.2 138.4h0.8v0.8h-0.8zM501.8 126.6h0.8v0.8h-0.8zM559.2 110.6h0.8v0.8h-0.8zM523.5 65.3h0.8v0.8h-0.8zM542.7 141.9h0.8v0.8h-0.8zM551.8 125.3h0.8v0.8h-0.8zM529.1 138.2h0.8v0.8h-0.8zM509.9 79.7h0.8v0.8h-0.8zM511.4 96.5h0.8v0.8h-0.8zM518.9 125.6h0.8v0.8h-0.8zM518.1 73.6h0.8v0.8h-0.8zM524.6 110.4h0.8v0.8h-0.8zM509.4 106.2h0.8v0.8h-0.8zM507.6 116.3h0.8v0.8h-0.8zM538.5 135.4h0.8v0.8h-0.8zM511.7 83.4h0.8v0.8h-0.8zM528.0 79.9h0.8v0.8h-0.8zM502.3 99.1h0.8v0.8h-0.8zM516.7 117.8h0.8v0.8h-0.8zM534.7 89.2h0.8v0.8h-0.8zM567.8 114.1h0.8v0.8h-0.8zM530.8 92.2h0.8v0.8h-0.8zM510.0 85.3h0.8v0.8h-0.8zM514.6 121.3h0.8v0.8h-0.8zM547.8 129.1h0.8v0.8h-0.8zM508.1 73.7h0.8v0.8h-0.8zM550.3 143.2h0.8v0.8h-0.8zM543.4 82.4h0.8v0.8h-0.8zM540.1 143.3h0.8v0.8h-0.8zM549.2 109.2h0.8v0.8h-0.8zM540.9 96.2h0.8v0.8h-0.8zM540.0 97.4h0.8v0.8h-0.8zM509.1 78.6h0.8v0.8h-0.8zM499.2 148.0h0.8v0.8h-0.8zM511.6 150.8h0.8v0.8h-0.8zM541.8 149.6h0.8v0.8h-0.8zM544.1 139.7h0.8v0.8h-0.8zM528.1 124.4h0.8v0.8h-0.8zM515.2 146.0h0.8v0.8h-0.8zM526.8 63.6h0.8v0.8h-0.8zM559.3 135.1h0.8v0.8h-0.8zM501.4 140.0h0.8v0.8h-0.8zM546.7 147.2h0.8v0.8h-0.8zM515.7 140.7h0.8v0.8h-0.8zM526.9 76.8h0.8v0.8h-0.8zM546.6 115.8h0.8v0.8h-0.8zM520.1 102.5h0.8v0.8h-0.8zM514.9 132.8h0.8v0.8h-0.8zM528.5 139.6h0.8v0.8h-0.8zM516.7 81.1h0.8v0.8h-0.8zM568.5 110.3h0.8v0.8h-0.8zM540.4 110.8h0.8v0.8h-0.8zM538.8 108.1h0.8v0.8h-0.8zM543.7 101.8h0.8v0.8h-0.8zM513.0 78.5h0.8v0.8h-0.8zM518.9 48.3h0.8v0.8h-0.8zM515.9 145.3h0.8v0.8h-0.8zM525.2 144.5h0.8v0.8h-0.8zM518.0 101.7h0.8v0.8h-0.8zM525.7 52.2h0.8v0.8h-0.8zM525.6 98.3h0.8v0.8h-0.8zM528.5 99.4h0.8v0.8h-0.8zM532.6 130.2h0.8v0.8h-0.8zM512.5 106.5h0.8v0.8h-0.8zM523.8 149.3h0.8v0.8h-0.8zM512.2 104.4h0.8v0.8h-0.8zM554.3 105.8h0.8v0.8h-0.8zM518.3 76.3h0.8v0.8h-0.8zM512.8 140.7h0.8v0.8h-0.8zM533.1 152.1h0.8v0.8h-0.8zM521.0 69.2h0.8v0.8h-0.8zM499.3 117.5h0.8v0.8h-0.8zM520.6 126.8h0.8v0.8h-0.8zM514.0 58.2h0.8v0.8h-0.8zM504.9 151.9h0.8v0.8h-0.8zM507.6 124.2h0.8v0.8h-0.8zM537.3 98.6h0.8v0.8h-0.8zM512.9 65.6h0.8v0.8h-0.8zM548.3 88.0h0.8v0.8h-0.8zM522.3 54.1h0.8v0.8h-0.8zM531.1 122.9h0.8v0.8h-0.8zM518.1 110.1h0.8v0.8h-0.8zM508.3 97.4h0.8v0.8h-0.8zM502.7 134.9h0.8v0.8h-0.8zM531.2 70.3h0.8v0.8h-0.8zM519.3 116.2h0.8v0.8h-0.8zM522.0 102.0h0.8v0.8h-0.8zM534.3 78.9h0.8v0.8h-0.8zM523.0 118.0h0.8v0.8h-0.8zM524.1 124.1h0.8v0.8h-0.8z" fill="#7c7cb4" fill-opacity="0.26"/>
<path d="M600.6 43.3h0.8v0.8h-0.8zM642.0 74.3h0.8v0.8h-0.8zM641.4 130.7h0.8v0.8h-0.8zM571.1 76.0h0.8v0.8h-0.8zM639.4 122.1h0.8v0.8h-0.8zM602.0 55.9h0.8v0.8h-0.8zM576.8 81.8h0.8v0.8h-0.8zM609.2 118.4h0.8v0.8h-0.8zM646.9 123.0h0.8v0.8h-0.8zM615.6 103.4h0.8v0.8h-0.8zM621.3 46.2h0.8v0.8h-0.8zM564.4 105.3h0.8v0.8h-0.8zM603.0 143.9h0.8v0.8h-0.8zM583.2 81.7h0.8v0.8h-0.8zM585.2 118.5h0.8v0.8h-0.8zM640.2 52.0h0.8v0.8h-0.8zM598.6 121.7h0.8v0.8h-0.8zM633.9 132.3h0.8v0.8h-0.8zM576.5 126.5h0.8v0.8h-0.8zM605.1 146.4h0.8v0.8h-0.8zM579.6 140.7h0.8v0.8h-0.8zM651.6 113.0h0.8v0.8h-0.8zM577.0 81.6h0.8v0.8h-0.8zM596.8 145.8h0.8v0.8h-0.8zM577.2 89.7h0.8v0.8h-0.8zM596.9 103.8h0.8v0.8h-0.8zM632.8 43.7h0.8v0.8h-0.8zM583.3 49.9h0.8v0.8h-0.8zM609.3 117.7h0.8v0.8h-0.8zM638.6 127.1h0.8v0.8h-0.8zM576.2 159.1h0.8v0.8h-0.8zM561.6 63.3h0.8v0.8h-0.8zM623.0 117.4h0.8v0.8h-0.8zM599.0 121.7h0.8v0.8h-0.8zM605.2 77.6h0.8v0.8h-0.8zM591.4 91.5h0.8v0.8h-0.8zM570.8 125.7h0.8v0.8h-0.8zM576.9 109.6h0.8v0.8h-0.8zM652.7 137.6h0.8v0.8h-0.8zM641.8 62.3h0.8v0.8h-0.8zM640.5 41.5h0.8v0.8h-0.8zM582.6 73.0h0.8v0.8h-0.8zM627.8 157.8h0.8v0.8h-0.8zM581.3 99.8h0.8v0.8h-0.8zM588.7 126.9h0.8v0.8h-0.8z" fill="#7c7cb4" fill-opacity="0.25"/>
<rect x="490.6" y="140.0" width="2.6" height="39.0" fill="url(#g3)" fill-opacity="1.0"/>
<rect x="493.2" y="128.0" width="3.0" height="49.0" fill="url(#g3)" fill-opacity="0.9"/>
<rect x="496.2" y="123.0" width="2.6" height="47.0" fill="url(#g3)" fill-opacity="0.65"/>
<rect x="499.0" y="118.0" width="2.8" height="43.0" fill="url(#g3)" fill-opacity="0.42"/>
<rect x="501.9" y="114.0" width="3.0" height="42.0" fill="url(#g3)" fill-opacity="0.28"/>
<rect x="505.0" y="112.0" width="3.0" height="40.0" fill="url(#g3)" fill-opacity="0.16"/>
<path d="M489.1 191.9h0.8v0.8h-0.8zM490.5 175.9h0.8v0.8h-0.8zM493.1 188.0h0.8v0.8h-0.8zM492.9 191.3h0.8v0.8h-0.8zM491.3 181.5h0.8v0.8h-0.8zM493.0 182.9h0.8v0.8h-0.8zM490.2 185.5h0.8v0.8h-0.8zM491.2 188.8h0.8v0.8h-0.8zM493.4 189.4h0.8v0.8h-0.8zM489.3 184.2h0.8v0.8h-0.8z" fill="#7c7cb4" fill-opacity="0.3"/>
</g>
<g filter="url(#b)">
<rect x="671.8" y="127" width="4.3" height="38" fill="#a020f0" fill-opacity="1.0"/>
<path d="M671.8 127L676.1 127L676.1 125.7L671.8 125.7Z" fill="#a020f0" fill-opacity="0.286"/>
<path d="M671.8 127L676.1 127L676.1 124.4L671.8 124.4Z" fill="#a020f0" fill-opacity="0.216"/>
<path d="M671.8 127L676.1 127L676.1 123.1L671.8 123.1Z" fill="#a020f0" fill-opacity="0.172"/>
<path d="M671.8 127L676.1 127L676.1 121.8L671.8 121.8Z" fill="#a020f0" fill-opacity="0.141"/>
<path d="M671.8 127L676.1 127L676.1 120.5L671.8 120.5Z" fill="#a020f0" fill-opacity="0.118"/>
<path d="M671.8 127L676.1 127L676.1 119.2L671.8 119.2Z" fill="#a020f0" fill-opacity="0.099"/>
<path d="M671.8 127L676.1 127L676.1 117.9L671.8 117.9Z" fill="#a020f0" fill-opacity="0.083"/>
<path d="M671.8 127L676.1 127L676.1 116.6L671.8 116.6Z" fill="#a020f0" fill-opacity="0.069"/>
<path d="M671.8 127L676.1 127L676.1 115.3L671.8 115.3Z" fill="#a020f0" fill-opacity="0.052"/>
<path d="M671.8 127L676.1 127L676.1 114L671.8 114Z" fill="#a020f0" fill-opacity="0.016"/>
<path d="M671.8 165L676.1 165L676.1 165.9L671.8 165.9Z" fill="#a020f0" fill-opacity="0.122"/>
<path d="M671.8 165L676.1 165L676.1 166.8L671.8 166.8Z" fill="#a020f0" fill-opacity="0.109"/>
<path d="M671.8 165L676.1 165L676.1 167.7L671.8 167.7Z" fill="#a020f0" fill-opacity="0.098"/>
<path d="M671.8 165L676.1 165L676.1 168.6L671.8 168.6Z" fill="#a020f0" fill-opacity="0.09"/>
<path d="M671.8 165L676.1 165L676.1 169.5L671.8 169.5Z" fill="#a020f0" fill-opacity="0.082"/>
<path d="M671.8 165L676.1 165L676.1 170.4L671.8 170.4Z" fill="#a020f0" fill-opacity="0.076"/>
<path d="M671.8 165L676.1 165L676.1 171.3L671.8 171.3Z" fill="#a020f0" fill-opacity="0.071"/>
<path d="M671.8 165L676.1 165L676.1 172.2L671.8 172.2Z" fill="#a020f0" fill-opacity="0.066"/>
<path d="M671.8 165L676.1 165L676.1 173.1L671.8 173.1Z" fill="#a020f0" fill-opacity="0.062"/>
<path d="M671.8 165L676.1 165L676.1 174L671.8 174Z" fill="#a020f0" fill-opacity="0.03"/>
<path d="M673.7 116.2h0.8v0.8h-0.8zM673.0 113.5h0.8v0.8h-0.8zM674.9 127.7h0.8v0.8h-0.8zM672.4 172.7h0.8v0.8h-0.8zM672.9 160.3h0.8v0.8h-0.8zM674.7 156.7h0.8v0.8h-0.8zM672.0 127.9h0.8v0.8h-0.8zM675.5 139.9h0.8v0.8h-0.8zM673.0 147.2h0.8v0.8h-0.8zM671.8 162.0h0.8v0.8h-0.8zM675.2 179.7h0.8v0.8h-0.8zM673.1 160.6h0.8v0.8h-0.8zM676.0 172.3h0.8v0.8h-0.8zM673.8 178.9h0.8v0.8h-0.8zM674.2 151.9h0.8v0.8h-0.8zM674.3 125.9h0.8v0.8h-0.8zM673.4 147.8h0.8v0.8h-0.8zM675.3 151.7h0.8v0.8h-0.8zM673.2 180.0h0.8v0.8h-0.8zM672.0 125.2h0.8v0.8h-0.8zM673.2 180.6h0.8v0.8h-0.8zM673.8 140.6h0.8v0.8h-0.8zM675.5 129.0h0.8v0.8h-0.8zM675.4 118.2h0.8v0.8h-0.8z" fill="#a020f0" fill-opacity="0.35"/>
</g>
<text x="672.7" y="112.5" font-family="Liberation Serif" font-size="6.1" text-anchor="middle" fill="#1a1a1a" stroke="#1a1a1a" stroke-width="0.15" filter="url(#t)" text-rendering="geometricPrecision">NA</text>
<rect x="483.8" y="3.2" width="197.5" height="197.1" fill="none" stroke="#8c8c8c" stroke-width="1"/>
<path d="M491.2 200.3v3.4M547.7 200.3v3.4M604.2 200.3v3.4M660.7 200.3v3.4M483.8 31h-3.4M483.8 61.1h-3.4M483.8 91.2h-3.4M483.8 121.3h-3.4M483.8 151.4h-3.4M483.8 181.5h-3.4" stroke="#6a6a6a" stroke-width="1" fill="none"/>
<g filter="url(#t)" fill="#1a1a1a" stroke="#1a1a1a" stroke-width="0.1" text-rendering="geometricPrecision">
<text x="491.2" y="210.1" font-family="Liberation Sans" font-size="5.8" text-anchor="middle">0</text>
<text x="547.7" y="210.1" font-family="Liberation Sans" font-size="5.8" text-anchor="middle">50</text>
<text x="604.2" y="210.1" font-family="Liberation Sans" font-size="5.8" text-anchor="middle">100</text>
<text x="660.7" y="210.1" font-family="Liberation Sans" font-size="5.8" text-anchor="middle">150</text>
<text transform="translate(478.5 31.1) rotate(-90)" font-family="Liberation Sans" font-size="5.8" text-anchor="middle">0.8</text>
<text transform="translate(478.5 61.2) rotate(-90)" font-family="Liberation Sans" font-size="5.8" text-anchor="middle">0.6</text>
<text transform="translate(478.5 91.4) rotate(-90)" font-family="Liberation Sans" font-size="5.8" text-anchor="middle">0.4</text>
<text transform="translate(478.5 121.5) rotate(-90)" font-family="Liberation Sans" font-size="5.8" text-anchor="middle">0.2</text>
<text transform="translate(478.5 151.6) rotate(-90)" font-family="Liberation Sans" font-size="5.8" text-anchor="middle">0.0</text>
<text transform="translate(478.5 181.7) rotate(-90)" font-family="Liberation Sans" font-size="5.8" text-anchor="middle">-0.2</text>
<text x="582.6" y="218.7" font-family="Liberation Sans" font-size="6.7" text-anchor="middle">Max. previous hospital length of stay</text>
<text transform="translate(470 101.8) rotate(-90)" font-family="Liberation Sans" font-size="5.6" text-anchor="middle">SHAP</text>
</g>
<path d="M27.5 241.3V438.3M61.8 241.3V438.3M96.1 241.3V438.3M130.4 241.3V438.3M164.7 241.3V438.3M199 241.3V438.3M20.5 249.2H218M20.5 281.8H218M20.5 314.4H218M20.5 347H218M20.5 379.6H218M20.5 412.2H218" stroke="#f5f5f5" stroke-width="1.2" fill="none"/>
<g filter="url(#b)">
<path d="M121.9 356.0h0.8v0.8h-0.8zM69.4 342.5h0.8v0.8h-0.8zM76.7 355.0h0.8v0.8h-0.8zM140.6 335.9h0.8v0.8h-0.8zM166.2 271.4h0.8v0.8h-0.8zM126.3 307.2h0.8v0.8h-0.8zM80.6 334.6h0.8v0.8h-0.8zM130.2 292.6h0.8v0.8h-0.8zM79.2 333.5h0.8v0.8h-0.8zM91.9 342.5h0.8v0.8h-0.8zM165.3 277.1h0.8v0.8h-0.8zM118.0 351.5h0.8v0.8h-0.8zM127.6 349.6h0.8v0.8h-0.8zM158.2 314.1h0.8v0.8h-0.8zM111.3 339.7h0.8v0.8h-0.8zM65.4 332.1h0.8v0.8h-0.8zM106.0 355.0h0.8v0.8h-0.8zM70.4 333.4h0.8v0.8h-0.8zM139.0 294.0h0.8v0.8h-0.8zM175.9 301.9h0.8v0.8h-0.8zM129.2 347.0h0.8v0.8h-0.8zM76.1 342.4h0.8v0.8h-0.8zM160.2 336.7h0.8v0.8h-0.8zM99.2 356.4h0.8v0.8h-0.8zM155.6 290.6h0.8v0.8h-0.8zM96.0 341.5h0.8v0.8h-0.8zM66.6 348.7h0.8v0.8h-0.8zM121.3 301.4h0.8v0.8h-0.8zM173.5 296.8h0.8v0.8h-0.8zM146.4 358.4h0.8v0.8h-0.8zM101.1 339.4h0.8v0.8h-0.8zM155.1 291.8h0.8v0.8h-0.8zM102.5 354.0h0.8v0.8h-0.8zM147.9 292.5h0.8v0.8h-0.8zM119.3 323.4h0.8v0.8h-0.8zM91.9 330.5h0.8v0.8h-0.8zM165.4 355.2h0.8v0.8h-0.8zM173.1 287.1h0.8v0.8h-0.8zM164.4 296.8h0.8v0.8h-0.8zM81.0 342.6h0.8v0.8h-0.8zM116.3 321.2h0.8v0.8h-0.8zM138.1 314.1h0.8v0.8h-0.8zM153.1 317.7h0.8v0.8h-0.8zM106.5 352.4h0.8v0.8h-0.8zM107.2 331.2h0.8v0.8h-0.8zM113.3 355.2h0.8v0.8h-0.8zM63.0 349.1h0.8v0.8h-0.8zM123.6 332.9h0.8v0.8h-0.8zM75.3 344.7h0.8v0.8h-0.8zM173.5 290.9h0.8v0.8h-0.8zM88.4 359.9h0.8v0.8h-0.8zM160.0 301.9h0.8v0.8h-0.8zM145.8 316.0h0.8v0.8h-0.8zM131.5 335.0h0.8v0.8h-0.8zM119.0 330.0h0.8v0.8h-0.8zM100.3 346.1h0.8v0.8h-0.8zM70.9 339.9h0.8v0.8h-0.8zM154.1 335.5h0.8v0.8h-0.8zM151.6 283.9h0.8v0.8h-0.8zM136.2 344.3h0.8v0.8h-0.8zM138.6 321.7h0.8v0.8h-0.8zM89.7 354.7h0.8v0.8h-0.8zM134.8 313.6h0.8v0.8h-0.8zM144.7 323.8h0.8v0.8h-0.8zM159.0 328.1h0.8v0.8h-0.8zM145.1 290.1h0.8v0.8h-0.8zM169.8 320.6h0.8v0.8h-0.8zM156.4 325.2h0.8v0.8h-0.8zM116.4 323.3h0.8v0.8h-0.8zM67.2 358.1h0.8v0.8h-0.8zM141.3 343.3h0.8v0.8h-0.8zM113.2 310.0h0.8v0.8h-0.8zM41.6 355.2h0.8v0.8h-0.8zM88.2 353.4h0.8v0.8h-0.8zM145.7 311.2h0.8v0.8h-0.8zM133.9 345.6h0.8v0.8h-0.8zM112.8 361.5h0.8v0.8h-0.8zM113.1 331.5h0.8v0.8h-0.8zM66.0 346.5h0.8v0.8h-0.8zM43.2 345.1h0.8v0.8h-0.8zM146.0 293.5h0.8v0.8h-0.8zM87.5 355.1h0.8v0.8h-0.8zM76.4 332.2h0.8v0.8h-0.8zM166.4 292.4h0.8v0.8h-0.8zM148.2 293.7h0.8v0.8h-0.8zM64.1 331.6h0.8v0.8h-0.8zM158.2 277.9h0.8v0.8h-0.8zM148.8 355.7h0.8v0.8h-0.8zM81.5 340.7h0.8v0.8h-0.8zM82.5 351.9h0.8v0.8h-0.8z" fill="#6e6ea6" fill-opacity="0.2"/>
<path d="M177.1 337.3h0.8v0.8h-0.8zM172.3 356.3h0.8v0.8h-0.8zM174.7 306.1h0.8v0.8h-0.8zM153.7 348.3h0.8v0.8h-0.8zM141.8 319.0h0.8v0.8h-0.8zM154.8 337.4h0.8v0.8h-0.8zM156.9 353.8h0.8v0.8h-0.8zM141.3 340.1h0.8v0.8h-0.8zM176.3 342.4h0.8v0.8h-0.8zM165.7 295.8h0.8v0.8h-0.8zM159.7 283.9h0.8v0.8h-0.8zM142.5 359.7h0.8v0.8h-0.8zM177.5 306.7h0.8v0.8h-0.8zM167.9 326.9h0.8v0.8h-0.8zM178.0 315.3h0.8v0.8h-0.8zM177.5 342.1h0.8v0.8h-0.8zM175.3 308.9h0.8v0.8h-0.8zM154.2 309.1h0.8v0.8h-0.8zM172.7 323.2h0.8v0.8h-0.8zM166.1 286.7h0.8v0.8h-0.8zM147.1 350.0h0.8v0.8h-0.8zM150.0 289.3h0.8v0.8h-0.8zM157.8 315.8h0.8v0.8h-0.8zM169.8 331.4h0.8v0.8h-0.8zM176.6 332.4h0.8v0.8h-0.8zM175.2 297.4h0.8v0.8h-0.8zM151.9 305.3h0.8v0.8h-0.8zM152.9 355.6h0.8v0.8h-0.8zM141.5 324.2h0.8v0.8h-0.8zM172.1 350.9h0.8v0.8h-0.8zM131.9 329.6h0.8v0.8h-0.8zM122.2 328.9h0.8v0.8h-0.8zM167.0 286.8h0.8v0.8h-0.8zM172.4 330.7h0.8v0.8h-0.8zM149.8 296.1h0.8v0.8h-0.8zM156.6 287.3h0.8v0.8h-0.8zM150.9 323.2h0.8v0.8h-0.8zM131.0 358.8h0.8v0.8h-0.8zM171.4 355.0h0.8v0.8h-0.8zM167.1 296.4h0.8v0.8h-0.8zM168.6 288.2h0.8v0.8h-0.8zM175.5 312.4h0.8v0.8h-0.8zM164.8 308.6h0.8v0.8h-0.8zM146.3 324.5h0.8v0.8h-0.8zM149.9 315.0h0.8v0.8h-0.8zM150.2 342.9h0.8v0.8h-0.8zM169.4 308.2h0.8v0.8h-0.8zM148.0 320.0h0.8v0.8h-0.8zM154.7 348.8h0.8v0.8h-0.8zM155.1 323.2h0.8v0.8h-0.8zM170.7 289.5h0.8v0.8h-0.8zM158.8 342.8h0.8v0.8h-0.8zM141.0 335.4h0.8v0.8h-0.8zM147.7 289.7h0.8v0.8h-0.8zM151.3 314.5h0.8v0.8h-0.8zM150.3 320.7h0.8v0.8h-0.8zM149.4 290.4h0.8v0.8h-0.8zM168.3 297.4h0.8v0.8h-0.8zM137.8 303.6h0.8v0.8h-0.8zM155.3 308.3h0.8v0.8h-0.8zM164.5 341.9h0.8v0.8h-0.8zM148.3 337.4h0.8v0.8h-0.8zM178.2 294.6h0.8v0.8h-0.8zM140.1 339.3h0.8v0.8h-0.8zM178.4 319.4h0.8v0.8h-0.8zM174.7 327.4h0.8v0.8h-0.8zM159.2 319.8h0.8v0.8h-0.8zM174.6 338.0h0.8v0.8h-0.8zM169.5 305.8h0.8v0.8h-0.8zM166.0 352.3h0.8v0.8h-0.8zM149.3 329.6h0.8v0.8h-0.8zM153.2 345.6h0.8v0.8h-0.8zM160.6 339.5h0.8v0.8h-0.8zM154.2 352.1h0.8v0.8h-0.8zM166.5 291.2h0.8v0.8h-0.8zM134.7 336.2h0.8v0.8h-0.8zM171.1 322.9h0.8v0.8h-0.8zM175.0 337.6h0.8v0.8h-0.8zM165.1 287.5h0.8v0.8h-0.8zM132.0 319.9h0.8v0.8h-0.8zM155.4 346.0h0.8v0.8h-0.8zM159.0 325.3h0.8v0.8h-0.8zM163.1 334.6h0.8v0.8h-0.8zM168.1 305.3h0.8v0.8h-0.8zM167.7 335.0h0.8v0.8h-0.8zM176.1 316.9h0.8v0.8h-0.8zM167.5 337.4h0.8v0.8h-0.8zM165.8 289.5h0.8v0.8h-0.8zM151.9 291.9h0.8v0.8h-0.8zM163.6 308.5h0.8v0.8h-0.8zM145.6 329.5h0.8v0.8h-0.8zM129.3 320.5h0.8v0.8h-0.8zM162.1 350.0h0.8v0.8h-0.8zM135.1 311.0h0.8v0.8h-0.8zM141.0 347.4h0.8v0.8h-0.8zM173.6 319.1h0.8v0.8h-0.8zM145.0 312.5h0.8v0.8h-0.8zM173.4 308.3h0.8v0.8h-0.8zM148.7 304.1h0.8v0.8h-0.8zM147.3 325.3h0.8v0.8h-0.8zM163.1 330.9h0.8v0.8h-0.8zM173.9 339.4h0.8v0.8h-0.8zM154.7 300.6h0.8v0.8h-0.8zM138.8 306.0h0.8v0.8h-0.8zM134.9 321.2h0.8v0.8h-0.8zM168.8 300.5h0.8v0.8h-0.8zM146.2 310.8h0.8v0.8h-0.8zM144.5 347.4h0.8v0.8h-0.8zM134.7 336.7h0.8v0.8h-0.8zM176.2 326.2h0.8v0.8h-0.8zM154.7 286.6h0.8v0.8h-0.8zM174.8 323.4h0.8v0.8h-0.8zM135.0 354.4h0.8v0.8h-0.8zM152.2 291.8h0.8v0.8h-0.8zM146.4 333.8h0.8v0.8h-0.8zM126.8 325.0h0.8v0.8h-0.8zM170.3 293.5h0.8v0.8h-0.8zM175.9 299.8h0.8v0.8h-0.8zM166.6 285.1h0.8v0.8h-0.8zM135.1 359.0h0.8v0.8h-0.8zM157.1 289.1h0.8v0.8h-0.8zM163.8 359.3h0.8v0.8h-0.8zM147.5 299.0h0.8v0.8h-0.8zM171.8 293.5h0.8v0.8h-0.8zM154.8 353.5h0.8v0.8h-0.8zM174.6 305.3h0.8v0.8h-0.8zM171.5 292.9h0.8v0.8h-0.8zM133.3 311.3h0.8v0.8h-0.8zM173.3 302.3h0.8v0.8h-0.8zM170.0 312.2h0.8v0.8h-0.8zM153.2 344.2h0.8v0.8h-0.8zM148.7 351.6h0.8v0.8h-0.8zM139.4 325.0h0.8v0.8h-0.8zM143.1 360.3h0.8v0.8h-0.8zM145.3 299.5h0.8v0.8h-0.8zM158.5 357.0h0.8v0.8h-0.8zM174.4 343.7h0.8v0.8h-0.8zM119.1 337.0h0.8v0.8h-0.8zM160.5 336.8h0.8v0.8h-0.8zM133.3 324.4h0.8v0.8h-0.8zM151.6 319.9h0.8v0.8h-0.8zM170.3 340.1h0.8v0.8h-0.8zM165.1 285.2h0.8v0.8h-0.8zM156.5 358.9h0.8v0.8h-0.8zM134.7 307.5h0.8v0.8h-0.8zM133.2 320.0h0.8v0.8h-0.8zM174.9 323.7h0.8v0.8h-0.8zM153.8 355.6h0.8v0.8h-0.8zM170.4 320.6h0.8v0.8h-0.8zM166.0 302.4h0.8v0.8h-0.8zM144.4 291.8h0.8v0.8h-0.8zM177.0 306.4h0.8v0.8h-0.8zM159.6 317.7h0.8v0.8h-0.8zM144.1 326.1h0.8v0.8h-0.8zM140.3 322.3h0.8v0.8h-0.8zM166.7 336.7h0.8v0.8h-0.8zM158.3 344.9h0.8v0.8h-0.8zM154.2 312.3h0.8v0.8h-0.8zM173.1 350.3h0.8v0.8h-0.8zM175.8 290.8h0.8v0.8h-0.8zM156.1 324.2h0.8v0.8h-0.8zM175.5 343.5h0.8v0.8h-0.8zM146.9 316.2h0.8v0.8h-0.8zM138.9 307.8h0.8v0.8h-0.8zM153.4 290.9h0.8v0.8h-0.8zM156.0 326.2h0.8v0.8h-0.8zM134.4 322.7h0.8v0.8h-0.8zM154.1 303.6h0.8v0.8h-0.8zM175.5 338.8h0.8v0.8h-0.8zM147.5 329.9h0.8v0.8h-0.8zM162.0 300.3h0.8v0.8h-0.8zM130.1 321.0h0.8v0.8h-0.8zM172.1 321.9h0.8v0.8h-0.8zM135.2 312.8h0.8v0.8h-0.8zM159.2 326.8h0.8v0.8h-0.8zM175.3 289.5h0.8v0.8h-0.8zM170.7 327.0h0.8v0.8h-0.8zM143.9 360.9h0.8v0.8h-0.8zM160.6 336.0h0.8v0.8h-0.8zM164.4 307.1h0.8v0.8h-0.8zM159.8 332.4h0.8v0.8h-0.8zM159.8 343.6h0.8v0.8h-0.8zM156.0 327.8h0.8v0.8h-0.8zM145.7 302.3h0.8v0.8h-0.8zM178.8 332.5h0.8v0.8h-0.8zM159.3 296.2h0.8v0.8h-0.8zM158.9 353.0h0.8v0.8h-0.8zM155.2 347.0h0.8v0.8h-0.8zM161.3 349.6h0.8v0.8h-0.8zM170.2 307.4h0.8v0.8h-0.8zM123.2 337.5h0.8v0.8h-0.8zM173.2 337.6h0.8v0.8h-0.8zM152.5 330.5h0.8v0.8h-0.8zM146.0 354.3h0.8v0.8h-0.8zM161.2 284.1h0.8v0.8h-0.8zM143.7 303.7h0.8v0.8h-0.8zM169.0 344.7h0.8v0.8h-0.8zM157.5 359.6h0.8v0.8h-0.8zM154.8 340.7h0.8v0.8h-0.8zM149.8 346.7h0.8v0.8h-0.8zM168.4 341.4h0.8v0.8h-0.8zM153.7 310.0h0.8v0.8h-0.8zM164.6 335.4h0.8v0.8h-0.8zM132.6 324.9h0.8v0.8h-0.8zM158.8 353.9h0.8v0.8h-0.8zM162.8 341.0h0.8v0.8h-0.8zM168.1 328.9h0.8v0.8h-0.8zM136.5 349.2h0.8v0.8h-0.8zM166.3 349.9h0.8v0.8h-0.8zM162.3 285.8h0.8v0.8h-0.8zM147.7 357.2h0.8v0.8h-0.8zM168.2 305.4h0.8v0.8h-0.8zM171.6 329.1h0.8v0.8h-0.8zM171.6 290.0h0.8v0.8h-0.8zM155.1 319.4h0.8v0.8h-0.8zM167.9 335.5h0.8v0.8h-0.8zM162.0 297.8h0.8v0.8h-0.8zM134.3 310.3h0.8v0.8h-0.8zM122.6 331.2h0.8v0.8h-0.8zM169.0 345.9h0.8v0.8h-0.8zM153.1 351.3h0.8v0.8h-0.8zM169.3 350.8h0.8v0.8h-0.8zM171.1 299.3h0.8v0.8h-0.8zM148.7 344.4h0.8v0.8h-0.8zM171.5 319.4h0.8v0.8h-0.8zM178.7 341.5h0.8v0.8h-0.8zM157.2 285.2h0.8v0.8h-0.8zM147.6 359.3h0.8v0.8h-0.8zM149.8 326.6h0.8v0.8h-0.8zM158.8 360.2h0.8v0.8h-0.8zM120.8 341.9h0.8v0.8h-0.8zM132.3 307.5h0.8v0.8h-0.8zM166.6 337.6h0.8v0.8h-0.8zM153.4 323.7h0.8v0.8h-0.8zM173.6 329.5h0.8v0.8h-0.8zM135.3 303.1h0.8v0.8h-0.8zM175.9 326.5h0.8v0.8h-0.8zM163.3 283.3h0.8v0.8h-0.8zM178.3 312.3h0.8v0.8h-0.8zM132.8 319.2h0.8v0.8h-0.8zM161.3 308.5h0.8v0.8h-0.8zM141.7 343.3h0.8v0.8h-0.8zM140.1 351.2h0.8v0.8h-0.8zM162.4 338.6h0.8v0.8h-0.8zM159.6 351.2h0.8v0.8h-0.8zM141.5 336.6h0.8v0.8h-0.8zM159.2 281.2h0.8v0.8h-0.8zM143.7 342.3h0.8v0.8h-0.8zM168.9 317.3h0.8v0.8h-0.8zM167.3 354.5h0.8v0.8h-0.8zM158.7 347.6h0.8v0.8h-0.8zM169.4 286.3h0.8v0.8h-0.8zM170.4 310.9h0.8v0.8h-0.8zM144.8 292.3h0.8v0.8h-0.8zM162.8 284.0h0.8v0.8h-0.8zM158.4 330.1h0.8v0.8h-0.8zM146.3 302.2h0.8v0.8h-0.8zM176.2 332.6h0.8v0.8h-0.8zM169.8 294.6h0.8v0.8h-0.8zM133.1 322.7h0.8v0.8h-0.8z" fill="#6e6ea6" fill-opacity="0.22"/>
<rect x="95.9" y="326.0" width="1.3" height="72.0" fill="url(#g4)" fill-opacity="0.9"/>
<rect x="97.6" y="334.0" width="1.3" height="68.0" fill="url(#g4)" fill-opacity="0.9"/>
<rect x="99.3" y="350.0" width="1.3" height="62.0" fill="url(#g4)" fill-opacity="0.9"/>
<rect x="101.0" y="356.0" width="1.3" height="60.0" fill="url(#g4)" fill-opacity="0.9"/>
<rect x="102.8" y="374.4" width="1.3" height="52.6" fill="url(#g4)" fill-opacity="0.9"/>
<rect x="104.5" y="374.2" width="1.3" height="52.8" fill="url(#g4)" fill-opacity="0.9"/>
<rect x="106.2" y="373.9" width="1.3" height="53.1" fill="url(#g4)" fill-opacity="0.9"/>
<rect x="107.9" y="373.7" width="1.3" height="53.3" fill="url(#g4)" fill-opacity="0.9"/>
<rect x="109.6" y="373.4" width="1.3" height="53.6" fill="url(#g4)" fill-opacity="0.9"/>
<rect x="111.3" y="373.2" width="1.3" height="53.8" fill="url(#g4)" fill-opacity="0.9"/>
<rect x="113.0" y="372.9" width="1.3" height="54.1" fill="url(#g4)" fill-opacity="0.9"/>
<rect x="114.8" y="372.6" width="1.3" height="54.4" fill="url(#g4)" fill-opacity="0.9"/>
<rect x="117.4" y="338.0" width="1.3" height="62.0" fill="url(#g4)" fill-opacity="0.58"/>
<rect x="118.8" y="342.0" width="1.3" height="56.0" fill="url(#g4)" fill-opacity="0.58"/>
<rect x="120.5" y="359.9" width="1.3" height="39.0" fill="url(#g4)" fill-opacity="0.58"/>
<rect x="122.3" y="359.2" width="1.3" height="38.7" fill="url(#g4)" fill-opacity="0.58"/>
<rect x="124.0" y="358.5" width="1.3" height="38.4" fill="url(#g4)" fill-opacity="0.58"/>
<rect x="125.7" y="357.8" width="1.3" height="38.1" fill="url(#g4)" fill-opacity="0.58"/>
<rect x="127.4" y="357.1" width="1.3" height="37.8" fill="url(#g4)" fill-opacity="0.58"/>
<rect x="129.1" y="356.3" width="1.3" height="37.5" fill="url(#g4)" fill-opacity="0.58"/>
<rect x="130.8" y="355.6" width="1.3" height="37.3" fill="url(#g4)" fill-opacity="0.58"/>
<rect x="132.6" y="354.8" width="1.3" height="37.0" fill="url(#g4)" fill-opacity="0.58"/>
<rect x="134.3" y="353.5" width="1.3" height="37.3" fill="url(#g4)" fill-opacity="0.58"/>
<rect x="136.0" y="352.2" width="1.3" height="37.6" fill="url(#g4)" fill-opacity="0.58"/>
<rect x="137.7" y="350.9" width="1.3" height="37.9" fill="url(#g4)" fill-opacity="0.58"/>
<rect x="139.4" y="349.6" width="1.3" height="38.2" fill="url(#g4)" fill-opacity="0.58"/>
<rect x="141.1" y="348.3" width="1.3" height="38.5" fill="url(#g4)" fill-opacity="0.58"/>
<rect x="142.8" y="347.0" width="1.3" height="38.9" fill="url(#g4)" fill-opacity="0.58"/>
<rect x="144.6" y="345.7" width="1.3" height="39.2" fill="url(#g4)" fill-opacity="0.58"/>
<rect x="146.3" y="344.4" width="1.3" height="39.5" fill="url(#g4)" fill-opacity="0.58"/>
<rect x="148.0" y="343.0" width="1.3" height="39.8" fill="url(#g4)" fill-opacity="0.58"/>
<rect x="149.7" y="341.4" width="1.3" height="40.4" fill="url(#g4)" fill-opacity="0.58"/>
<rect x="151.4" y="338.7" width="1.3" height="42.1" fill="url(#g4)" fill-opacity="0.58"/>
<rect x="153.1" y="336.1" width="1.3" height="43.8" fill="url(#g4)" fill-opacity="0.58"/>
<rect x="154.9" y="333.4" width="1.3" height="45.5" fill="url(#g4)" fill-opacity="0.58"/>
<rect x="156.6" y="331.2" width="1.3" height="46.6" fill="url(#g4)" fill-opacity="0.58"/>
<rect x="158.3" y="332.9" width="1.3" height="43.8" fill="url(#g4)" fill-opacity="0.58"/>
<rect x="155.4" y="304.0" width="1.1" height="72.0" fill="url(#g4)" fill-opacity="0.4"/>
<rect x="160.9" y="330.0" width="1.1" height="42.0" fill="url(#g4)" fill-opacity="0.4"/>
<rect x="162.9" y="336.0" width="1.1" height="36.0" fill="url(#g4)" fill-opacity="0.4"/>
<rect x="165.4" y="338.0" width="1.1" height="30.0" fill="url(#g4)" fill-opacity="0.4"/>
<path d="M171.9 349.4h0.8v0.8h-0.8zM160.1 357.1h0.8v0.8h-0.8zM171.7 338.7h0.8v0.8h-0.8zM161.9 341.3h0.8v0.8h-0.8zM164.4 348.7h0.8v0.8h-0.8zM160.4 364.9h0.8v0.8h-0.8zM169.2 345.9h0.8v0.8h-0.8zM167.6 351.4h0.8v0.8h-0.8zM169.6 344.7h0.8v0.8h-0.8zM171.5 358.5h0.8v0.8h-0.8zM167.5 353.9h0.8v0.8h-0.8zM167.8 338.6h0.8v0.8h-0.8zM170.7 351.7h0.8v0.8h-0.8zM162.4 348.0h0.8v0.8h-0.8zM168.7 360.0h0.8v0.8h-0.8zM162.6 348.8h0.8v0.8h-0.8zM171.9 339.8h0.8v0.8h-0.8zM164.7 364.7h0.8v0.8h-0.8zM168.7 352.5h0.8v0.8h-0.8zM165.4 340.0h0.8v0.8h-0.8zM169.0 347.5h0.8v0.8h-0.8zM160.9 365.1h0.8v0.8h-0.8zM161.0 351.1h0.8v0.8h-0.8zM168.3 353.2h0.8v0.8h-0.8zM164.7 358.7h0.8v0.8h-0.8zM162.9 357.6h0.8v0.8h-0.8zM165.0 365.0h0.8v0.8h-0.8zM170.2 344.2h0.8v0.8h-0.8zM170.7 350.4h0.8v0.8h-0.8zM164.1 342.1h0.8v0.8h-0.8z" fill="#6e6ea6" fill-opacity="0.3"/>
<path d="M99.4 401.0h0.8v0.8h-0.8zM100.5 410.9h0.8v0.8h-0.8zM112.1 425.3h0.8v0.8h-0.8zM112.3 427.0h0.8v0.8h-0.8zM118.6 424.3h0.8v0.8h-0.8zM102.2 401.2h0.8v0.8h-0.8zM109.8 410.3h0.8v0.8h-0.8zM119.5 400.7h0.8v0.8h-0.8zM118.6 407.9h0.8v0.8h-0.8zM112.0 420.4h0.8v0.8h-0.8zM107.0 421.6h0.8v0.8h-0.8zM116.0 403.5h0.8v0.8h-0.8zM115.4 427.6h0.8v0.8h-0.8zM115.6 416.6h0.8v0.8h-0.8zM110.0 402.7h0.8v0.8h-0.8zM109.0 408.3h0.8v0.8h-0.8zM100.8 426.1h0.8v0.8h-0.8zM101.5 405.5h0.8v0.8h-0.8zM116.5 415.0h0.8v0.8h-0.8zM116.9 404.9h0.8v0.8h-0.8zM117.6 411.7h0.8v0.8h-0.8zM117.1 417.1h0.8v0.8h-0.8zM103.5 410.0h0.8v0.8h-0.8zM97.8 415.5h0.8v0.8h-0.8zM96.8 425.3h0.8v0.8h-0.8zM101.4 408.9h0.8v0.8h-0.8zM104.6 413.4h0.8v0.8h-0.8zM118.1 402.2h0.8v0.8h-0.8zM103.8 415.2h0.8v0.8h-0.8zM107.9 424.5h0.8v0.8h-0.8zM108.5 418.7h0.8v0.8h-0.8zM111.7 410.4h0.8v0.8h-0.8zM106.1 405.9h0.8v0.8h-0.8zM97.8 426.9h0.8v0.8h-0.8zM111.9 403.3h0.8v0.8h-0.8z" fill="#6e6ea6" fill-opacity="0.25"/>
</g>
<g filter="url(#b)">
<rect x="208.6" y="386.5" width="3.4" height="10.5" fill="#a020f0" fill-opacity="1.0"/>
<path d="M208.6 386.5L212 386.5L212 385.7L208.6 385.7Z" fill="#a020f0" fill-opacity="0.182"/>
<path d="M208.6 386.5L212 386.5L212 384.9L208.6 384.9Z" fill="#a020f0" fill-opacity="0.154"/>
<path d="M208.6 386.5L212 386.5L212 384.1L208.6 384.1Z" fill="#a020f0" fill-opacity="0.133"/>
<path d="M208.6 386.5L212 386.5L212 383.3L208.6 383.3Z" fill="#a020f0" fill-opacity="0.118"/>
<path d="M208.6 386.5L212 386.5L212 382.5L208.6 382.5Z" fill="#a020f0" fill-opacity="0.105"/>
<path d="M208.6 386.5L212 386.5L212 381.7L208.6 381.7Z" fill="#a020f0" fill-opacity="0.095"/>
<path d="M208.6 386.5L212 386.5L212 380.9L208.6 380.9Z" fill="#a020f0" fill-opacity="0.087"/>
<path d="M208.6 386.5L212 386.5L212 380.1L208.6 380.1Z" fill="#a020f0" fill-opacity="0.08"/>
<path d="M208.6 386.5L212 386.5L212 379.3L208.6 379.3Z" fill="#a020f0" fill-opacity="0.074"/>
<path d="M208.6 386.5L212 386.5L212 378.5L208.6 378.5Z" fill="#a020f0" fill-opacity="0.325"/>
<path d="M208.6 397L212 397L212 398.3L208.6 398.3Z" fill="#a020f0" fill-opacity="0.073"/>
<path d="M208.6 397L212 397L212 399.6L208.6 399.6Z" fill="#a020f0" fill-opacity="0.068"/>
<path d="M208.6 397L212 397L212 400.9L208.6 400.9Z" fill="#a020f0" fill-opacity="0.064"/>
<path d="M208.6 397L212 397L212 402.2L208.6 402.2Z" fill="#a020f0" fill-opacity="0.06"/>
<path d="M208.6 397L212 397L212 403.5L208.6 403.5Z" fill="#a020f0" fill-opacity="0.056"/>
<path d="M208.6 397L212 397L212 404.8L208.6 404.8Z" fill="#a020f0" fill-opacity="0.053"/>
<path d="M208.6 397L212 397L212 406.1L208.6 406.1Z" fill="#a020f0" fill-opacity="0.051"/>
<path d="M208.6 397L212 397L212 407.4L208.6 407.4Z" fill="#a020f0" fill-opacity="0.048"/>
<path d="M208.6 397L212 397L212 408.7L208.6 408.7Z" fill="#a020f0" fill-opacity="0.046"/>
<path d="M208.6 397L212 397L212 410L208.6 410Z" fill="#a020f0" fill-opacity="0.022"/>
<path d="M211.5 411.9h0.8v0.8h-0.8zM210.0 424.9h0.8v0.8h-0.8zM209.6 421.2h0.8v0.8h-0.8zM211.3 420.7h0.8v0.8h-0.8zM209.2 402.1h0.8v0.8h-0.8zM211.2 418.7h0.8v0.8h-0.8zM209.8 429.9h0.8v0.8h-0.8zM210.5 431.6h0.8v0.8h-0.8z" fill="#a020f0" fill-opacity="0.35"/>
</g>
<text x="211" y="375.8" font-family="Liberation Serif" font-size="6.1" text-anchor="middle" fill="#1a1a1a" stroke="#1a1a1a" stroke-width="0.15" filter="url(#t)" text-rendering="geometricPrecision">NA</text>
<rect x="20.5" y="241.3" width="197.5" height="197" fill="none" stroke="#8c8c8c" stroke-width="1"/>
<path d="M27.5 438.3v3.4M61.8 438.3v3.4M96.1 438.3v3.4M130.4 438.3v3.4M164.7 438.3v3.4M199 438.3v3.4M20.5 249.2h-3.4M20.5 281.8h-3.4M20.5 314.4h-3.4M20.5 347h-3.4M20.5 379.6h-3.4M20.5 412.2h-3.4" stroke="#6a6a6a" stroke-width="1" fill="none"/>
<g filter="url(#t)" fill="#1a1a1a" stroke="#1a1a1a" stroke-width="0.1" text-rendering="geometricPrecision">
<text x="27.5" y="448.1" font-family="Liberation Sans" font-size="5.8" text-anchor="middle">32</text>
<text x="61.8" y="448.1" font-family="Liberation Sans" font-size="5.8" text-anchor="middle">34</text>
<text x="96.1" y="448.1" font-family="Liberation Sans" font-size="5.8" text-anchor="middle">36</text>
<text x="130.4" y="448.1" font-family="Liberation Sans" font-size="5.8" text-anchor="middle">38</text>
<text x="164.7" y="448.1" font-family="Liberation Sans" font-size="5.8" text-anchor="middle">40</text>
<text x="199" y="448.1" font-family="Liberation Sans" font-size="5.8" text-anchor="middle">42</text>
<text transform="translate(15.1 249.3) rotate(-90)" font-family="Liberation Sans" font-size="5.8" text-anchor="middle">0.8</text>
<text transform="translate(15.1 281.9) rotate(-90)" font-family="Liberation Sans" font-size="5.8" text-anchor="middle">0.6</text>
<text transform="translate(15.1 314.5) rotate(-90)" font-family="Liberation Sans" font-size="5.8" text-anchor="middle">0.4</text>
<text transform="translate(15.1 347.1) rotate(-90)" font-family="Liberation Sans" font-size="5.8" text-anchor="middle">0.2</text>
<text transform="translate(15.1 379.8) rotate(-90)" font-family="Liberation Sans" font-size="5.8" text-anchor="middle">0.0</text>
<text transform="translate(15.1 412.3) rotate(-90)" font-family="Liberation Sans" font-size="5.8" text-anchor="middle">-0.2</text>
<text x="116.8" y="457.2" font-family="Liberation Sans" font-size="6.7" text-anchor="middle">Temperature (C)</text>
<text transform="translate(6.7 339.8) rotate(-90)" font-family="Liberation Sans" font-size="5.6" text-anchor="middle">SHAP</text>
</g>
<path d="M260.4 241.3V437.0M301 241.3V437.0M341.5 241.3V437.0M382.1 241.3V437.0M422.7 241.3V437.0M253.6 281.1H450.7M253.6 324.8H450.7M253.6 368.6H450.7M253.6 412.4H450.7" stroke="#f5f5f5" stroke-width="1.2" fill="none"/>
<g filter="url(#b)">
<path d="M388.6 335.6h0.8v0.8h-0.8zM318.1 367.2h0.8v0.8h-0.8zM328.7 379.1h0.8v0.8h-0.8zM353.7 420.4h0.8v0.8h-0.8zM386.6 332.2h0.8v0.8h-0.8zM356.8 413.0h0.8v0.8h-0.8zM340.4 351.1h0.8v0.8h-0.8zM360.5 388.8h0.8v0.8h-0.8zM307.5 353.2h0.8v0.8h-0.8zM324.7 334.2h0.8v0.8h-0.8zM310.0 341.7h0.8v0.8h-0.8zM377.4 408.2h0.8v0.8h-0.8zM354.8 351.5h0.8v0.8h-0.8zM385.1 346.4h0.8v0.8h-0.8zM385.9 348.6h0.8v0.8h-0.8zM309.0 351.3h0.8v0.8h-0.8zM377.4 407.2h0.8v0.8h-0.8zM354.9 373.0h0.8v0.8h-0.8zM339.6 353.9h0.8v0.8h-0.8zM384.5 358.9h0.8v0.8h-0.8zM333.8 350.9h0.8v0.8h-0.8zM385.0 387.2h0.8v0.8h-0.8zM303.4 354.7h0.8v0.8h-0.8zM349.1 349.7h0.8v0.8h-0.8zM369.2 367.0h0.8v0.8h-0.8zM319.5 374.5h0.8v0.8h-0.8zM387.8 342.1h0.8v0.8h-0.8zM315.9 378.2h0.8v0.8h-0.8zM361.2 370.5h0.8v0.8h-0.8zM349.1 400.2h0.8v0.8h-0.8zM320.0 348.1h0.8v0.8h-0.8zM346.1 394.7h0.8v0.8h-0.8zM311.0 345.3h0.8v0.8h-0.8zM383.7 379.6h0.8v0.8h-0.8zM352.7 362.7h0.8v0.8h-0.8zM329.4 357.0h0.8v0.8h-0.8zM343.0 353.2h0.8v0.8h-0.8zM345.2 402.6h0.8v0.8h-0.8zM369.2 389.2h0.8v0.8h-0.8zM357.4 389.1h0.8v0.8h-0.8zM321.1 359.8h0.8v0.8h-0.8zM364.2 379.1h0.8v0.8h-0.8zM301.4 368.0h0.8v0.8h-0.8zM337.3 401.3h0.8v0.8h-0.8zM351.3 384.8h0.8v0.8h-0.8zM355.3 416.8h0.8v0.8h-0.8zM357.4 377.8h0.8v0.8h-0.8zM363.6 400.0h0.8v0.8h-0.8zM326.2 329.9h0.8v0.8h-0.8zM327.7 383.5h0.8v0.8h-0.8zM319.5 354.7h0.8v0.8h-0.8zM341.9 353.6h0.8v0.8h-0.8zM358.3 415.6h0.8v0.8h-0.8zM348.3 401.3h0.8v0.8h-0.8zM301.4 361.5h0.8v0.8h-0.8zM344.1 384.3h0.8v0.8h-0.8zM360.6 361.6h0.8v0.8h-0.8zM303.4 361.5h0.8v0.8h-0.8zM329.2 393.9h0.8v0.8h-0.8zM334.6 323.7h0.8v0.8h-0.8zM335.1 320.9h0.8v0.8h-0.8zM352.9 415.1h0.8v0.8h-0.8zM359.9 417.8h0.8v0.8h-0.8zM350.8 375.8h0.8v0.8h-0.8zM328.3 366.6h0.8v0.8h-0.8zM348.6 411.6h0.8v0.8h-0.8zM306.5 372.2h0.8v0.8h-0.8zM326.5 359.6h0.8v0.8h-0.8zM355.0 405.4h0.8v0.8h-0.8zM352.7 409.1h0.8v0.8h-0.8zM320.3 379.1h0.8v0.8h-0.8zM321.4 373.0h0.8v0.8h-0.8zM382.9 371.3h0.8v0.8h-0.8zM315.3 375.1h0.8v0.8h-0.8zM306.5 347.2h0.8v0.8h-0.8zM368.8 373.5h0.8v0.8h-0.8zM372.5 399.7h0.8v0.8h-0.8zM384.8 362.8h0.8v0.8h-0.8zM338.2 387.9h0.8v0.8h-0.8zM350.9 402.0h0.8v0.8h-0.8zM388.4 344.0h0.8v0.8h-0.8zM330.4 365.9h0.8v0.8h-0.8zM359.5 395.1h0.8v0.8h-0.8zM337.5 332.2h0.8v0.8h-0.8zM336.4 330.7h0.8v0.8h-0.8zM345.2 413.6h0.8v0.8h-0.8zM365.7 375.6h0.8v0.8h-0.8zM334.5 351.2h0.8v0.8h-0.8zM300.8 363.1h0.8v0.8h-0.8zM347.5 369.9h0.8v0.8h-0.8zM364.9 364.8h0.8v0.8h-0.8zM342.5 336.6h0.8v0.8h-0.8zM336.4 342.0h0.8v0.8h-0.8zM338.7 386.0h0.8v0.8h-0.8zM343.2 341.6h0.8v0.8h-0.8zM375.0 409.9h0.8v0.8h-0.8zM318.2 336.7h0.8v0.8h-0.8zM346.0 369.0h0.8v0.8h-0.8zM346.6 361.8h0.8v0.8h-0.8zM333.5 368.2h0.8v0.8h-0.8zM330.2 391.3h0.8v0.8h-0.8zM338.2 349.1h0.8v0.8h-0.8zM359.1 404.4h0.8v0.8h-0.8zM370.3 411.6h0.8v0.8h-0.8zM383.3 375.0h0.8v0.8h-0.8zM338.7 330.7h0.8v0.8h-0.8zM326.6 336.8h0.8v0.8h-0.8zM374.3 379.2h0.8v0.8h-0.8zM338.0 357.2h0.8v0.8h-0.8zM326.8 337.9h0.8v0.8h-0.8zM370.1 377.0h0.8v0.8h-0.8zM340.7 396.8h0.8v0.8h-0.8zM381.5 361.4h0.8v0.8h-0.8zM358.6 358.3h0.8v0.8h-0.8zM335.8 333.5h0.8v0.8h-0.8zM368.6 409.3h0.8v0.8h-0.8zM340.9 336.9h0.8v0.8h-0.8zM336.8 388.6h0.8v0.8h-0.8zM327.9 347.4h0.8v0.8h-0.8zM357.3 412.5h0.8v0.8h-0.8zM340.5 398.1h0.8v0.8h-0.8zM369.9 363.4h0.8v0.8h-0.8zM388.0 356.6h0.8v0.8h-0.8zM311.9 373.1h0.8v0.8h-0.8zM356.8 367.6h0.8v0.8h-0.8zM306.7 356.7h0.8v0.8h-0.8zM343.5 349.0h0.8v0.8h-0.8zM342.9 388.7h0.8v0.8h-0.8zM356.4 375.2h0.8v0.8h-0.8zM334.1 343.3h0.8v0.8h-0.8zM363.1 367.9h0.8v0.8h-0.8zM378.8 402.3h0.8v0.8h-0.8zM306.4 365.3h0.8v0.8h-0.8zM377.9 374.0h0.8v0.8h-0.8zM371.8 398.8h0.8v0.8h-0.8zM350.6 361.3h0.8v0.8h-0.8zM351.2 411.9h0.8v0.8h-0.8zM332.3 336.5h0.8v0.8h-0.8zM304.8 360.0h0.8v0.8h-0.8zM320.8 354.0h0.8v0.8h-0.8zM336.9 335.4h0.8v0.8h-0.8zM353.6 368.5h0.8v0.8h-0.8zM306.7 366.8h0.8v0.8h-0.8zM326.3 344.5h0.8v0.8h-0.8zM344.1 410.8h0.8v0.8h-0.8zM345.9 349.8h0.8v0.8h-0.8zM383.2 343.6h0.8v0.8h-0.8zM352.9 352.8h0.8v0.8h-0.8zM329.5 351.7h0.8v0.8h-0.8zM301.6 352.9h0.8v0.8h-0.8z" fill="#7a7ab8" fill-opacity="0.28"/>
<path d="M397.4 304.7h0.8v0.8h-0.8zM384.9 334.8h0.8v0.8h-0.8zM393.5 323.1h0.8v0.8h-0.8zM396.3 322.0h0.8v0.8h-0.8zM390.2 347.2h0.8v0.8h-0.8zM396.2 281.2h0.8v0.8h-0.8zM389.0 338.0h0.8v0.8h-0.8zM388.8 350.2h0.8v0.8h-0.8zM394.3 319.4h0.8v0.8h-0.8zM386.5 364.6h0.8v0.8h-0.8zM386.1 337.7h0.8v0.8h-0.8zM393.8 343.9h0.8v0.8h-0.8zM384.3 361.1h0.8v0.8h-0.8zM386.8 367.2h0.8v0.8h-0.8zM401.4 274.3h0.8v0.8h-0.8zM387.1 337.1h0.8v0.8h-0.8zM383.0 332.3h0.8v0.8h-0.8zM395.2 319.6h0.8v0.8h-0.8zM383.9 363.9h0.8v0.8h-0.8zM381.9 348.1h0.8v0.8h-0.8zM395.9 338.0h0.8v0.8h-0.8zM397.0 280.2h0.8v0.8h-0.8zM384.8 327.9h0.8v0.8h-0.8zM386.6 341.4h0.8v0.8h-0.8zM384.5 367.5h0.8v0.8h-0.8zM400.4 302.4h0.8v0.8h-0.8zM387.9 311.1h0.8v0.8h-0.8zM391.8 358.7h0.8v0.8h-0.8zM399.1 308.0h0.8v0.8h-0.8zM390.6 338.1h0.8v0.8h-0.8zM388.1 365.4h0.8v0.8h-0.8zM388.3 366.1h0.8v0.8h-0.8zM392.6 317.1h0.8v0.8h-0.8zM395.2 328.0h0.8v0.8h-0.8zM404.5 273.6h0.8v0.8h-0.8zM391.9 322.8h0.8v0.8h-0.8zM406.7 260.0h0.8v0.8h-0.8zM386.0 371.1h0.8v0.8h-0.8zM394.6 294.9h0.8v0.8h-0.8zM399.1 291.2h0.8v0.8h-0.8zM389.9 329.3h0.8v0.8h-0.8zM381.6 354.5h0.8v0.8h-0.8zM389.2 327.3h0.8v0.8h-0.8zM394.7 294.0h0.8v0.8h-0.8zM385.1 369.1h0.8v0.8h-0.8zM387.1 371.6h0.8v0.8h-0.8zM401.7 286.8h0.8v0.8h-0.8zM384.0 345.3h0.8v0.8h-0.8zM383.4 352.2h0.8v0.8h-0.8zM396.1 288.7h0.8v0.8h-0.8zM395.8 336.7h0.8v0.8h-0.8zM386.0 335.5h0.8v0.8h-0.8zM401.3 281.9h0.8v0.8h-0.8zM386.2 352.7h0.8v0.8h-0.8zM385.1 341.9h0.8v0.8h-0.8zM392.2 347.5h0.8v0.8h-0.8zM401.0 303.2h0.8v0.8h-0.8zM398.6 283.7h0.8v0.8h-0.8zM384.8 327.1h0.8v0.8h-0.8zM381.5 360.2h0.8v0.8h-0.8zM396.9 299.2h0.8v0.8h-0.8zM383.1 361.4h0.8v0.8h-0.8zM391.1 360.4h0.8v0.8h-0.8zM393.9 328.1h0.8v0.8h-0.8zM396.8 309.0h0.8v0.8h-0.8zM384.8 366.4h0.8v0.8h-0.8zM383.9 358.2h0.8v0.8h-0.8zM404.0 273.9h0.8v0.8h-0.8zM397.3 331.0h0.8v0.8h-0.8zM400.5 305.6h0.8v0.8h-0.8zM387.0 352.3h0.8v0.8h-0.8zM395.7 287.0h0.8v0.8h-0.8zM388.9 345.4h0.8v0.8h-0.8zM384.1 331.5h0.8v0.8h-0.8zM390.8 313.7h0.8v0.8h-0.8zM384.2 351.9h0.8v0.8h-0.8zM389.9 333.3h0.8v0.8h-0.8zM388.2 338.3h0.8v0.8h-0.8zM401.9 283.3h0.8v0.8h-0.8zM383.3 334.3h0.8v0.8h-0.8zM397.3 311.6h0.8v0.8h-0.8zM397.5 287.0h0.8v0.8h-0.8zM398.2 320.8h0.8v0.8h-0.8zM390.0 362.7h0.8v0.8h-0.8zM394.4 327.6h0.8v0.8h-0.8zM390.1 344.6h0.8v0.8h-0.8zM401.0 311.5h0.8v0.8h-0.8zM389.6 320.1h0.8v0.8h-0.8zM382.7 363.7h0.8v0.8h-0.8zM387.5 343.2h0.8v0.8h-0.8zM387.1 365.7h0.8v0.8h-0.8zM399.7 283.0h0.8v0.8h-0.8zM388.1 362.3h0.8v0.8h-0.8zM393.9 331.2h0.8v0.8h-0.8zM387.1 367.7h0.8v0.8h-0.8zM391.4 351.4h0.8v0.8h-0.8zM392.0 301.1h0.8v0.8h-0.8zM400.5 297.5h0.8v0.8h-0.8zM391.7 336.2h0.8v0.8h-0.8zM406.5 266.5h0.8v0.8h-0.8zM392.5 346.4h0.8v0.8h-0.8zM397.8 324.2h0.8v0.8h-0.8zM397.2 289.7h0.8v0.8h-0.8zM384.4 325.8h0.8v0.8h-0.8zM383.6 370.0h0.8v0.8h-0.8zM397.2 329.7h0.8v0.8h-0.8zM402.9 279.9h0.8v0.8h-0.8zM388.4 335.3h0.8v0.8h-0.8zM382.9 367.2h0.8v0.8h-0.8zM382.2 345.8h0.8v0.8h-0.8z" fill="#7a7ab8" fill-opacity="0.26"/>
<linearGradient id="c5" gradientUnits="userSpaceOnUse" x1="0" y1="372" x2="0" y2="262"><stop offset="0" stop-color="#7a7ab8" stop-opacity="0.14"/><stop offset="1" stop-color="#7a7ab8" stop-opacity="0"/></linearGradient>
<path d="M380 374L392 374L398 330L407 262L399 262L388 310L382 340Z" fill="url(#c5)" filter="url(#bb)"/>
<path d="M343.4 346.0h0.8v0.8h-0.8zM321.0 345.0h0.8v0.8h-0.8zM316.1 347.2h0.8v0.8h-0.8zM316.6 343.5h0.8v0.8h-0.8zM325.3 353.5h0.8v0.8h-0.8zM318.4 342.5h0.8v0.8h-0.8zM343.4 341.1h0.8v0.8h-0.8zM318.8 345.0h0.8v0.8h-0.8zM326.5 341.8h0.8v0.8h-0.8zM313.6 345.6h0.8v0.8h-0.8zM331.6 338.1h0.8v0.8h-0.8zM334.9 347.1h0.8v0.8h-0.8zM340.0 325.3h0.8v0.8h-0.8zM336.1 346.5h0.8v0.8h-0.8zM330.1 352.3h0.8v0.8h-0.8zM336.0 337.2h0.8v0.8h-0.8zM306.5 346.8h0.8v0.8h-0.8zM336.5 339.5h0.8v0.8h-0.8zM329.0 338.9h0.8v0.8h-0.8zM341.2 333.4h0.8v0.8h-0.8zM315.7 349.8h0.8v0.8h-0.8zM338.7 348.9h0.8v0.8h-0.8zM311.1 343.7h0.8v0.8h-0.8zM330.9 343.3h0.8v0.8h-0.8zM317.5 341.2h0.8v0.8h-0.8zM340.9 347.4h0.8v0.8h-0.8zM341.0 326.9h0.8v0.8h-0.8zM316.3 351.7h0.8v0.8h-0.8zM318.0 347.1h0.8v0.8h-0.8zM334.7 351.0h0.8v0.8h-0.8zM341.2 342.6h0.8v0.8h-0.8zM342.4 345.4h0.8v0.8h-0.8zM314.9 350.7h0.8v0.8h-0.8zM340.2 325.9h0.8v0.8h-0.8zM327.6 339.1h0.8v0.8h-0.8zM321.7 352.8h0.8v0.8h-0.8zM326.9 351.4h0.8v0.8h-0.8zM319.5 344.2h0.8v0.8h-0.8zM316.2 355.0h0.8v0.8h-0.8zM327.4 347.1h0.8v0.8h-0.8zM312.6 350.1h0.8v0.8h-0.8zM323.1 352.7h0.8v0.8h-0.8zM328.5 348.9h0.8v0.8h-0.8zM309.5 343.6h0.8v0.8h-0.8zM307.6 350.6h0.8v0.8h-0.8zM336.2 347.1h0.8v0.8h-0.8zM333.1 341.0h0.8v0.8h-0.8zM341.9 350.4h0.8v0.8h-0.8zM319.0 353.1h0.8v0.8h-0.8zM329.4 344.7h0.8v0.8h-0.8zM338.9 337.9h0.8v0.8h-0.8zM321.2 343.3h0.8v0.8h-0.8zM309.0 347.9h0.8v0.8h-0.8zM340.2 325.4h0.8v0.8h-0.8zM336.2 341.8h0.8v0.8h-0.8zM336.4 346.0h0.8v0.8h-0.8zM334.8 339.0h0.8v0.8h-0.8zM343.2 346.6h0.8v0.8h-0.8zM325.5 342.0h0.8v0.8h-0.8zM331.7 349.9h0.8v0.8h-0.8zM321.7 340.1h0.8v0.8h-0.8zM338.5 326.2h0.8v0.8h-0.8zM323.0 346.0h0.8v0.8h-0.8zM334.6 348.8h0.8v0.8h-0.8zM336.7 337.3h0.8v0.8h-0.8zM332.1 349.3h0.8v0.8h-0.8zM344.2 349.7h0.8v0.8h-0.8zM343.4 346.4h0.8v0.8h-0.8zM327.9 341.4h0.8v0.8h-0.8zM323.9 350.4h0.8v0.8h-0.8z" fill="#7a7ab8" fill-opacity="0.35"/>
<path d="M306 356L311 353L319 350.4L336 350.4L337.5 342L338.7 335L338.7 364.9L337.5 364.2L336 363.5L319 363L311 361L306 359Z" fill="#7a7ab8" fill-opacity="0.75"/>
<path d="M338.7 335L340 342L342 351L344 354L350 360L356 373L372 376L375 374.7L380 366L382 362L382 386L380 390L375 395L372 403L356 400L350 389.7L344 377.7L339 365L338.7 364.9Z" fill="#7a7ab8" fill-opacity="0.88"/>
<path d="M320.6 351.7h0.8v0.8h-0.8zM343.5 343.1h0.8v0.8h-0.8zM335.7 330.2h0.8v0.8h-0.8zM332.6 340.3h0.8v0.8h-0.8zM326.5 348.0h0.8v0.8h-0.8zM338.7 323.2h0.8v0.8h-0.8zM312.9 352.4h0.8v0.8h-0.8zM312.0 348.0h0.8v0.8h-0.8zM322.5 336.4h0.8v0.8h-0.8zM334.7 346.2h0.8v0.8h-0.8zM335.4 337.8h0.8v0.8h-0.8zM340.8 347.1h0.8v0.8h-0.8zM324.0 342.2h0.8v0.8h-0.8zM322.6 353.8h0.8v0.8h-0.8zM339.3 348.2h0.8v0.8h-0.8zM306.9 346.7h0.8v0.8h-0.8zM339.3 335.7h0.8v0.8h-0.8zM316.9 343.8h0.8v0.8h-0.8zM338.9 322.6h0.8v0.8h-0.8zM340.2 325.2h0.8v0.8h-0.8zM339.4 330.7h0.8v0.8h-0.8zM334.8 342.0h0.8v0.8h-0.8zM325.5 349.6h0.8v0.8h-0.8zM326.8 343.3h0.8v0.8h-0.8zM313.6 350.4h0.8v0.8h-0.8zM327.1 340.9h0.8v0.8h-0.8zM341.4 334.8h0.8v0.8h-0.8zM310.1 344.9h0.8v0.8h-0.8zM309.3 344.9h0.8v0.8h-0.8zM327.9 352.6h0.8v0.8h-0.8zM336.4 333.2h0.8v0.8h-0.8zM323.6 340.9h0.8v0.8h-0.8zM343.1 340.1h0.8v0.8h-0.8zM325.3 340.6h0.8v0.8h-0.8zM309.3 354.7h0.8v0.8h-0.8zM318.4 352.8h0.8v0.8h-0.8zM309.7 349.5h0.8v0.8h-0.8zM314.1 341.2h0.8v0.8h-0.8zM333.3 351.7h0.8v0.8h-0.8zM318.4 340.1h0.8v0.8h-0.8zM338.8 325.2h0.8v0.8h-0.8zM338.6 326.9h0.8v0.8h-0.8zM314.0 345.1h0.8v0.8h-0.8zM322.6 350.0h0.8v0.8h-0.8zM308.9 353.7h0.8v0.8h-0.8zM334.2 346.2h0.8v0.8h-0.8zM326.9 352.6h0.8v0.8h-0.8zM314.0 347.6h0.8v0.8h-0.8zM335.8 336.6h0.8v0.8h-0.8zM330.7 346.4h0.8v0.8h-0.8zM329.3 350.0h0.8v0.8h-0.8zM302.6 349.6h0.8v0.8h-0.8zM337.0 328.9h0.8v0.8h-0.8zM322.2 346.6h0.8v0.8h-0.8zM323.6 339.2h0.8v0.8h-0.8zM334.2 331.5h0.8v0.8h-0.8zM307.8 346.9h0.8v0.8h-0.8zM330.2 345.8h0.8v0.8h-0.8zM332.9 346.4h0.8v0.8h-0.8zM314.7 352.7h0.8v0.8h-0.8zM342.6 343.6h0.8v0.8h-0.8zM335.4 333.4h0.8v0.8h-0.8zM340.1 346.2h0.8v0.8h-0.8zM313.4 354.6h0.8v0.8h-0.8zM340.0 340.3h0.8v0.8h-0.8zM326.2 345.1h0.8v0.8h-0.8zM326.5 339.3h0.8v0.8h-0.8zM330.8 340.2h0.8v0.8h-0.8zM336.4 337.7h0.8v0.8h-0.8zM320.6 344.3h0.8v0.8h-0.8zM334.4 346.3h0.8v0.8h-0.8zM316.0 349.4h0.8v0.8h-0.8zM315.4 352.3h0.8v0.8h-0.8zM312.7 345.6h0.8v0.8h-0.8zM328.5 342.2h0.8v0.8h-0.8zM318.9 341.6h0.8v0.8h-0.8zM338.5 334.4h0.8v0.8h-0.8zM335.7 339.8h0.8v0.8h-0.8zM322.7 351.2h0.8v0.8h-0.8zM323.7 351.2h0.8v0.8h-0.8z" fill="#7a7ab8" fill-opacity="0.3"/>
<path d="M340.7 311.0h0.8v0.8h-0.8zM338.6 315.8h0.8v0.8h-0.8zM338.6 307.3h0.8v0.8h-0.8zM341.4 321.1h0.8v0.8h-0.8zM341.2 324.4h0.8v0.8h-0.8zM336.9 313.7h0.8v0.8h-0.8zM340.6 327.5h0.8v0.8h-0.8zM339.7 328.4h0.8v0.8h-0.8zM336.3 328.9h0.8v0.8h-0.8zM338.1 329.4h0.8v0.8h-0.8zM340.7 318.8h0.8v0.8h-0.8zM339.7 317.3h0.8v0.8h-0.8zM336.5 322.2h0.8v0.8h-0.8zM339.7 307.0h0.8v0.8h-0.8zM338.9 312.2h0.8v0.8h-0.8zM338.4 322.7h0.8v0.8h-0.8zM337.6 315.1h0.8v0.8h-0.8zM340.8 333.8h0.8v0.8h-0.8z" fill="#7a7ab8" fill-opacity="0.3"/>
<path d="M417.5 276.2h0.8v0.8h-0.8zM414.8 282.1h0.8v0.8h-0.8zM420.6 268.1h0.8v0.8h-0.8zM417.2 290.0h0.8v0.8h-0.8zM413.5 281.9h0.8v0.8h-0.8zM431.4 269.0h0.8v0.8h-0.8zM430.7 274.7h0.8v0.8h-0.8zM418.8 274.0h0.8v0.8h-0.8zM412.8 277.6h0.8v0.8h-0.8zM422.7 280.8h0.8v0.8h-0.8z" fill="#7a7ab8" fill-opacity="0.25"/>
<path d="M267.4 339.7h0.8v0.8h-0.8zM268.8 297.3h0.8v0.8h-0.8zM268.5 353.6h0.8v0.8h-0.8zM269.8 352.4h0.8v0.8h-0.8zM268.2 300.1h0.8v0.8h-0.8zM267.2 305.7h0.8v0.8h-0.8zM270.6 294.7h0.8v0.8h-0.8zM269.7 294.3h0.8v0.8h-0.8zM267.0 355.1h0.8v0.8h-0.8zM270.0 350.0h0.8v0.8h-0.8zM268.1 301.1h0.8v0.8h-0.8zM270.3 342.4h0.8v0.8h-0.8zM268.0 338.3h0.8v0.8h-0.8zM269.5 294.9h0.8v0.8h-0.8z" fill="#7a7ab8" fill-opacity="0.25"/>
<path d="M295.7 340.9h0.8v0.8h-0.8zM292.4 343.6h0.8v0.8h-0.8zM290.9 352.3h0.8v0.8h-0.8zM287.3 343.0h0.8v0.8h-0.8zM290.3 343.8h0.8v0.8h-0.8zM292.6 353.3h0.8v0.8h-0.8zM294.2 349.4h0.8v0.8h-0.8zM291.4 349.9h0.8v0.8h-0.8z" fill="#7a7ab8" fill-opacity="0.25"/>
<path d="M306 356L311 353L319 350.4L336 350.4L337.5 342L338.7 335L340 342L342 351L344 354L350 360L356 373L372 376L375 374.7L380 366L382 362L382 361.3L380 365.3L375 374L372 375.3L356 372.3L350 359.3L344 353.3L342 350.3L340 341.3L338.7 334.3L337.5 341.3L336 349.7L319 349.7L311 352.3L306 355.3Z" fill="#7a7ab8" fill-opacity="0.05"/>
<path d="M306 356L311 353L319 350.4L336 350.4L337.5 342L338.7 335L340 342L342 351L344 354L350 360L356 373L372 376L375 374.7L380 366L382 362L382 360.6L380 364.6L375 373.3L372 374.6L356 371.6L350 358.6L344 352.6L342 349.6L340 340.6L338.7 333.6L337.5 340.6L336 349L319 349L311 351.6L306 354.6Z" fill="#7a7ab8" fill-opacity="0.047"/>
<path d="M306 356L311 353L319 350.4L336 350.4L337.5 342L338.7 335L340 342L342 351L344 354L350 360L356 373L372 376L375 374.7L380 366L382 362L382 359.9L380 363.9L375 372.6L372 373.9L356 370.9L350 357.9L344 351.9L342 348.9L340 339.9L338.7 332.9L337.5 339.9L336 348.3L319 348.3L311 350.9L306 353.9Z" fill="#7a7ab8" fill-opacity="0.045"/>
<path d="M306 356L311 353L319 350.4L336 350.4L337.5 342L338.7 335L340 342L342 351L344 354L350 360L356 373L372 376L375 374.7L380 366L382 362L382 359.2L380 363.2L375 371.9L372 373.2L356 370.2L350 357.2L344 351.2L342 348.2L340 339.2L338.7 332.2L337.5 339.2L336 347.6L319 347.6L311 350.2L306 353.2Z" fill="#7a7ab8" fill-opacity="0.043"/>
<path d="M306 356L311 353L319 350.4L336 350.4L337.5 342L338.7 335L340 342L342 351L344 354L350 360L356 373L372 376L375 374.7L380 366L382 362L382 358.5L380 362.5L375 371.2L372 372.5L356 369.5L350 356.5L344 350.5L342 347.5L340 338.5L338.7 331.5L337.5 338.5L336 346.9L319 346.9L311 349.5L306 352.5Z" fill="#7a7ab8" fill-opacity="0.042"/>
<path d="M306 356L311 353L319 350.4L336 350.4L337.5 342L338.7 335L340 342L342 351L344 354L350 360L356 373L372 376L375 374.7L380 366L382 362L382 357.8L380 361.8L375 370.5L372 371.8L356 368.8L350 355.8L344 349.8L342 346.8L340 337.8L338.7 330.8L337.5 337.8L336 346.2L319 346.2L311 348.8L306 351.8Z" fill="#7a7ab8" fill-opacity="0.04"/>
<path d="M306 356L311 353L319 350.4L336 350.4L337.5 342L338.7 335L340 342L342 351L344 354L350 360L356 373L372 376L375 374.7L380 366L382 362L382 357.1L380 361.1L375 369.8L372 371.1L356 368.1L350 355.1L344 349.1L342 346.1L340 337.1L338.7 330.1L337.5 337.1L336 345.5L319 345.5L311 348.1L306 351.1Z" fill="#7a7ab8" fill-opacity="0.038"/>
<path d="M306 356L311 353L319 350.4L336 350.4L337.5 342L338.7 335L340 342L342 351L344 354L350 360L356 373L372 376L375 374.7L380 366L382 362L382 356.4L380 360.4L375 369.1L372 370.4L356 367.4L350 354.4L344 348.4L342 345.4L340 336.4L338.7 329.4L337.5 336.4L336 344.8L319 344.8L311 347.4L306 350.4Z" fill="#7a7ab8" fill-opacity="0.037"/>
<path d="M306 356L311 353L319 350.4L336 350.4L337.5 342L338.7 335L340 342L342 351L344 354L350 360L356 373L372 376L375 374.7L380 366L382 362L382 355.7L380 359.7L375 368.4L372 369.7L356 366.7L350 353.7L344 347.7L342 344.7L340 335.7L338.7 328.7L337.5 335.7L336 344.1L319 344.1L311 346.7L306 349.7Z" fill="#7a7ab8" fill-opacity="0.036"/>
<path d="M306 356L311 353L319 350.4L336 350.4L337.5 342L338.7 335L340 342L342 351L344 354L350 360L356 373L372 376L375 374.7L380 366L382 362L382 355L380 359L375 367.7L372 369L356 366L350 353L344 347L342 344L340 335L338.7 328L337.5 335L336 343.4L319 343.4L311 346L306 349Z" fill="#7a7ab8" fill-opacity="0.018"/>
<path d="M306 359L311 361L319 363L336 363.5L339 365L344 377.7L350 389.7L356 400L372 403L375 395L380 390L382 386L382 387.2L380 391.2L375 396.2L372 404.2L356 401.2L350 390.9L344 378.9L339 366.2L336 364.7L319 364.2L311 362.2L306 360.2Z" fill="#7a7ab8" fill-opacity="0.077"/>
<path d="M306 359L311 361L319 363L336 363.5L339 365L344 377.7L350 389.7L356 400L372 403L375 395L380 390L382 386L382 388.4L380 392.4L375 397.4L372 405.4L356 402.4L350 392.1L344 380.1L339 367.4L336 365.9L319 365.4L311 363.4L306 361.4Z" fill="#7a7ab8" fill-opacity="0.071"/>
<path d="M306 359L311 361L319 363L336 363.5L339 365L344 377.7L350 389.7L356 400L372 403L375 395L380 390L382 386L382 389.6L380 393.6L375 398.6L372 406.6L356 403.6L350 393.3L344 381.3L339 368.6L336 367.1L319 366.6L311 364.6L306 362.6Z" fill="#7a7ab8" fill-opacity="0.066"/>
<path d="M306 359L311 361L319 363L336 363.5L339 365L344 377.7L350 389.7L356 400L372 403L375 395L380 390L382 386L382 390.8L380 394.8L375 399.8L372 407.8L356 404.8L350 394.5L344 382.5L339 369.8L336 368.3L319 367.8L311 365.8L306 363.8Z" fill="#7a7ab8" fill-opacity="0.062"/>
<path d="M306 359L311 361L319 363L336 363.5L339 365L344 377.7L350 389.7L356 400L372 403L375 395L380 390L382 386L382 392L380 396L375 401L372 409L356 406L350 395.7L344 383.7L339 371L336 369.5L319 369L311 367L306 365Z" fill="#7a7ab8" fill-opacity="0.059"/>
<path d="M306 359L311 361L319 363L336 363.5L339 365L344 377.7L350 389.7L356 400L372 403L375 395L380 390L382 386L382 393.2L380 397.2L375 402.2L372 410.2L356 407.2L350 396.9L344 384.9L339 372.2L336 370.7L319 370.2L311 368.2L306 366.2Z" fill="#7a7ab8" fill-opacity="0.055"/>
<path d="M306 359L311 361L319 363L336 363.5L339 365L344 377.7L350 389.7L356 400L372 403L375 395L380 390L382 386L382 394.4L380 398.4L375 403.4L372 411.4L356 408.4L350 398.1L344 386.1L339 373.4L336 371.9L319 371.4L311 369.4L306 367.4Z" fill="#7a7ab8" fill-opacity="0.052"/>
<path d="M306 359L311 361L319 363L336 363.5L339 365L344 377.7L350 389.7L356 400L372 403L375 395L380 390L382 386L382 395.6L380 399.6L375 404.6L372 412.6L356 409.6L350 399.3L344 387.3L339 374.6L336 373.1L319 372.6L311 370.6L306 368.6Z" fill="#7a7ab8" fill-opacity="0.05"/>
<path d="M306 359L311 361L319 363L336 363.5L339 365L344 377.7L350 389.7L356 400L372 403L375 395L380 390L382 386L382 396.8L380 400.8L375 405.8L372 413.8L356 410.8L350 400.5L344 388.5L339 375.8L336 374.3L319 373.8L311 371.8L306 369.8Z" fill="#7a7ab8" fill-opacity="0.047"/>
<path d="M306 359L311 361L319 363L336 363.5L339 365L344 377.7L350 389.7L356 400L372 403L375 395L380 390L382 386L382 398L380 402L375 407L372 415L356 412L350 401.7L344 389.7L339 377L336 375.5L319 375L311 373L306 371Z" fill="#7a7ab8" fill-opacity="0.052"/>
<rect x="313.9" y="347.9" width="1.2" height="18.0" fill="url(#g5)" fill-opacity="0.85"/>
<rect x="318.0" y="346.5" width="1.2" height="20.3" fill="url(#g5)" fill-opacity="0.85"/>
<rect x="322.0" y="346.4" width="1.2" height="20.7" fill="url(#g5)" fill-opacity="0.85"/>
<rect x="326.1" y="346.4" width="1.2" height="20.8" fill="url(#g5)" fill-opacity="0.85"/>
<rect x="330.1" y="346.4" width="1.2" height="20.9" fill="url(#g5)" fill-opacity="0.85"/>
<rect x="334.2" y="346.4" width="1.2" height="21.1" fill="url(#g5)" fill-opacity="0.85"/>
<rect x="338.3" y="331.9" width="1.2" height="37.1" fill="url(#g5)" fill-opacity="0.85"/>
<rect x="342.3" y="348.4" width="1.2" height="30.6" fill="url(#g5)" fill-opacity="0.85"/>
<rect x="346.4" y="353.0" width="1.2" height="34.7" fill="url(#g5)" fill-opacity="0.85"/>
<rect x="350.4" y="358.3" width="1.2" height="37.2" fill="url(#g5)" fill-opacity="0.85"/>
<rect x="354.5" y="367.1" width="1.2" height="35.4" fill="url(#g5)" fill-opacity="0.85"/>
<rect x="358.6" y="369.6" width="1.2" height="35.0" fill="url(#g5)" fill-opacity="0.85"/>
<rect x="362.6" y="370.4" width="1.2" height="35.0" fill="url(#g5)" fill-opacity="0.85"/>
<rect x="366.7" y="371.1" width="1.2" height="35.0" fill="url(#g5)" fill-opacity="0.85"/>
<rect x="370.7" y="371.9" width="1.2" height="35.0" fill="url(#g5)" fill-opacity="0.85"/>
<rect x="374.8" y="370.0" width="1.2" height="28.6" fill="url(#g5)" fill-opacity="0.85"/>
<rect x="378.9" y="362.9" width="1.2" height="31.6" fill="url(#g5)" fill-opacity="0.85"/>
</g>
<g filter="url(#b)">
<rect x="441.6" y="374" width="3.8" height="22" fill="#a020f0" fill-opacity="1.0"/>
<path d="M441.6 396L445.4 396L445.4 396.8L441.6 396.8Z" fill="#a020f0" fill-opacity="0.122"/>
<path d="M441.6 396L445.4 396L445.4 397.6L441.6 397.6Z" fill="#a020f0" fill-opacity="0.109"/>
<path d="M441.6 396L445.4 396L445.4 398.4L441.6 398.4Z" fill="#a020f0" fill-opacity="0.098"/>
<path d="M441.6 396L445.4 396L445.4 399.2L441.6 399.2Z" fill="#a020f0" fill-opacity="0.09"/>
<path d="M441.6 396L445.4 396L445.4 400L441.6 400Z" fill="#a020f0" fill-opacity="0.082"/>
<path d="M441.6 396L445.4 396L445.4 400.8L441.6 400.8Z" fill="#a020f0" fill-opacity="0.076"/>
<path d="M441.6 396L445.4 396L445.4 401.6L441.6 401.6Z" fill="#a020f0" fill-opacity="0.071"/>
<path d="M441.6 396L445.4 396L445.4 402.4L441.6 402.4Z" fill="#a020f0" fill-opacity="0.066"/>
<path d="M441.6 396L445.4 396L445.4 403.2L441.6 403.2Z" fill="#a020f0" fill-opacity="0.062"/>
<path d="M441.6 396L445.4 396L445.4 404L441.6 404Z" fill="#a020f0" fill-opacity="0.03"/>
<path d="M441.6 375L445.4 375L445.4 374.5L441.6 374.5Z" fill="#a020f0" fill-opacity="0.061"/>
<path d="M441.6 375L445.4 375L445.4 374L441.6 374Z" fill="#a020f0" fill-opacity="0.057"/>
<path d="M441.6 375L445.4 375L445.4 373.5L441.6 373.5Z" fill="#a020f0" fill-opacity="0.054"/>
<path d="M441.6 375L445.4 375L445.4 373L441.6 373Z" fill="#a020f0" fill-opacity="0.051"/>
<path d="M441.6 375L445.4 375L445.4 372.5L441.6 372.5Z" fill="#a020f0" fill-opacity="0.049"/>
<path d="M441.6 375L445.4 375L445.4 372L441.6 372Z" fill="#a020f0" fill-opacity="0.047"/>
<path d="M441.6 375L445.4 375L445.4 371.5L441.6 371.5Z" fill="#a020f0" fill-opacity="0.044"/>
<path d="M441.6 375L445.4 375L445.4 371L441.6 371Z" fill="#a020f0" fill-opacity="0.043"/>
<path d="M441.6 375L445.4 375L445.4 370.5L441.6 370.5Z" fill="#a020f0" fill-opacity="0.041"/>
<path d="M441.6 375L445.4 375L445.4 370L441.6 370Z" fill="#a020f0" fill-opacity="0.02"/>
<path d="M442.7 412.7h0.8v0.8h-0.8zM442.3 416.7h0.8v0.8h-0.8zM444.5 413.3h0.8v0.8h-0.8zM443.4 410.7h0.8v0.8h-0.8zM443.3 411.9h0.8v0.8h-0.8zM441.9 409.1h0.8v0.8h-0.8z" fill="#a020f0" fill-opacity="0.35"/>
</g>
<text x="441.4" y="366.2" font-family="Liberation Serif" font-size="6.1" text-anchor="middle" fill="#1a1a1a" stroke="#1a1a1a" stroke-width="0.15" filter="url(#t)" text-rendering="geometricPrecision">NA</text>
<rect x="253.6" y="241.3" width="197.1" height="195.7" fill="none" stroke="#8c8c8c" stroke-width="1"/>
<path d="M260.4 437.0v3.4M301 437.0v3.4M341.5 437.0v3.4M382.1 437.0v3.4M422.7 437.0v3.4M253.6 281.1h-3.4M253.6 324.8h-3.4M253.6 368.6h-3.4M253.6 412.4h-3.4" stroke="#6a6a6a" stroke-width="1" fill="none"/>
<g filter="url(#t)" fill="#1a1a1a" stroke="#1a1a1a" stroke-width="0.1" text-rendering="geometricPrecision">
<text x="260.4" y="446.8" font-family="Liberation Sans" font-size="5.8" text-anchor="middle">0</text>
<text x="301" y="446.8" font-family="Liberation Sans" font-size="5.8" text-anchor="middle">50</text>
<text x="341.5" y="446.8" font-family="Liberation Sans" font-size="5.8" text-anchor="middle">100</text>
<text x="382.1" y="446.8" font-family="Liberation Sans" font-size="5.8" text-anchor="middle">150</text>
<text x="422.7" y="446.8" font-family="Liberation Sans" font-size="5.8" text-anchor="middle">200</text>
<text transform="translate(248.2 281.2) rotate(-90)" font-family="Liberation Sans" font-size="5.8" text-anchor="middle">1.0</text>
<text transform="translate(248.2 324.9) rotate(-90)" font-family="Liberation Sans" font-size="5.8" text-anchor="middle">0.5</text>
<text transform="translate(248.2 368.8) rotate(-90)" font-family="Liberation Sans" font-size="5.8" text-anchor="middle">0.0</text>
<text transform="translate(248.2 412.5) rotate(-90)" font-family="Liberation Sans" font-size="5.8" text-anchor="middle">-0.5</text>
<text x="354.5" y="456.4" font-family="Liberation Sans" font-size="6.7" text-anchor="middle">Systolic blood pressure (mmHg)</text>
<text transform="translate(239.8 339.1) rotate(-90)" font-family="Liberation Sans" font-size="5.6" text-anchor="middle">SHAP</text>
</g>
<path d="M491.1 241.3V437.5M525.3 241.3V437.5M559.5 241.3V437.5M593.7 241.3V437.5M627.9 241.3V437.5M662.1 241.3V437.5M483.5 273.4H681.3M483.5 307.2H681.3M483.5 341H681.3M483.5 374.8H681.3M483.5 408.6H681.3" stroke="#f5f5f5" stroke-width="1.2" fill="none"/>
<g filter="url(#b)">
<rect x="489.2" y="407" width="3.8" height="20.5" fill="#0000ff" fill-opacity="0.9"/>
<path d="M489.2 407L493 407L493 406L489.2 406Z" fill="#0000ff" fill-opacity="0.073"/>
<path d="M489.2 407L493 407L493 405L489.2 405Z" fill="#0000ff" fill-opacity="0.068"/>
<path d="M489.2 407L493 407L493 404L489.2 404Z" fill="#0000ff" fill-opacity="0.064"/>
<path d="M489.2 407L493 407L493 403L489.2 403Z" fill="#0000ff" fill-opacity="0.06"/>
<path d="M489.2 407L493 407L493 402L489.2 402Z" fill="#0000ff" fill-opacity="0.056"/>
<path d="M489.2 407L493 407L493 401L489.2 401Z" fill="#0000ff" fill-opacity="0.053"/>
<path d="M489.2 407L493 407L493 400L489.2 400Z" fill="#0000ff" fill-opacity="0.051"/>
<path d="M489.2 407L493 407L493 399L489.2 399Z" fill="#0000ff" fill-opacity="0.048"/>
<path d="M489.2 407L493 407L493 398L489.2 398Z" fill="#0000ff" fill-opacity="0.046"/>
<path d="M489.2 407L493 407L493 397L489.2 397Z" fill="#0000ff" fill-opacity="0.022"/>
<path d="M489.2 427.5L493 427.5L493 428.1L489.2 428.1Z" fill="#0000ff" fill-opacity="0.073"/>
<path d="M489.2 427.5L493 427.5L493 428.6L489.2 428.6Z" fill="#0000ff" fill-opacity="0.068"/>
<path d="M489.2 427.5L493 427.5L493 429.1L489.2 429.1Z" fill="#0000ff" fill-opacity="0.064"/>
<path d="M489.2 427.5L493 427.5L493 429.7L489.2 429.7Z" fill="#0000ff" fill-opacity="0.06"/>
<path d="M489.2 427.5L493 427.5L493 430.2L489.2 430.2Z" fill="#0000ff" fill-opacity="0.056"/>
<path d="M489.2 427.5L493 427.5L493 430.8L489.2 430.8Z" fill="#0000ff" fill-opacity="0.053"/>
<path d="M489.2 427.5L493 427.5L493 431.4L489.2 431.4Z" fill="#0000ff" fill-opacity="0.051"/>
<path d="M489.2 427.5L493 427.5L493 431.9L489.2 431.9Z" fill="#0000ff" fill-opacity="0.048"/>
<path d="M489.2 427.5L493 427.5L493 432.4L489.2 432.4Z" fill="#0000ff" fill-opacity="0.046"/>
<path d="M489.2 427.5L493 427.5L493 433L489.2 433Z" fill="#0000ff" fill-opacity="0.022"/>
<path d="M660.8 315L663.6 315L663.6 310L660.8 310Z" fill="#7070d0" fill-opacity="0.038"/>
<path d="M660.8 315L663.6 315L663.6 305L660.8 305Z" fill="#7070d0" fill-opacity="0.033"/>
<path d="M660.8 315L663.6 315L663.6 300L660.8 300Z" fill="#7070d0" fill-opacity="0.028"/>
<path d="M660.8 315L663.6 315L663.6 295L660.8 295Z" fill="#7070d0" fill-opacity="0.023"/>
<path d="M660.8 315L663.6 315L663.6 290L660.8 290Z" fill="#7070d0" fill-opacity="0.019"/>
<path d="M660.8 315L663.6 315L663.6 285L660.8 285Z" fill="#7070d0" fill-opacity="0.015"/>
<path d="M660.8 315L663.6 315L663.6 280L660.8 280Z" fill="#7070d0" fill-opacity="0.011"/>
<path d="M660.8 315L663.6 315L663.6 275L660.8 275Z" fill="#7070d0" fill-opacity="0.007"/>
<path d="M660.8 315L663.6 315L663.6 265L660.8 265Z" fill="#7070d0" fill-opacity="0.02"/>
<path d="M660.8 315L663.6 315L663.6 358L660.8 358Z" fill="#7070d0" fill-opacity="0.26"/>
<path d="M660.8 358L663.6 358L663.6 359.4L660.8 359.4Z" fill="#7070d0" fill-opacity="0.04"/>
<path d="M660.8 358L663.6 358L663.6 360.8L660.8 360.8Z" fill="#7070d0" fill-opacity="0.039"/>
<path d="M660.8 358L663.6 358L663.6 362.2L660.8 362.2Z" fill="#7070d0" fill-opacity="0.037"/>
<path d="M660.8 358L663.6 358L663.6 363.6L660.8 363.6Z" fill="#7070d0" fill-opacity="0.036"/>
<path d="M660.8 358L663.6 358L663.6 365L660.8 365Z" fill="#7070d0" fill-opacity="0.035"/>
<path d="M660.8 358L663.6 358L663.6 366.4L660.8 366.4Z" fill="#7070d0" fill-opacity="0.034"/>
<path d="M660.8 358L663.6 358L663.6 367.8L660.8 367.8Z" fill="#7070d0" fill-opacity="0.032"/>
<path d="M660.8 358L663.6 358L663.6 369.2L660.8 369.2Z" fill="#7070d0" fill-opacity="0.031"/>
<path d="M660.8 358L663.6 358L663.6 370.6L660.8 370.6Z" fill="#7070d0" fill-opacity="0.03"/>
<path d="M660.8 358L663.6 358L663.6 372L660.8 372Z" fill="#7070d0" fill-opacity="0.015"/>
<path d="M661.9 363.5h0.8v0.8h-0.8zM661.6 284.9h0.8v0.8h-0.8zM663.0 340.7h0.8v0.8h-0.8zM661.0 363.9h0.8v0.8h-0.8zM663.3 314.3h0.8v0.8h-0.8zM663.0 341.8h0.8v0.8h-0.8zM663.5 369.2h0.8v0.8h-0.8zM661.9 258.4h0.8v0.8h-0.8zM662.1 311.6h0.8v0.8h-0.8zM663.5 301.6h0.8v0.8h-0.8zM663.2 345.2h0.8v0.8h-0.8zM662.0 332.3h0.8v0.8h-0.8zM660.8 344.0h0.8v0.8h-0.8zM662.1 318.2h0.8v0.8h-0.8zM660.9 355.3h0.8v0.8h-0.8zM663.2 252.9h0.8v0.8h-0.8zM662.1 257.0h0.8v0.8h-0.8zM662.8 255.4h0.8v0.8h-0.8zM661.4 347.8h0.8v0.8h-0.8zM661.2 341.4h0.8v0.8h-0.8zM662.3 258.4h0.8v0.8h-0.8zM661.9 314.4h0.8v0.8h-0.8zM661.4 367.4h0.8v0.8h-0.8zM662.3 286.8h0.8v0.8h-0.8zM662.5 366.7h0.8v0.8h-0.8zM663.3 263.4h0.8v0.8h-0.8zM663.4 291.3h0.8v0.8h-0.8zM663.1 373.1h0.8v0.8h-0.8zM661.8 301.6h0.8v0.8h-0.8zM661.3 275.9h0.8v0.8h-0.8zM662.8 313.5h0.8v0.8h-0.8zM661.1 318.3h0.8v0.8h-0.8zM661.3 371.9h0.8v0.8h-0.8zM661.5 353.7h0.8v0.8h-0.8zM663.3 343.2h0.8v0.8h-0.8zM663.3 332.0h0.8v0.8h-0.8zM660.8 371.0h0.8v0.8h-0.8zM663.2 320.3h0.8v0.8h-0.8zM663.6 342.6h0.8v0.8h-0.8zM661.5 370.1h0.8v0.8h-0.8zM663.2 344.6h0.8v0.8h-0.8zM663.0 346.2h0.8v0.8h-0.8zM661.1 368.6h0.8v0.8h-0.8zM661.4 318.2h0.8v0.8h-0.8zM661.7 362.3h0.8v0.8h-0.8zM660.9 374.4h0.8v0.8h-0.8zM661.6 356.4h0.8v0.8h-0.8zM660.8 375.3h0.8v0.8h-0.8zM662.5 354.0h0.8v0.8h-0.8zM660.9 337.5h0.8v0.8h-0.8zM662.3 350.2h0.8v0.8h-0.8zM663.4 378.0h0.8v0.8h-0.8zM663.6 379.3h0.8v0.8h-0.8zM660.8 339.6h0.8v0.8h-0.8zM662.3 370.7h0.8v0.8h-0.8z" fill="#6060c8" fill-opacity="0.3"/>
<rect x="672" y="394" width="4" height="18" fill="#a020f0" fill-opacity="1.0"/>
<path d="M672 394L676 394L676 392.6L672 392.6Z" fill="#a020f0" fill-opacity="0.103"/>
<path d="M672 394L676 394L676 391.2L672 391.2Z" fill="#a020f0" fill-opacity="0.094"/>
<path d="M672 394L676 394L676 389.8L672 389.8Z" fill="#a020f0" fill-opacity="0.086"/>
<path d="M672 394L676 394L676 388.4L672 388.4Z" fill="#a020f0" fill-opacity="0.079"/>
<path d="M672 394L676 394L676 387L672 387Z" fill="#a020f0" fill-opacity="0.073"/>
<path d="M672 394L676 394L676 385.6L672 385.6Z" fill="#a020f0" fill-opacity="0.068"/>
<path d="M672 394L676 394L676 384.2L672 384.2Z" fill="#a020f0" fill-opacity="0.064"/>
<path d="M672 394L676 394L676 382.8L672 382.8Z" fill="#a020f0" fill-opacity="0.06"/>
<path d="M672 394L676 394L676 381.4L672 381.4Z" fill="#a020f0" fill-opacity="0.057"/>
<path d="M672 394L676 394L676 380L672 380Z" fill="#a020f0" fill-opacity="0.028"/>
<path d="M672 412L676 412L676 412.8L672 412.8Z" fill="#a020f0" fill-opacity="0.073"/>
<path d="M672 412L676 412L676 413.6L672 413.6Z" fill="#a020f0" fill-opacity="0.068"/>
<path d="M672 412L676 412L676 414.4L672 414.4Z" fill="#a020f0" fill-opacity="0.064"/>
<path d="M672 412L676 412L676 415.2L672 415.2Z" fill="#a020f0" fill-opacity="0.06"/>
<path d="M672 412L676 412L676 416L672 416Z" fill="#a020f0" fill-opacity="0.056"/>
<path d="M672 412L676 412L676 416.8L672 416.8Z" fill="#a020f0" fill-opacity="0.053"/>
<path d="M672 412L676 412L676 417.6L672 417.6Z" fill="#a020f0" fill-opacity="0.051"/>
<path d="M672 412L676 412L676 418.4L672 418.4Z" fill="#a020f0" fill-opacity="0.048"/>
<path d="M672 412L676 412L676 419.2L672 419.2Z" fill="#a020f0" fill-opacity="0.046"/>
<path d="M672 412L676 412L676 420L672 420Z" fill="#a020f0" fill-opacity="0.022"/>
</g>
<text x="674.9" y="375.8" font-family="Liberation Serif" font-size="6.1" text-anchor="middle" fill="#1a1a1a" stroke="#1a1a1a" stroke-width="0.15" filter="url(#t)" text-rendering="geometricPrecision">NA</text>
<rect x="483.5" y="241.3" width="197.8" height="196.2" fill="none" stroke="#8c8c8c" stroke-width="1"/>
<path d="M491.1 437.5v3.4M662.1 437.5v3.4M483.5 273.4h-3.4M483.5 307.2h-3.4M483.5 341h-3.4M483.5 374.8h-3.4M483.5 408.6h-3.4" stroke="#6a6a6a" stroke-width="1" fill="none"/>
<g filter="url(#t)" fill="#1a1a1a" stroke="#1a1a1a" stroke-width="0.1" text-rendering="geometricPrecision">
<text x="491.1" y="447.3" font-family="Liberation Serif" font-size="6.4" text-anchor="middle">No</text>
<text x="662.1" y="447.3" font-family="Liberation Serif" font-size="6.4" text-anchor="middle">Yes</text>
<text transform="translate(478.2 273.5) rotate(-90)" font-family="Liberation Sans" font-size="5.8" text-anchor="middle">0.8</text>
<text transform="translate(478.2 307.3) rotate(-90)" font-family="Liberation Sans" font-size="5.8" text-anchor="middle">0.6</text>
<text transform="translate(478.2 341.1) rotate(-90)" font-family="Liberation Sans" font-size="5.8" text-anchor="middle">0.4</text>
<text transform="translate(478.2 374.9) rotate(-90)" font-family="Liberation Sans" font-size="5.8" text-anchor="middle">0.2</text>
<text transform="translate(478.2 408.8) rotate(-90)" font-family="Liberation Sans" font-size="5.8" text-anchor="middle">0.0</text>
<text x="581.8" y="456" font-family="Liberation Sans" font-size="6.7" text-anchor="middle">Previous sepsis</text>
<text transform="translate(469.7 339.4) rotate(-90)" font-family="Liberation Sans" font-size="5.6" text-anchor="middle">SHAP</text>
</g>
</svg>
</body></html>
